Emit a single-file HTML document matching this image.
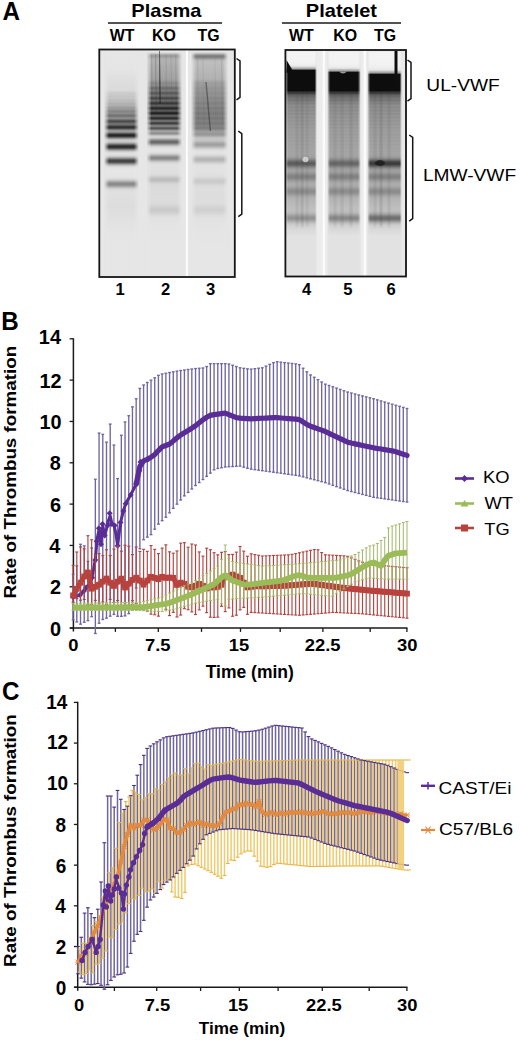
<!DOCTYPE html>
<html><head><meta charset="utf-8"><style>html,body{margin:0;padding:0;background:#fff;width:520px;height:1040px;overflow:hidden}svg{display:block}text{font-family:"Liberation Sans",sans-serif}</style></head>
<body><svg width="520" height="1040" viewBox="0 0 520 1040" font-family="Liberation Sans, sans-serif">
<defs>
<linearGradient id="l1" x1="0" y1="0" x2="0" y2="1"><stop offset="0.0000" stop-color="rgb(230,230,230)"/><stop offset="0.0044" stop-color="rgb(230,230,230)"/><stop offset="0.0088" stop-color="rgb(230,230,230)"/><stop offset="0.0133" stop-color="rgb(230,230,230)"/><stop offset="0.0177" stop-color="rgb(230,230,230)"/><stop offset="0.0221" stop-color="rgb(230,230,230)"/><stop offset="0.0265" stop-color="rgb(230,230,230)"/><stop offset="0.0310" stop-color="rgb(230,230,230)"/><stop offset="0.0354" stop-color="rgb(230,230,230)"/><stop offset="0.0398" stop-color="rgb(230,230,230)"/><stop offset="0.0442" stop-color="rgb(230,230,230)"/><stop offset="0.0487" stop-color="rgb(230,230,230)"/><stop offset="0.0531" stop-color="rgb(230,230,230)"/><stop offset="0.0575" stop-color="rgb(230,230,230)"/><stop offset="0.0619" stop-color="rgb(229,229,229)"/><stop offset="0.0664" stop-color="rgb(229,229,229)"/><stop offset="0.0708" stop-color="rgb(229,229,229)"/><stop offset="0.0752" stop-color="rgb(229,229,229)"/><stop offset="0.0796" stop-color="rgb(229,229,229)"/><stop offset="0.0841" stop-color="rgb(228,228,228)"/><stop offset="0.0885" stop-color="rgb(228,228,228)"/><stop offset="0.0929" stop-color="rgb(227,227,227)"/><stop offset="0.0973" stop-color="rgb(227,227,227)"/><stop offset="0.1018" stop-color="rgb(227,227,227)"/><stop offset="0.1062" stop-color="rgb(226,226,226)"/><stop offset="0.1106" stop-color="rgb(225,225,225)"/><stop offset="0.1150" stop-color="rgb(225,225,225)"/><stop offset="0.1195" stop-color="rgb(224,224,224)"/><stop offset="0.1239" stop-color="rgb(223,223,223)"/><stop offset="0.1283" stop-color="rgb(223,223,223)"/><stop offset="0.1327" stop-color="rgb(222,222,222)"/><stop offset="0.1372" stop-color="rgb(222,222,222)"/><stop offset="0.1416" stop-color="rgb(221,221,221)"/><stop offset="0.1460" stop-color="rgb(221,221,221)"/><stop offset="0.1504" stop-color="rgb(220,220,220)"/><stop offset="0.1549" stop-color="rgb(220,220,220)"/><stop offset="0.1593" stop-color="rgb(219,219,219)"/><stop offset="0.1637" stop-color="rgb(219,219,219)"/><stop offset="0.1681" stop-color="rgb(219,219,219)"/><stop offset="0.1726" stop-color="rgb(219,219,219)"/><stop offset="0.1770" stop-color="rgb(218,218,218)"/><stop offset="0.1814" stop-color="rgb(214,214,214)"/><stop offset="0.1858" stop-color="rgb(207,207,207)"/><stop offset="0.1903" stop-color="rgb(202,202,202)"/><stop offset="0.1947" stop-color="rgb(203,203,203)"/><stop offset="0.1991" stop-color="rgb(202,202,202)"/><stop offset="0.2035" stop-color="rgb(197,197,197)"/><stop offset="0.2080" stop-color="rgb(198,198,198)"/><stop offset="0.2124" stop-color="rgb(199,199,199)"/><stop offset="0.2168" stop-color="rgb(193,193,193)"/><stop offset="0.2212" stop-color="rgb(188,188,188)"/><stop offset="0.2257" stop-color="rgb(189,189,189)"/><stop offset="0.2301" stop-color="rgb(185,185,185)"/><stop offset="0.2345" stop-color="rgb(178,178,178)"/><stop offset="0.2389" stop-color="rgb(177,177,177)"/><stop offset="0.2434" stop-color="rgb(177,177,177)"/><stop offset="0.2478" stop-color="rgb(169,169,169)"/><stop offset="0.2522" stop-color="rgb(158,158,158)"/><stop offset="0.2566" stop-color="rgb(157,157,157)"/><stop offset="0.2611" stop-color="rgb(155,155,155)"/><stop offset="0.2655" stop-color="rgb(143,143,143)"/><stop offset="0.2699" stop-color="rgb(134,134,134)"/><stop offset="0.2743" stop-color="rgb(138,138,138)"/><stop offset="0.2788" stop-color="rgb(140,140,140)"/><stop offset="0.2832" stop-color="rgb(129,129,129)"/><stop offset="0.2876" stop-color="rgb(114,114,114)"/><stop offset="0.2920" stop-color="rgb(116,116,116)"/><stop offset="0.2965" stop-color="rgb(134,134,134)"/><stop offset="0.3009" stop-color="rgb(142,142,142)"/><stop offset="0.3053" stop-color="rgb(123,123,123)"/><stop offset="0.3097" stop-color="rgb(92,92,92)"/><stop offset="0.3142" stop-color="rgb(76,76,76)"/><stop offset="0.3186" stop-color="rgb(86,86,86)"/><stop offset="0.3230" stop-color="rgb(109,109,109)"/><stop offset="0.3274" stop-color="rgb(116,116,116)"/><stop offset="0.3319" stop-color="rgb(95,95,95)"/><stop offset="0.3363" stop-color="rgb(62,62,62)"/><stop offset="0.3407" stop-color="rgb(47,47,47)"/><stop offset="0.3451" stop-color="rgb(67,67,67)"/><stop offset="0.3496" stop-color="rgb(109,109,109)"/><stop offset="0.3540" stop-color="rgb(147,147,147)"/><stop offset="0.3584" stop-color="rgb(158,158,158)"/><stop offset="0.3628" stop-color="rgb(137,137,137)"/><stop offset="0.3673" stop-color="rgb(94,94,94)"/><stop offset="0.3717" stop-color="rgb(53,53,53)"/><stop offset="0.3761" stop-color="rgb(36,36,36)"/><stop offset="0.3805" stop-color="rgb(54,54,54)"/><stop offset="0.3850" stop-color="rgb(97,97,97)"/><stop offset="0.3894" stop-color="rgb(147,147,147)"/><stop offset="0.3938" stop-color="rgb(185,185,185)"/><stop offset="0.3982" stop-color="rgb(204,204,204)"/><stop offset="0.4027" stop-color="rgb(204,204,204)"/><stop offset="0.4071" stop-color="rgb(186,186,186)"/><stop offset="0.4115" stop-color="rgb(152,152,152)"/><stop offset="0.4159" stop-color="rgb(109,109,109)"/><stop offset="0.4204" stop-color="rgb(68,68,68)"/><stop offset="0.4248" stop-color="rgb(46,46,46)"/><stop offset="0.4292" stop-color="rgb(52,52,52)"/><stop offset="0.4336" stop-color="rgb(83,83,83)"/><stop offset="0.4381" stop-color="rgb(127,127,127)"/><stop offset="0.4425" stop-color="rgb(168,168,168)"/><stop offset="0.4469" stop-color="rgb(198,198,198)"/><stop offset="0.4513" stop-color="rgb(216,216,216)"/><stop offset="0.4558" stop-color="rgb(223,223,223)"/><stop offset="0.4602" stop-color="rgb(223,223,223)"/><stop offset="0.4646" stop-color="rgb(216,216,216)"/><stop offset="0.4690" stop-color="rgb(200,200,200)"/><stop offset="0.4735" stop-color="rgb(172,172,172)"/><stop offset="0.4779" stop-color="rgb(135,135,135)"/><stop offset="0.4823" stop-color="rgb(97,97,97)"/><stop offset="0.4867" stop-color="rgb(71,71,71)"/><stop offset="0.4912" stop-color="rgb(69,69,69)"/><stop offset="0.4956" stop-color="rgb(90,90,90)"/><stop offset="0.5000" stop-color="rgb(127,127,127)"/><stop offset="0.5044" stop-color="rgb(165,165,165)"/><stop offset="0.5088" stop-color="rgb(195,195,195)"/><stop offset="0.5133" stop-color="rgb(214,214,214)"/><stop offset="0.5177" stop-color="rgb(224,224,224)"/><stop offset="0.5221" stop-color="rgb(228,228,228)"/><stop offset="0.5265" stop-color="rgb(229,229,229)"/><stop offset="0.5310" stop-color="rgb(229,229,229)"/><stop offset="0.5354" stop-color="rgb(230,230,230)"/><stop offset="0.5398" stop-color="rgb(229,229,229)"/><stop offset="0.5442" stop-color="rgb(229,229,229)"/><stop offset="0.5487" stop-color="rgb(229,229,229)"/><stop offset="0.5531" stop-color="rgb(229,229,229)"/><stop offset="0.5575" stop-color="rgb(228,228,228)"/><stop offset="0.5619" stop-color="rgb(225,225,225)"/><stop offset="0.5664" stop-color="rgb(219,219,219)"/><stop offset="0.5708" stop-color="rgb(208,208,208)"/><stop offset="0.5752" stop-color="rgb(192,192,192)"/><stop offset="0.5796" stop-color="rgb(171,171,171)"/><stop offset="0.5841" stop-color="rgb(151,151,151)"/><stop offset="0.5885" stop-color="rgb(139,139,139)"/><stop offset="0.5929" stop-color="rgb(139,139,139)"/><stop offset="0.5973" stop-color="rgb(150,150,150)"/><stop offset="0.6018" stop-color="rgb(170,170,170)"/><stop offset="0.6062" stop-color="rgb(190,190,190)"/><stop offset="0.6106" stop-color="rgb(206,206,206)"/><stop offset="0.6150" stop-color="rgb(216,216,216)"/><stop offset="0.6195" stop-color="rgb(221,221,221)"/><stop offset="0.6239" stop-color="rgb(223,223,223)"/><stop offset="0.6283" stop-color="rgb(224,224,224)"/><stop offset="0.6327" stop-color="rgb(224,224,224)"/><stop offset="0.6372" stop-color="rgb(224,224,224)"/><stop offset="0.6416" stop-color="rgb(223,223,223)"/><stop offset="0.6460" stop-color="rgb(223,223,223)"/><stop offset="0.6504" stop-color="rgb(223,223,223)"/><stop offset="0.6549" stop-color="rgb(222,222,222)"/><stop offset="0.6593" stop-color="rgb(222,222,222)"/><stop offset="0.6637" stop-color="rgb(222,222,222)"/><stop offset="0.6681" stop-color="rgb(222,222,222)"/><stop offset="0.6726" stop-color="rgb(222,222,222)"/><stop offset="0.6770" stop-color="rgb(221,221,221)"/><stop offset="0.6814" stop-color="rgb(221,221,221)"/><stop offset="0.6858" stop-color="rgb(221,221,221)"/><stop offset="0.6903" stop-color="rgb(221,221,221)"/><stop offset="0.6947" stop-color="rgb(221,221,221)"/><stop offset="0.6991" stop-color="rgb(222,222,222)"/><stop offset="0.7035" stop-color="rgb(222,222,222)"/><stop offset="0.7080" stop-color="rgb(222,222,222)"/><stop offset="0.7124" stop-color="rgb(222,222,222)"/><stop offset="0.7168" stop-color="rgb(222,222,222)"/><stop offset="0.7212" stop-color="rgb(223,223,223)"/><stop offset="0.7257" stop-color="rgb(223,223,223)"/><stop offset="0.7301" stop-color="rgb(223,223,223)"/><stop offset="0.7345" stop-color="rgb(224,224,224)"/><stop offset="0.7389" stop-color="rgb(224,224,224)"/><stop offset="0.7434" stop-color="rgb(224,224,224)"/><stop offset="0.7478" stop-color="rgb(225,225,225)"/><stop offset="0.7522" stop-color="rgb(225,225,225)"/><stop offset="0.7566" stop-color="rgb(226,226,226)"/><stop offset="0.7611" stop-color="rgb(226,226,226)"/><stop offset="0.7655" stop-color="rgb(226,226,226)"/><stop offset="0.7699" stop-color="rgb(227,227,227)"/><stop offset="0.7743" stop-color="rgb(227,227,227)"/><stop offset="0.7788" stop-color="rgb(227,227,227)"/><stop offset="0.7832" stop-color="rgb(227,227,227)"/><stop offset="0.7876" stop-color="rgb(228,228,228)"/><stop offset="0.7920" stop-color="rgb(228,228,228)"/><stop offset="0.7965" stop-color="rgb(228,228,228)"/><stop offset="0.8009" stop-color="rgb(228,228,228)"/><stop offset="0.8053" stop-color="rgb(229,229,229)"/><stop offset="0.8097" stop-color="rgb(229,229,229)"/><stop offset="0.8142" stop-color="rgb(229,229,229)"/><stop offset="0.8186" stop-color="rgb(229,229,229)"/><stop offset="0.8230" stop-color="rgb(229,229,229)"/><stop offset="0.8274" stop-color="rgb(229,229,229)"/><stop offset="0.8319" stop-color="rgb(229,229,229)"/><stop offset="0.8363" stop-color="rgb(230,230,230)"/><stop offset="0.8407" stop-color="rgb(230,230,230)"/><stop offset="0.8451" stop-color="rgb(230,230,230)"/><stop offset="0.8496" stop-color="rgb(230,230,230)"/><stop offset="0.8540" stop-color="rgb(230,230,230)"/><stop offset="0.8584" stop-color="rgb(230,230,230)"/><stop offset="0.8628" stop-color="rgb(230,230,230)"/><stop offset="0.8673" stop-color="rgb(230,230,230)"/><stop offset="0.8717" stop-color="rgb(230,230,230)"/><stop offset="0.8761" stop-color="rgb(230,230,230)"/><stop offset="0.8805" stop-color="rgb(230,230,230)"/><stop offset="0.8850" stop-color="rgb(230,230,230)"/><stop offset="0.8894" stop-color="rgb(230,230,230)"/><stop offset="0.8938" stop-color="rgb(230,230,230)"/><stop offset="0.8982" stop-color="rgb(230,230,230)"/><stop offset="0.9027" stop-color="rgb(230,230,230)"/><stop offset="0.9071" stop-color="rgb(230,230,230)"/><stop offset="0.9115" stop-color="rgb(230,230,230)"/><stop offset="0.9159" stop-color="rgb(230,230,230)"/><stop offset="0.9204" stop-color="rgb(230,230,230)"/><stop offset="0.9248" stop-color="rgb(230,230,230)"/><stop offset="0.9292" stop-color="rgb(230,230,230)"/><stop offset="0.9336" stop-color="rgb(230,230,230)"/><stop offset="0.9381" stop-color="rgb(230,230,230)"/><stop offset="0.9425" stop-color="rgb(230,230,230)"/><stop offset="0.9469" stop-color="rgb(230,230,230)"/><stop offset="0.9513" stop-color="rgb(230,230,230)"/><stop offset="0.9558" stop-color="rgb(230,230,230)"/><stop offset="0.9602" stop-color="rgb(230,230,230)"/><stop offset="0.9646" stop-color="rgb(230,230,230)"/><stop offset="0.9690" stop-color="rgb(230,230,230)"/><stop offset="0.9735" stop-color="rgb(230,230,230)"/><stop offset="0.9779" stop-color="rgb(230,230,230)"/><stop offset="0.9823" stop-color="rgb(230,230,230)"/><stop offset="0.9867" stop-color="rgb(230,230,230)"/><stop offset="0.9912" stop-color="rgb(230,230,230)"/><stop offset="0.9956" stop-color="rgb(230,230,230)"/><stop offset="1.0000" stop-color="rgb(230,230,230)"/></linearGradient>
<linearGradient id="l1mg" x1="0" y1="0" x2="1" y2="0"><stop offset="0" stop-color="#000"/><stop offset="0.143" stop-color="#fff"/><stop offset="0.857" stop-color="#fff"/><stop offset="1" stop-color="#000"/></linearGradient><mask id="l1m" maskUnits="userSpaceOnUse" x="104" y="50" width="35" height="227"><rect x="104" y="50" width="35" height="227" fill="url(#l1mg)"/></mask>
<linearGradient id="l2" x1="0" y1="0" x2="0" y2="1"><stop offset="0.0000" stop-color="rgb(230,230,230)"/><stop offset="0.0044" stop-color="rgb(230,230,230)"/><stop offset="0.0088" stop-color="rgb(229,229,229)"/><stop offset="0.0133" stop-color="rgb(211,211,211)"/><stop offset="0.0177" stop-color="rgb(188,188,188)"/><stop offset="0.0221" stop-color="rgb(162,162,162)"/><stop offset="0.0265" stop-color="rgb(156,156,156)"/><stop offset="0.0310" stop-color="rgb(160,160,160)"/><stop offset="0.0354" stop-color="rgb(170,170,170)"/><stop offset="0.0398" stop-color="rgb(176,176,176)"/><stop offset="0.0442" stop-color="rgb(178,178,178)"/><stop offset="0.0487" stop-color="rgb(177,177,177)"/><stop offset="0.0531" stop-color="rgb(177,177,177)"/><stop offset="0.0575" stop-color="rgb(176,176,176)"/><stop offset="0.0619" stop-color="rgb(175,175,175)"/><stop offset="0.0664" stop-color="rgb(174,174,174)"/><stop offset="0.0708" stop-color="rgb(173,173,173)"/><stop offset="0.0752" stop-color="rgb(172,172,172)"/><stop offset="0.0796" stop-color="rgb(172,172,172)"/><stop offset="0.0841" stop-color="rgb(171,171,171)"/><stop offset="0.0885" stop-color="rgb(170,170,170)"/><stop offset="0.0929" stop-color="rgb(169,169,169)"/><stop offset="0.0973" stop-color="rgb(168,168,168)"/><stop offset="0.1018" stop-color="rgb(167,167,167)"/><stop offset="0.1062" stop-color="rgb(166,166,166)"/><stop offset="0.1106" stop-color="rgb(165,165,165)"/><stop offset="0.1150" stop-color="rgb(165,165,165)"/><stop offset="0.1195" stop-color="rgb(164,164,164)"/><stop offset="0.1239" stop-color="rgb(163,163,163)"/><stop offset="0.1283" stop-color="rgb(161,161,161)"/><stop offset="0.1327" stop-color="rgb(158,158,158)"/><stop offset="0.1372" stop-color="rgb(152,152,152)"/><stop offset="0.1416" stop-color="rgb(142,142,142)"/><stop offset="0.1460" stop-color="rgb(137,137,137)"/><stop offset="0.1504" stop-color="rgb(139,139,139)"/><stop offset="0.1549" stop-color="rgb(142,142,142)"/><stop offset="0.1593" stop-color="rgb(134,134,134)"/><stop offset="0.1637" stop-color="rgb(117,117,117)"/><stop offset="0.1681" stop-color="rgb(107,107,107)"/><stop offset="0.1726" stop-color="rgb(114,114,114)"/><stop offset="0.1770" stop-color="rgb(124,124,124)"/><stop offset="0.1814" stop-color="rgb(120,120,120)"/><stop offset="0.1858" stop-color="rgb(100,100,100)"/><stop offset="0.1903" stop-color="rgb(88,88,88)"/><stop offset="0.1947" stop-color="rgb(99,99,99)"/><stop offset="0.1991" stop-color="rgb(115,115,115)"/><stop offset="0.2035" stop-color="rgb(110,110,110)"/><stop offset="0.2080" stop-color="rgb(85,85,85)"/><stop offset="0.2124" stop-color="rgb(70,70,70)"/><stop offset="0.2168" stop-color="rgb(84,84,84)"/><stop offset="0.2212" stop-color="rgb(106,106,106)"/><stop offset="0.2257" stop-color="rgb(101,101,101)"/><stop offset="0.2301" stop-color="rgb(71,71,71)"/><stop offset="0.2345" stop-color="rgb(53,53,53)"/><stop offset="0.2389" stop-color="rgb(70,70,70)"/><stop offset="0.2434" stop-color="rgb(96,96,96)"/><stop offset="0.2478" stop-color="rgb(91,91,91)"/><stop offset="0.2522" stop-color="rgb(57,57,57)"/><stop offset="0.2566" stop-color="rgb(36,36,36)"/><stop offset="0.2611" stop-color="rgb(56,56,56)"/><stop offset="0.2655" stop-color="rgb(88,88,88)"/><stop offset="0.2699" stop-color="rgb(86,86,86)"/><stop offset="0.2743" stop-color="rgb(49,49,49)"/><stop offset="0.2788" stop-color="rgb(30,30,30)"/><stop offset="0.2832" stop-color="rgb(55,55,55)"/><stop offset="0.2876" stop-color="rgb(93,93,93)"/><stop offset="0.2920" stop-color="rgb(95,95,95)"/><stop offset="0.2965" stop-color="rgb(61,61,61)"/><stop offset="0.3009" stop-color="rgb(41,41,41)"/><stop offset="0.3053" stop-color="rgb(67,67,67)"/><stop offset="0.3097" stop-color="rgb(107,107,107)"/><stop offset="0.3142" stop-color="rgb(112,112,112)"/><stop offset="0.3186" stop-color="rgb(80,80,80)"/><stop offset="0.3230" stop-color="rgb(61,61,61)"/><stop offset="0.3274" stop-color="rgb(86,86,86)"/><stop offset="0.3319" stop-color="rgb(126,126,126)"/><stop offset="0.3363" stop-color="rgb(130,130,130)"/><stop offset="0.3407" stop-color="rgb(101,101,101)"/><stop offset="0.3451" stop-color="rgb(83,83,83)"/><stop offset="0.3496" stop-color="rgb(108,108,108)"/><stop offset="0.3540" stop-color="rgb(149,149,149)"/><stop offset="0.3584" stop-color="rgb(164,164,164)"/><stop offset="0.3628" stop-color="rgb(151,151,151)"/><stop offset="0.3673" stop-color="rgb(142,142,142)"/><stop offset="0.3717" stop-color="rgb(159,159,159)"/><stop offset="0.3761" stop-color="rgb(190,190,190)"/><stop offset="0.3805" stop-color="rgb(208,208,208)"/><stop offset="0.3850" stop-color="rgb(208,208,208)"/><stop offset="0.3894" stop-color="rgb(189,189,189)"/><stop offset="0.3938" stop-color="rgb(160,160,160)"/><stop offset="0.3982" stop-color="rgb(130,130,130)"/><stop offset="0.4027" stop-color="rgb(109,109,109)"/><stop offset="0.4071" stop-color="rgb(106,106,106)"/><stop offset="0.4115" stop-color="rgb(124,124,124)"/><stop offset="0.4159" stop-color="rgb(154,154,154)"/><stop offset="0.4204" stop-color="rgb(183,183,183)"/><stop offset="0.4248" stop-color="rgb(206,206,206)"/><stop offset="0.4292" stop-color="rgb(219,219,219)"/><stop offset="0.4336" stop-color="rgb(225,225,225)"/><stop offset="0.4381" stop-color="rgb(227,227,227)"/><stop offset="0.4425" stop-color="rgb(228,228,228)"/><stop offset="0.4469" stop-color="rgb(226,226,226)"/><stop offset="0.4513" stop-color="rgb(222,222,222)"/><stop offset="0.4558" stop-color="rgb(212,212,212)"/><stop offset="0.4602" stop-color="rgb(197,197,197)"/><stop offset="0.4646" stop-color="rgb(175,175,175)"/><stop offset="0.4690" stop-color="rgb(153,153,153)"/><stop offset="0.4735" stop-color="rgb(139,139,139)"/><stop offset="0.4779" stop-color="rgb(139,139,139)"/><stop offset="0.4823" stop-color="rgb(152,152,152)"/><stop offset="0.4867" stop-color="rgb(174,174,174)"/><stop offset="0.4912" stop-color="rgb(195,195,195)"/><stop offset="0.4956" stop-color="rgb(210,210,210)"/><stop offset="0.5000" stop-color="rgb(219,219,219)"/><stop offset="0.5044" stop-color="rgb(223,223,223)"/><stop offset="0.5088" stop-color="rgb(224,224,224)"/><stop offset="0.5133" stop-color="rgb(225,225,225)"/><stop offset="0.5177" stop-color="rgb(224,224,224)"/><stop offset="0.5221" stop-color="rgb(224,224,224)"/><stop offset="0.5265" stop-color="rgb(224,224,224)"/><stop offset="0.5310" stop-color="rgb(223,223,223)"/><stop offset="0.5354" stop-color="rgb(223,223,223)"/><stop offset="0.5398" stop-color="rgb(222,222,222)"/><stop offset="0.5442" stop-color="rgb(221,221,221)"/><stop offset="0.5487" stop-color="rgb(219,219,219)"/><stop offset="0.5531" stop-color="rgb(214,214,214)"/><stop offset="0.5575" stop-color="rgb(207,207,207)"/><stop offset="0.5619" stop-color="rgb(199,199,199)"/><stop offset="0.5664" stop-color="rgb(191,191,191)"/><stop offset="0.5708" stop-color="rgb(189,189,189)"/><stop offset="0.5752" stop-color="rgb(191,191,191)"/><stop offset="0.5796" stop-color="rgb(197,197,197)"/><stop offset="0.5841" stop-color="rgb(205,205,205)"/><stop offset="0.5885" stop-color="rgb(212,212,212)"/><stop offset="0.5929" stop-color="rgb(216,216,216)"/><stop offset="0.5973" stop-color="rgb(218,218,218)"/><stop offset="0.6018" stop-color="rgb(219,219,219)"/><stop offset="0.6062" stop-color="rgb(219,219,219)"/><stop offset="0.6106" stop-color="rgb(219,219,219)"/><stop offset="0.6150" stop-color="rgb(219,219,219)"/><stop offset="0.6195" stop-color="rgb(219,219,219)"/><stop offset="0.6239" stop-color="rgb(219,219,219)"/><stop offset="0.6283" stop-color="rgb(219,219,219)"/><stop offset="0.6327" stop-color="rgb(219,219,219)"/><stop offset="0.6372" stop-color="rgb(219,219,219)"/><stop offset="0.6416" stop-color="rgb(220,220,220)"/><stop offset="0.6460" stop-color="rgb(220,220,220)"/><stop offset="0.6504" stop-color="rgb(220,220,220)"/><stop offset="0.6549" stop-color="rgb(220,220,220)"/><stop offset="0.6593" stop-color="rgb(220,220,220)"/><stop offset="0.6637" stop-color="rgb(220,220,220)"/><stop offset="0.6681" stop-color="rgb(220,220,220)"/><stop offset="0.6726" stop-color="rgb(219,219,219)"/><stop offset="0.6770" stop-color="rgb(218,218,218)"/><stop offset="0.6814" stop-color="rgb(215,215,215)"/><stop offset="0.6858" stop-color="rgb(213,213,213)"/><stop offset="0.6903" stop-color="rgb(209,209,209)"/><stop offset="0.6947" stop-color="rgb(206,206,206)"/><stop offset="0.6991" stop-color="rgb(203,203,203)"/><stop offset="0.7035" stop-color="rgb(202,202,202)"/><stop offset="0.7080" stop-color="rgb(202,202,202)"/><stop offset="0.7124" stop-color="rgb(205,205,205)"/><stop offset="0.7168" stop-color="rgb(208,208,208)"/><stop offset="0.7212" stop-color="rgb(212,212,212)"/><stop offset="0.7257" stop-color="rgb(216,216,216)"/><stop offset="0.7301" stop-color="rgb(220,220,220)"/><stop offset="0.7345" stop-color="rgb(222,222,222)"/><stop offset="0.7389" stop-color="rgb(224,224,224)"/><stop offset="0.7434" stop-color="rgb(225,225,225)"/><stop offset="0.7478" stop-color="rgb(226,226,226)"/><stop offset="0.7522" stop-color="rgb(226,226,226)"/><stop offset="0.7566" stop-color="rgb(227,227,227)"/><stop offset="0.7611" stop-color="rgb(227,227,227)"/><stop offset="0.7655" stop-color="rgb(227,227,227)"/><stop offset="0.7699" stop-color="rgb(227,227,227)"/><stop offset="0.7743" stop-color="rgb(228,228,228)"/><stop offset="0.7788" stop-color="rgb(228,228,228)"/><stop offset="0.7832" stop-color="rgb(228,228,228)"/><stop offset="0.7876" stop-color="rgb(228,228,228)"/><stop offset="0.7920" stop-color="rgb(228,228,228)"/><stop offset="0.7965" stop-color="rgb(229,229,229)"/><stop offset="0.8009" stop-color="rgb(229,229,229)"/><stop offset="0.8053" stop-color="rgb(229,229,229)"/><stop offset="0.8097" stop-color="rgb(229,229,229)"/><stop offset="0.8142" stop-color="rgb(229,229,229)"/><stop offset="0.8186" stop-color="rgb(229,229,229)"/><stop offset="0.8230" stop-color="rgb(229,229,229)"/><stop offset="0.8274" stop-color="rgb(229,229,229)"/><stop offset="0.8319" stop-color="rgb(229,229,229)"/><stop offset="0.8363" stop-color="rgb(229,229,229)"/><stop offset="0.8407" stop-color="rgb(230,230,230)"/><stop offset="0.8451" stop-color="rgb(230,230,230)"/><stop offset="0.8496" stop-color="rgb(230,230,230)"/><stop offset="0.8540" stop-color="rgb(230,230,230)"/><stop offset="0.8584" stop-color="rgb(230,230,230)"/><stop offset="0.8628" stop-color="rgb(230,230,230)"/><stop offset="0.8673" stop-color="rgb(230,230,230)"/><stop offset="0.8717" stop-color="rgb(230,230,230)"/><stop offset="0.8761" stop-color="rgb(230,230,230)"/><stop offset="0.8805" stop-color="rgb(230,230,230)"/><stop offset="0.8850" stop-color="rgb(230,230,230)"/><stop offset="0.8894" stop-color="rgb(230,230,230)"/><stop offset="0.8938" stop-color="rgb(230,230,230)"/><stop offset="0.8982" stop-color="rgb(230,230,230)"/><stop offset="0.9027" stop-color="rgb(230,230,230)"/><stop offset="0.9071" stop-color="rgb(230,230,230)"/><stop offset="0.9115" stop-color="rgb(230,230,230)"/><stop offset="0.9159" stop-color="rgb(230,230,230)"/><stop offset="0.9204" stop-color="rgb(230,230,230)"/><stop offset="0.9248" stop-color="rgb(230,230,230)"/><stop offset="0.9292" stop-color="rgb(230,230,230)"/><stop offset="0.9336" stop-color="rgb(230,230,230)"/><stop offset="0.9381" stop-color="rgb(230,230,230)"/><stop offset="0.9425" stop-color="rgb(230,230,230)"/><stop offset="0.9469" stop-color="rgb(230,230,230)"/><stop offset="0.9513" stop-color="rgb(230,230,230)"/><stop offset="0.9558" stop-color="rgb(230,230,230)"/><stop offset="0.9602" stop-color="rgb(230,230,230)"/><stop offset="0.9646" stop-color="rgb(230,230,230)"/><stop offset="0.9690" stop-color="rgb(230,230,230)"/><stop offset="0.9735" stop-color="rgb(230,230,230)"/><stop offset="0.9779" stop-color="rgb(230,230,230)"/><stop offset="0.9823" stop-color="rgb(230,230,230)"/><stop offset="0.9867" stop-color="rgb(230,230,230)"/><stop offset="0.9912" stop-color="rgb(230,230,230)"/><stop offset="0.9956" stop-color="rgb(230,230,230)"/><stop offset="1.0000" stop-color="rgb(230,230,230)"/></linearGradient>
<linearGradient id="l2mg" x1="0" y1="0" x2="1" y2="0"><stop offset="0" stop-color="#000"/><stop offset="0.140" stop-color="#fff"/><stop offset="0.860" stop-color="#fff"/><stop offset="1" stop-color="#000"/></linearGradient><mask id="l2m" maskUnits="userSpaceOnUse" x="146.4" y="50" width="35.69999999999999" height="227"><rect x="146.4" y="50" width="35.69999999999999" height="227" fill="url(#l2mg)"/></mask>
<linearGradient id="l3" x1="0" y1="0" x2="0" y2="1"><stop offset="0.0000" stop-color="rgb(230,230,230)"/><stop offset="0.0044" stop-color="rgb(229,229,229)"/><stop offset="0.0088" stop-color="rgb(226,226,226)"/><stop offset="0.0133" stop-color="rgb(204,204,204)"/><stop offset="0.0177" stop-color="rgb(175,175,175)"/><stop offset="0.0221" stop-color="rgb(141,141,141)"/><stop offset="0.0265" stop-color="rgb(125,125,125)"/><stop offset="0.0310" stop-color="rgb(125,125,125)"/><stop offset="0.0354" stop-color="rgb(141,141,141)"/><stop offset="0.0398" stop-color="rgb(162,162,162)"/><stop offset="0.0442" stop-color="rgb(179,179,179)"/><stop offset="0.0487" stop-color="rgb(186,186,186)"/><stop offset="0.0531" stop-color="rgb(189,189,189)"/><stop offset="0.0575" stop-color="rgb(189,189,189)"/><stop offset="0.0619" stop-color="rgb(188,188,188)"/><stop offset="0.0664" stop-color="rgb(188,188,188)"/><stop offset="0.0708" stop-color="rgb(187,187,187)"/><stop offset="0.0752" stop-color="rgb(186,186,186)"/><stop offset="0.0796" stop-color="rgb(186,186,186)"/><stop offset="0.0841" stop-color="rgb(185,185,185)"/><stop offset="0.0885" stop-color="rgb(184,184,184)"/><stop offset="0.0929" stop-color="rgb(183,183,183)"/><stop offset="0.0973" stop-color="rgb(183,183,183)"/><stop offset="0.1018" stop-color="rgb(182,182,182)"/><stop offset="0.1062" stop-color="rgb(181,181,181)"/><stop offset="0.1106" stop-color="rgb(181,181,181)"/><stop offset="0.1150" stop-color="rgb(180,180,180)"/><stop offset="0.1195" stop-color="rgb(179,179,179)"/><stop offset="0.1239" stop-color="rgb(178,178,178)"/><stop offset="0.1283" stop-color="rgb(176,176,176)"/><stop offset="0.1327" stop-color="rgb(172,172,172)"/><stop offset="0.1372" stop-color="rgb(166,166,166)"/><stop offset="0.1416" stop-color="rgb(160,160,160)"/><stop offset="0.1460" stop-color="rgb(157,157,157)"/><stop offset="0.1504" stop-color="rgb(157,157,157)"/><stop offset="0.1549" stop-color="rgb(157,157,157)"/><stop offset="0.1593" stop-color="rgb(155,155,155)"/><stop offset="0.1637" stop-color="rgb(151,151,151)"/><stop offset="0.1681" stop-color="rgb(148,148,148)"/><stop offset="0.1726" stop-color="rgb(149,149,149)"/><stop offset="0.1770" stop-color="rgb(150,150,150)"/><stop offset="0.1814" stop-color="rgb(149,149,149)"/><stop offset="0.1858" stop-color="rgb(145,145,145)"/><stop offset="0.1903" stop-color="rgb(142,142,142)"/><stop offset="0.1947" stop-color="rgb(144,144,144)"/><stop offset="0.1991" stop-color="rgb(146,146,146)"/><stop offset="0.2035" stop-color="rgb(144,144,144)"/><stop offset="0.2080" stop-color="rgb(139,139,139)"/><stop offset="0.2124" stop-color="rgb(136,136,136)"/><stop offset="0.2168" stop-color="rgb(137,137,137)"/><stop offset="0.2212" stop-color="rgb(140,140,140)"/><stop offset="0.2257" stop-color="rgb(138,138,138)"/><stop offset="0.2301" stop-color="rgb(132,132,132)"/><stop offset="0.2345" stop-color="rgb(129,129,129)"/><stop offset="0.2389" stop-color="rgb(131,131,131)"/><stop offset="0.2434" stop-color="rgb(135,135,135)"/><stop offset="0.2478" stop-color="rgb(134,134,134)"/><stop offset="0.2522" stop-color="rgb(128,128,128)"/><stop offset="0.2566" stop-color="rgb(124,124,124)"/><stop offset="0.2611" stop-color="rgb(127,127,127)"/><stop offset="0.2655" stop-color="rgb(131,131,131)"/><stop offset="0.2699" stop-color="rgb(130,130,130)"/><stop offset="0.2743" stop-color="rgb(124,124,124)"/><stop offset="0.2788" stop-color="rgb(120,120,120)"/><stop offset="0.2832" stop-color="rgb(123,123,123)"/><stop offset="0.2876" stop-color="rgb(129,129,129)"/><stop offset="0.2920" stop-color="rgb(129,129,129)"/><stop offset="0.2965" stop-color="rgb(123,123,123)"/><stop offset="0.3009" stop-color="rgb(120,120,120)"/><stop offset="0.3053" stop-color="rgb(123,123,123)"/><stop offset="0.3097" stop-color="rgb(129,129,129)"/><stop offset="0.3142" stop-color="rgb(129,129,129)"/><stop offset="0.3186" stop-color="rgb(123,123,123)"/><stop offset="0.3230" stop-color="rgb(120,120,120)"/><stop offset="0.3274" stop-color="rgb(124,124,124)"/><stop offset="0.3319" stop-color="rgb(130,130,130)"/><stop offset="0.3363" stop-color="rgb(131,131,131)"/><stop offset="0.3407" stop-color="rgb(127,127,127)"/><stop offset="0.3451" stop-color="rgb(125,125,125)"/><stop offset="0.3496" stop-color="rgb(134,134,134)"/><stop offset="0.3540" stop-color="rgb(147,147,147)"/><stop offset="0.3584" stop-color="rgb(156,156,156)"/><stop offset="0.3628" stop-color="rgb(156,156,156)"/><stop offset="0.3673" stop-color="rgb(151,151,151)"/><stop offset="0.3717" stop-color="rgb(151,151,151)"/><stop offset="0.3761" stop-color="rgb(159,159,159)"/><stop offset="0.3805" stop-color="rgb(174,174,174)"/><stop offset="0.3850" stop-color="rgb(188,188,188)"/><stop offset="0.3894" stop-color="rgb(196,196,196)"/><stop offset="0.3938" stop-color="rgb(198,198,198)"/><stop offset="0.3982" stop-color="rgb(195,195,195)"/><stop offset="0.4027" stop-color="rgb(187,187,187)"/><stop offset="0.4071" stop-color="rgb(176,176,176)"/><stop offset="0.4115" stop-color="rgb(165,165,165)"/><stop offset="0.4159" stop-color="rgb(160,160,160)"/><stop offset="0.4204" stop-color="rgb(163,163,163)"/><stop offset="0.4248" stop-color="rgb(175,175,175)"/><stop offset="0.4292" stop-color="rgb(189,189,189)"/><stop offset="0.4336" stop-color="rgb(203,203,203)"/><stop offset="0.4381" stop-color="rgb(215,215,215)"/><stop offset="0.4425" stop-color="rgb(222,222,222)"/><stop offset="0.4469" stop-color="rgb(226,226,226)"/><stop offset="0.4513" stop-color="rgb(227,227,227)"/><stop offset="0.4558" stop-color="rgb(225,225,225)"/><stop offset="0.4602" stop-color="rgb(221,221,221)"/><stop offset="0.4646" stop-color="rgb(214,214,214)"/><stop offset="0.4690" stop-color="rgb(204,204,204)"/><stop offset="0.4735" stop-color="rgb(193,193,193)"/><stop offset="0.4779" stop-color="rgb(185,185,185)"/><stop offset="0.4823" stop-color="rgb(181,181,181)"/><stop offset="0.4867" stop-color="rgb(184,184,184)"/><stop offset="0.4912" stop-color="rgb(193,193,193)"/><stop offset="0.4956" stop-color="rgb(203,203,203)"/><stop offset="0.5000" stop-color="rgb(213,213,213)"/><stop offset="0.5044" stop-color="rgb(220,220,220)"/><stop offset="0.5088" stop-color="rgb(224,224,224)"/><stop offset="0.5133" stop-color="rgb(226,226,226)"/><stop offset="0.5177" stop-color="rgb(226,226,226)"/><stop offset="0.5221" stop-color="rgb(226,226,226)"/><stop offset="0.5265" stop-color="rgb(226,226,226)"/><stop offset="0.5310" stop-color="rgb(226,226,226)"/><stop offset="0.5354" stop-color="rgb(226,226,226)"/><stop offset="0.5398" stop-color="rgb(225,225,225)"/><stop offset="0.5442" stop-color="rgb(225,225,225)"/><stop offset="0.5487" stop-color="rgb(224,224,224)"/><stop offset="0.5531" stop-color="rgb(223,223,223)"/><stop offset="0.5575" stop-color="rgb(220,220,220)"/><stop offset="0.5619" stop-color="rgb(216,216,216)"/><stop offset="0.5664" stop-color="rgb(211,211,211)"/><stop offset="0.5708" stop-color="rgb(206,206,206)"/><stop offset="0.5752" stop-color="rgb(203,203,203)"/><stop offset="0.5796" stop-color="rgb(202,202,202)"/><stop offset="0.5841" stop-color="rgb(204,204,204)"/><stop offset="0.5885" stop-color="rgb(209,209,209)"/><stop offset="0.5929" stop-color="rgb(213,213,213)"/><stop offset="0.5973" stop-color="rgb(217,217,217)"/><stop offset="0.6018" stop-color="rgb(220,220,220)"/><stop offset="0.6062" stop-color="rgb(221,221,221)"/><stop offset="0.6106" stop-color="rgb(222,222,222)"/><stop offset="0.6150" stop-color="rgb(222,222,222)"/><stop offset="0.6195" stop-color="rgb(222,222,222)"/><stop offset="0.6239" stop-color="rgb(222,222,222)"/><stop offset="0.6283" stop-color="rgb(221,221,221)"/><stop offset="0.6327" stop-color="rgb(221,221,221)"/><stop offset="0.6372" stop-color="rgb(221,221,221)"/><stop offset="0.6416" stop-color="rgb(221,221,221)"/><stop offset="0.6460" stop-color="rgb(221,221,221)"/><stop offset="0.6504" stop-color="rgb(221,221,221)"/><stop offset="0.6549" stop-color="rgb(221,221,221)"/><stop offset="0.6593" stop-color="rgb(221,221,221)"/><stop offset="0.6637" stop-color="rgb(221,221,221)"/><stop offset="0.6681" stop-color="rgb(221,221,221)"/><stop offset="0.6726" stop-color="rgb(221,221,221)"/><stop offset="0.6770" stop-color="rgb(220,220,220)"/><stop offset="0.6814" stop-color="rgb(218,218,218)"/><stop offset="0.6858" stop-color="rgb(216,216,216)"/><stop offset="0.6903" stop-color="rgb(213,213,213)"/><stop offset="0.6947" stop-color="rgb(211,211,211)"/><stop offset="0.6991" stop-color="rgb(209,209,209)"/><stop offset="0.7035" stop-color="rgb(208,208,208)"/><stop offset="0.7080" stop-color="rgb(209,209,209)"/><stop offset="0.7124" stop-color="rgb(210,210,210)"/><stop offset="0.7168" stop-color="rgb(213,213,213)"/><stop offset="0.7212" stop-color="rgb(216,216,216)"/><stop offset="0.7257" stop-color="rgb(218,218,218)"/><stop offset="0.7301" stop-color="rgb(221,221,221)"/><stop offset="0.7345" stop-color="rgb(223,223,223)"/><stop offset="0.7389" stop-color="rgb(224,224,224)"/><stop offset="0.7434" stop-color="rgb(225,225,225)"/><stop offset="0.7478" stop-color="rgb(226,226,226)"/><stop offset="0.7522" stop-color="rgb(226,226,226)"/><stop offset="0.7566" stop-color="rgb(226,226,226)"/><stop offset="0.7611" stop-color="rgb(227,227,227)"/><stop offset="0.7655" stop-color="rgb(227,227,227)"/><stop offset="0.7699" stop-color="rgb(227,227,227)"/><stop offset="0.7743" stop-color="rgb(227,227,227)"/><stop offset="0.7788" stop-color="rgb(227,227,227)"/><stop offset="0.7832" stop-color="rgb(228,228,228)"/><stop offset="0.7876" stop-color="rgb(228,228,228)"/><stop offset="0.7920" stop-color="rgb(228,228,228)"/><stop offset="0.7965" stop-color="rgb(228,228,228)"/><stop offset="0.8009" stop-color="rgb(228,228,228)"/><stop offset="0.8053" stop-color="rgb(228,228,228)"/><stop offset="0.8097" stop-color="rgb(229,229,229)"/><stop offset="0.8142" stop-color="rgb(229,229,229)"/><stop offset="0.8186" stop-color="rgb(229,229,229)"/><stop offset="0.8230" stop-color="rgb(229,229,229)"/><stop offset="0.8274" stop-color="rgb(229,229,229)"/><stop offset="0.8319" stop-color="rgb(229,229,229)"/><stop offset="0.8363" stop-color="rgb(229,229,229)"/><stop offset="0.8407" stop-color="rgb(229,229,229)"/><stop offset="0.8451" stop-color="rgb(229,229,229)"/><stop offset="0.8496" stop-color="rgb(229,229,229)"/><stop offset="0.8540" stop-color="rgb(230,230,230)"/><stop offset="0.8584" stop-color="rgb(230,230,230)"/><stop offset="0.8628" stop-color="rgb(230,230,230)"/><stop offset="0.8673" stop-color="rgb(230,230,230)"/><stop offset="0.8717" stop-color="rgb(230,230,230)"/><stop offset="0.8761" stop-color="rgb(230,230,230)"/><stop offset="0.8805" stop-color="rgb(230,230,230)"/><stop offset="0.8850" stop-color="rgb(230,230,230)"/><stop offset="0.8894" stop-color="rgb(230,230,230)"/><stop offset="0.8938" stop-color="rgb(230,230,230)"/><stop offset="0.8982" stop-color="rgb(230,230,230)"/><stop offset="0.9027" stop-color="rgb(230,230,230)"/><stop offset="0.9071" stop-color="rgb(230,230,230)"/><stop offset="0.9115" stop-color="rgb(230,230,230)"/><stop offset="0.9159" stop-color="rgb(230,230,230)"/><stop offset="0.9204" stop-color="rgb(230,230,230)"/><stop offset="0.9248" stop-color="rgb(230,230,230)"/><stop offset="0.9292" stop-color="rgb(230,230,230)"/><stop offset="0.9336" stop-color="rgb(230,230,230)"/><stop offset="0.9381" stop-color="rgb(230,230,230)"/><stop offset="0.9425" stop-color="rgb(230,230,230)"/><stop offset="0.9469" stop-color="rgb(230,230,230)"/><stop offset="0.9513" stop-color="rgb(230,230,230)"/><stop offset="0.9558" stop-color="rgb(230,230,230)"/><stop offset="0.9602" stop-color="rgb(230,230,230)"/><stop offset="0.9646" stop-color="rgb(230,230,230)"/><stop offset="0.9690" stop-color="rgb(230,230,230)"/><stop offset="0.9735" stop-color="rgb(230,230,230)"/><stop offset="0.9779" stop-color="rgb(230,230,230)"/><stop offset="0.9823" stop-color="rgb(230,230,230)"/><stop offset="0.9867" stop-color="rgb(230,230,230)"/><stop offset="0.9912" stop-color="rgb(230,230,230)"/><stop offset="0.9956" stop-color="rgb(230,230,230)"/><stop offset="1.0000" stop-color="rgb(230,230,230)"/></linearGradient>
<linearGradient id="l3mg" x1="0" y1="0" x2="1" y2="0"><stop offset="0" stop-color="#000"/><stop offset="0.134" stop-color="#fff"/><stop offset="0.866" stop-color="#fff"/><stop offset="1" stop-color="#000"/></linearGradient><mask id="l3m" maskUnits="userSpaceOnUse" x="191" y="50" width="37.19999999999999" height="227"><rect x="191" y="50" width="37.19999999999999" height="227" fill="url(#l3mg)"/></mask>
<linearGradient id="p4" x1="0" y1="0" x2="0" y2="1"><stop offset="0.0000" stop-color="rgb(226,226,226)"/><stop offset="0.0044" stop-color="rgb(226,226,226)"/><stop offset="0.0088" stop-color="rgb(243,243,243)"/><stop offset="0.0133" stop-color="rgb(243,243,243)"/><stop offset="0.0177" stop-color="rgb(243,243,243)"/><stop offset="0.0221" stop-color="rgb(243,243,243)"/><stop offset="0.0265" stop-color="rgb(243,243,243)"/><stop offset="0.0310" stop-color="rgb(243,243,243)"/><stop offset="0.0354" stop-color="rgb(243,243,243)"/><stop offset="0.0398" stop-color="rgb(243,243,243)"/><stop offset="0.0442" stop-color="rgb(243,243,243)"/><stop offset="0.0487" stop-color="rgb(243,243,243)"/><stop offset="0.0531" stop-color="rgb(242,242,242)"/><stop offset="0.0575" stop-color="rgb(241,241,241)"/><stop offset="0.0619" stop-color="rgb(240,240,240)"/><stop offset="0.0664" stop-color="rgb(237,237,237)"/><stop offset="0.0708" stop-color="rgb(232,232,232)"/><stop offset="0.0752" stop-color="rgb(211,211,211)"/><stop offset="0.0796" stop-color="rgb(175,175,175)"/><stop offset="0.0841" stop-color="rgb(163,163,163)"/><stop offset="0.0885" stop-color="rgb(8,8,8)"/><stop offset="0.0929" stop-color="rgb(8,8,8)"/><stop offset="0.0973" stop-color="rgb(8,8,8)"/><stop offset="0.1018" stop-color="rgb(8,8,8)"/><stop offset="0.1062" stop-color="rgb(8,8,8)"/><stop offset="0.1106" stop-color="rgb(8,8,8)"/><stop offset="0.1150" stop-color="rgb(8,8,8)"/><stop offset="0.1195" stop-color="rgb(8,8,8)"/><stop offset="0.1239" stop-color="rgb(8,8,8)"/><stop offset="0.1283" stop-color="rgb(8,8,8)"/><stop offset="0.1327" stop-color="rgb(8,8,8)"/><stop offset="0.1372" stop-color="rgb(8,8,8)"/><stop offset="0.1416" stop-color="rgb(8,8,8)"/><stop offset="0.1460" stop-color="rgb(8,8,8)"/><stop offset="0.1504" stop-color="rgb(8,8,8)"/><stop offset="0.1549" stop-color="rgb(8,8,8)"/><stop offset="0.1593" stop-color="rgb(8,8,8)"/><stop offset="0.1637" stop-color="rgb(8,8,8)"/><stop offset="0.1681" stop-color="rgb(8,8,8)"/><stop offset="0.1726" stop-color="rgb(8,8,8)"/><stop offset="0.1770" stop-color="rgb(8,8,8)"/><stop offset="0.1814" stop-color="rgb(30,30,30)"/><stop offset="0.1858" stop-color="rgb(52,52,52)"/><stop offset="0.1903" stop-color="rgb(61,61,61)"/><stop offset="0.1947" stop-color="rgb(78,78,78)"/><stop offset="0.1991" stop-color="rgb(97,97,97)"/><stop offset="0.2035" stop-color="rgb(104,104,104)"/><stop offset="0.2080" stop-color="rgb(106,106,106)"/><stop offset="0.2124" stop-color="rgb(117,117,117)"/><stop offset="0.2168" stop-color="rgb(119,119,119)"/><stop offset="0.2212" stop-color="rgb(116,116,116)"/><stop offset="0.2257" stop-color="rgb(125,125,125)"/><stop offset="0.2301" stop-color="rgb(132,132,132)"/><stop offset="0.2345" stop-color="rgb(129,129,129)"/><stop offset="0.2389" stop-color="rgb(133,133,133)"/><stop offset="0.2434" stop-color="rgb(143,143,143)"/><stop offset="0.2478" stop-color="rgb(139,139,139)"/><stop offset="0.2522" stop-color="rgb(136,136,136)"/><stop offset="0.2566" stop-color="rgb(143,143,143)"/><stop offset="0.2611" stop-color="rgb(144,144,144)"/><stop offset="0.2655" stop-color="rgb(139,139,139)"/><stop offset="0.2699" stop-color="rgb(142,142,142)"/><stop offset="0.2743" stop-color="rgb(148,148,148)"/><stop offset="0.2788" stop-color="rgb(143,143,143)"/><stop offset="0.2832" stop-color="rgb(142,142,142)"/><stop offset="0.2876" stop-color="rgb(149,149,149)"/><stop offset="0.2920" stop-color="rgb(148,148,148)"/><stop offset="0.2965" stop-color="rgb(144,144,144)"/><stop offset="0.3009" stop-color="rgb(149,149,149)"/><stop offset="0.3053" stop-color="rgb(152,152,152)"/><stop offset="0.3097" stop-color="rgb(147,147,147)"/><stop offset="0.3142" stop-color="rgb(148,148,148)"/><stop offset="0.3186" stop-color="rgb(154,154,154)"/><stop offset="0.3230" stop-color="rgb(151,151,151)"/><stop offset="0.3274" stop-color="rgb(149,149,149)"/><stop offset="0.3319" stop-color="rgb(154,154,154)"/><stop offset="0.3363" stop-color="rgb(155,155,155)"/><stop offset="0.3407" stop-color="rgb(152,152,152)"/><stop offset="0.3451" stop-color="rgb(154,154,154)"/><stop offset="0.3496" stop-color="rgb(158,158,158)"/><stop offset="0.3540" stop-color="rgb(155,155,155)"/><stop offset="0.3584" stop-color="rgb(155,155,155)"/><stop offset="0.3628" stop-color="rgb(159,159,159)"/><stop offset="0.3673" stop-color="rgb(158,158,158)"/><stop offset="0.3717" stop-color="rgb(155,155,155)"/><stop offset="0.3761" stop-color="rgb(158,158,158)"/><stop offset="0.3805" stop-color="rgb(160,160,160)"/><stop offset="0.3850" stop-color="rgb(157,157,157)"/><stop offset="0.3894" stop-color="rgb(158,158,158)"/><stop offset="0.3938" stop-color="rgb(161,161,161)"/><stop offset="0.3982" stop-color="rgb(160,160,160)"/><stop offset="0.4027" stop-color="rgb(158,158,158)"/><stop offset="0.4071" stop-color="rgb(162,162,162)"/><stop offset="0.4115" stop-color="rgb(162,162,162)"/><stop offset="0.4159" stop-color="rgb(160,160,160)"/><stop offset="0.4204" stop-color="rgb(161,161,161)"/><stop offset="0.4248" stop-color="rgb(164,164,164)"/><stop offset="0.4292" stop-color="rgb(162,162,162)"/><stop offset="0.4336" stop-color="rgb(162,162,162)"/><stop offset="0.4381" stop-color="rgb(164,164,164)"/><stop offset="0.4425" stop-color="rgb(164,164,164)"/><stop offset="0.4469" stop-color="rgb(163,163,163)"/><stop offset="0.4513" stop-color="rgb(164,164,164)"/><stop offset="0.4558" stop-color="rgb(165,165,165)"/><stop offset="0.4602" stop-color="rgb(163,163,163)"/><stop offset="0.4646" stop-color="rgb(163,163,163)"/><stop offset="0.4690" stop-color="rgb(162,162,162)"/><stop offset="0.4735" stop-color="rgb(156,156,156)"/><stop offset="0.4779" stop-color="rgb(147,147,147)"/><stop offset="0.4823" stop-color="rgb(136,136,136)"/><stop offset="0.4867" stop-color="rgb(121,121,121)"/><stop offset="0.4912" stop-color="rgb(106,106,106)"/><stop offset="0.4956" stop-color="rgb(96,96,96)"/><stop offset="0.5000" stop-color="rgb(92,92,92)"/><stop offset="0.5044" stop-color="rgb(96,96,96)"/><stop offset="0.5088" stop-color="rgb(108,108,108)"/><stop offset="0.5133" stop-color="rgb(123,123,123)"/><stop offset="0.5177" stop-color="rgb(138,138,138)"/><stop offset="0.5221" stop-color="rgb(150,150,150)"/><stop offset="0.5265" stop-color="rgb(158,158,158)"/><stop offset="0.5310" stop-color="rgb(161,161,161)"/><stop offset="0.5354" stop-color="rgb(160,160,160)"/><stop offset="0.5398" stop-color="rgb(155,155,155)"/><stop offset="0.5442" stop-color="rgb(148,148,148)"/><stop offset="0.5487" stop-color="rgb(140,140,140)"/><stop offset="0.5531" stop-color="rgb(133,133,133)"/><stop offset="0.5575" stop-color="rgb(130,130,130)"/><stop offset="0.5619" stop-color="rgb(131,131,131)"/><stop offset="0.5664" stop-color="rgb(137,137,137)"/><stop offset="0.5708" stop-color="rgb(145,145,145)"/><stop offset="0.5752" stop-color="rgb(154,154,154)"/><stop offset="0.5796" stop-color="rgb(162,162,162)"/><stop offset="0.5841" stop-color="rgb(168,168,168)"/><stop offset="0.5885" stop-color="rgb(171,171,171)"/><stop offset="0.5929" stop-color="rgb(172,172,172)"/><stop offset="0.5973" stop-color="rgb(170,170,170)"/><stop offset="0.6018" stop-color="rgb(166,166,166)"/><stop offset="0.6062" stop-color="rgb(161,161,161)"/><stop offset="0.6106" stop-color="rgb(153,153,153)"/><stop offset="0.6150" stop-color="rgb(146,146,146)"/><stop offset="0.6195" stop-color="rgb(141,141,141)"/><stop offset="0.6239" stop-color="rgb(140,140,140)"/><stop offset="0.6283" stop-color="rgb(143,143,143)"/><stop offset="0.6327" stop-color="rgb(149,149,149)"/><stop offset="0.6372" stop-color="rgb(157,157,157)"/><stop offset="0.6416" stop-color="rgb(165,165,165)"/><stop offset="0.6460" stop-color="rgb(172,172,172)"/><stop offset="0.6504" stop-color="rgb(176,176,176)"/><stop offset="0.6549" stop-color="rgb(179,179,179)"/><stop offset="0.6593" stop-color="rgb(181,181,181)"/><stop offset="0.6637" stop-color="rgb(182,182,182)"/><stop offset="0.6681" stop-color="rgb(183,183,183)"/><stop offset="0.6726" stop-color="rgb(185,185,185)"/><stop offset="0.6770" stop-color="rgb(186,186,186)"/><stop offset="0.6814" stop-color="rgb(187,187,187)"/><stop offset="0.6858" stop-color="rgb(188,188,188)"/><stop offset="0.6903" stop-color="rgb(189,189,189)"/><stop offset="0.6947" stop-color="rgb(190,190,190)"/><stop offset="0.6991" stop-color="rgb(191,191,191)"/><stop offset="0.7035" stop-color="rgb(191,191,191)"/><stop offset="0.7080" stop-color="rgb(191,191,191)"/><stop offset="0.7124" stop-color="rgb(189,189,189)"/><stop offset="0.7168" stop-color="rgb(185,185,185)"/><stop offset="0.7212" stop-color="rgb(179,179,179)"/><stop offset="0.7257" stop-color="rgb(170,170,170)"/><stop offset="0.7301" stop-color="rgb(160,160,160)"/><stop offset="0.7345" stop-color="rgb(152,152,152)"/><stop offset="0.7389" stop-color="rgb(147,147,147)"/><stop offset="0.7434" stop-color="rgb(148,148,148)"/><stop offset="0.7478" stop-color="rgb(155,155,155)"/><stop offset="0.7522" stop-color="rgb(166,166,166)"/><stop offset="0.7566" stop-color="rgb(178,178,178)"/><stop offset="0.7611" stop-color="rgb(189,189,189)"/><stop offset="0.7655" stop-color="rgb(198,198,198)"/><stop offset="0.7699" stop-color="rgb(204,204,204)"/><stop offset="0.7743" stop-color="rgb(209,209,209)"/><stop offset="0.7788" stop-color="rgb(211,211,211)"/><stop offset="0.7832" stop-color="rgb(214,214,214)"/><stop offset="0.7876" stop-color="rgb(215,215,215)"/><stop offset="0.7920" stop-color="rgb(217,217,217)"/><stop offset="0.7965" stop-color="rgb(218,218,218)"/><stop offset="0.8009" stop-color="rgb(220,220,220)"/><stop offset="0.8053" stop-color="rgb(221,221,221)"/><stop offset="0.8097" stop-color="rgb(223,223,223)"/><stop offset="0.8142" stop-color="rgb(224,224,224)"/><stop offset="0.8186" stop-color="rgb(226,226,226)"/><stop offset="0.8230" stop-color="rgb(226,226,226)"/><stop offset="0.8274" stop-color="rgb(226,226,226)"/><stop offset="0.8319" stop-color="rgb(226,226,226)"/><stop offset="0.8363" stop-color="rgb(226,226,226)"/><stop offset="0.8407" stop-color="rgb(226,226,226)"/><stop offset="0.8451" stop-color="rgb(226,226,226)"/><stop offset="0.8496" stop-color="rgb(226,226,226)"/><stop offset="0.8540" stop-color="rgb(226,226,226)"/><stop offset="0.8584" stop-color="rgb(226,226,226)"/><stop offset="0.8628" stop-color="rgb(226,226,226)"/><stop offset="0.8673" stop-color="rgb(226,226,226)"/><stop offset="0.8717" stop-color="rgb(226,226,226)"/><stop offset="0.8761" stop-color="rgb(226,226,226)"/><stop offset="0.8805" stop-color="rgb(226,226,226)"/><stop offset="0.8850" stop-color="rgb(226,226,226)"/><stop offset="0.8894" stop-color="rgb(226,226,226)"/><stop offset="0.8938" stop-color="rgb(226,226,226)"/><stop offset="0.8982" stop-color="rgb(226,226,226)"/><stop offset="0.9027" stop-color="rgb(226,226,226)"/><stop offset="0.9071" stop-color="rgb(226,226,226)"/><stop offset="0.9115" stop-color="rgb(226,226,226)"/><stop offset="0.9159" stop-color="rgb(226,226,226)"/><stop offset="0.9204" stop-color="rgb(226,226,226)"/><stop offset="0.9248" stop-color="rgb(226,226,226)"/><stop offset="0.9292" stop-color="rgb(226,226,226)"/><stop offset="0.9336" stop-color="rgb(226,226,226)"/><stop offset="0.9381" stop-color="rgb(226,226,226)"/><stop offset="0.9425" stop-color="rgb(226,226,226)"/><stop offset="0.9469" stop-color="rgb(226,226,226)"/><stop offset="0.9513" stop-color="rgb(226,226,226)"/><stop offset="0.9558" stop-color="rgb(226,226,226)"/><stop offset="0.9602" stop-color="rgb(226,226,226)"/><stop offset="0.9646" stop-color="rgb(226,226,226)"/><stop offset="0.9690" stop-color="rgb(226,226,226)"/><stop offset="0.9735" stop-color="rgb(226,226,226)"/><stop offset="0.9779" stop-color="rgb(226,226,226)"/><stop offset="0.9823" stop-color="rgb(226,226,226)"/><stop offset="0.9867" stop-color="rgb(226,226,226)"/><stop offset="0.9912" stop-color="rgb(226,226,226)"/><stop offset="0.9956" stop-color="rgb(226,226,226)"/><stop offset="1.0000" stop-color="rgb(226,226,226)"/></linearGradient>
<linearGradient id="p4mg" x1="0" y1="0" x2="1" y2="0"><stop offset="0" stop-color="#000"/><stop offset="0.092" stop-color="#fff"/><stop offset="0.908" stop-color="#fff"/><stop offset="1" stop-color="#000"/></linearGradient><mask id="p4m" maskUnits="userSpaceOnUse" x="285.0" y="50" width="32.5" height="227"><rect x="285.0" y="50" width="32.5" height="227" fill="url(#p4mg)"/></mask>
<linearGradient id="p5" x1="0" y1="0" x2="0" y2="1"><stop offset="0.0000" stop-color="rgb(226,226,226)"/><stop offset="0.0044" stop-color="rgb(226,226,226)"/><stop offset="0.0088" stop-color="rgb(243,243,243)"/><stop offset="0.0133" stop-color="rgb(243,243,243)"/><stop offset="0.0177" stop-color="rgb(243,243,243)"/><stop offset="0.0221" stop-color="rgb(243,243,243)"/><stop offset="0.0265" stop-color="rgb(243,243,243)"/><stop offset="0.0310" stop-color="rgb(243,243,243)"/><stop offset="0.0354" stop-color="rgb(243,243,243)"/><stop offset="0.0398" stop-color="rgb(243,243,243)"/><stop offset="0.0442" stop-color="rgb(243,243,243)"/><stop offset="0.0487" stop-color="rgb(243,243,243)"/><stop offset="0.0531" stop-color="rgb(242,242,242)"/><stop offset="0.0575" stop-color="rgb(242,242,242)"/><stop offset="0.0619" stop-color="rgb(241,241,241)"/><stop offset="0.0664" stop-color="rgb(240,240,240)"/><stop offset="0.0708" stop-color="rgb(238,238,238)"/><stop offset="0.0752" stop-color="rgb(235,235,235)"/><stop offset="0.0796" stop-color="rgb(230,230,230)"/><stop offset="0.0841" stop-color="rgb(206,206,206)"/><stop offset="0.0885" stop-color="rgb(171,171,171)"/><stop offset="0.0929" stop-color="rgb(161,161,161)"/><stop offset="0.0973" stop-color="rgb(8,8,8)"/><stop offset="0.1018" stop-color="rgb(8,8,8)"/><stop offset="0.1062" stop-color="rgb(8,8,8)"/><stop offset="0.1106" stop-color="rgb(8,8,8)"/><stop offset="0.1150" stop-color="rgb(8,8,8)"/><stop offset="0.1195" stop-color="rgb(8,8,8)"/><stop offset="0.1239" stop-color="rgb(8,8,8)"/><stop offset="0.1283" stop-color="rgb(8,8,8)"/><stop offset="0.1327" stop-color="rgb(8,8,8)"/><stop offset="0.1372" stop-color="rgb(8,8,8)"/><stop offset="0.1416" stop-color="rgb(8,8,8)"/><stop offset="0.1460" stop-color="rgb(8,8,8)"/><stop offset="0.1504" stop-color="rgb(8,8,8)"/><stop offset="0.1549" stop-color="rgb(8,8,8)"/><stop offset="0.1593" stop-color="rgb(8,8,8)"/><stop offset="0.1637" stop-color="rgb(8,8,8)"/><stop offset="0.1681" stop-color="rgb(8,8,8)"/><stop offset="0.1726" stop-color="rgb(8,8,8)"/><stop offset="0.1770" stop-color="rgb(8,8,8)"/><stop offset="0.1814" stop-color="rgb(30,30,30)"/><stop offset="0.1858" stop-color="rgb(52,52,52)"/><stop offset="0.1903" stop-color="rgb(61,61,61)"/><stop offset="0.1947" stop-color="rgb(78,78,78)"/><stop offset="0.1991" stop-color="rgb(97,97,97)"/><stop offset="0.2035" stop-color="rgb(104,104,104)"/><stop offset="0.2080" stop-color="rgb(106,106,106)"/><stop offset="0.2124" stop-color="rgb(117,117,117)"/><stop offset="0.2168" stop-color="rgb(119,119,119)"/><stop offset="0.2212" stop-color="rgb(116,116,116)"/><stop offset="0.2257" stop-color="rgb(125,125,125)"/><stop offset="0.2301" stop-color="rgb(132,132,132)"/><stop offset="0.2345" stop-color="rgb(129,129,129)"/><stop offset="0.2389" stop-color="rgb(133,133,133)"/><stop offset="0.2434" stop-color="rgb(143,143,143)"/><stop offset="0.2478" stop-color="rgb(139,139,139)"/><stop offset="0.2522" stop-color="rgb(136,136,136)"/><stop offset="0.2566" stop-color="rgb(143,143,143)"/><stop offset="0.2611" stop-color="rgb(144,144,144)"/><stop offset="0.2655" stop-color="rgb(139,139,139)"/><stop offset="0.2699" stop-color="rgb(142,142,142)"/><stop offset="0.2743" stop-color="rgb(148,148,148)"/><stop offset="0.2788" stop-color="rgb(143,143,143)"/><stop offset="0.2832" stop-color="rgb(142,142,142)"/><stop offset="0.2876" stop-color="rgb(149,149,149)"/><stop offset="0.2920" stop-color="rgb(148,148,148)"/><stop offset="0.2965" stop-color="rgb(144,144,144)"/><stop offset="0.3009" stop-color="rgb(149,149,149)"/><stop offset="0.3053" stop-color="rgb(152,152,152)"/><stop offset="0.3097" stop-color="rgb(147,147,147)"/><stop offset="0.3142" stop-color="rgb(148,148,148)"/><stop offset="0.3186" stop-color="rgb(154,154,154)"/><stop offset="0.3230" stop-color="rgb(151,151,151)"/><stop offset="0.3274" stop-color="rgb(149,149,149)"/><stop offset="0.3319" stop-color="rgb(154,154,154)"/><stop offset="0.3363" stop-color="rgb(155,155,155)"/><stop offset="0.3407" stop-color="rgb(152,152,152)"/><stop offset="0.3451" stop-color="rgb(154,154,154)"/><stop offset="0.3496" stop-color="rgb(158,158,158)"/><stop offset="0.3540" stop-color="rgb(155,155,155)"/><stop offset="0.3584" stop-color="rgb(155,155,155)"/><stop offset="0.3628" stop-color="rgb(159,159,159)"/><stop offset="0.3673" stop-color="rgb(158,158,158)"/><stop offset="0.3717" stop-color="rgb(155,155,155)"/><stop offset="0.3761" stop-color="rgb(158,158,158)"/><stop offset="0.3805" stop-color="rgb(160,160,160)"/><stop offset="0.3850" stop-color="rgb(157,157,157)"/><stop offset="0.3894" stop-color="rgb(158,158,158)"/><stop offset="0.3938" stop-color="rgb(161,161,161)"/><stop offset="0.3982" stop-color="rgb(160,160,160)"/><stop offset="0.4027" stop-color="rgb(158,158,158)"/><stop offset="0.4071" stop-color="rgb(162,162,162)"/><stop offset="0.4115" stop-color="rgb(162,162,162)"/><stop offset="0.4159" stop-color="rgb(160,160,160)"/><stop offset="0.4204" stop-color="rgb(161,161,161)"/><stop offset="0.4248" stop-color="rgb(164,164,164)"/><stop offset="0.4292" stop-color="rgb(162,162,162)"/><stop offset="0.4336" stop-color="rgb(162,162,162)"/><stop offset="0.4381" stop-color="rgb(164,164,164)"/><stop offset="0.4425" stop-color="rgb(164,164,164)"/><stop offset="0.4469" stop-color="rgb(163,163,163)"/><stop offset="0.4513" stop-color="rgb(164,164,164)"/><stop offset="0.4558" stop-color="rgb(165,165,165)"/><stop offset="0.4602" stop-color="rgb(164,164,164)"/><stop offset="0.4646" stop-color="rgb(163,163,163)"/><stop offset="0.4690" stop-color="rgb(162,162,162)"/><stop offset="0.4735" stop-color="rgb(157,157,157)"/><stop offset="0.4779" stop-color="rgb(149,149,149)"/><stop offset="0.4823" stop-color="rgb(140,140,140)"/><stop offset="0.4867" stop-color="rgb(128,128,128)"/><stop offset="0.4912" stop-color="rgb(115,115,115)"/><stop offset="0.4956" stop-color="rgb(106,106,106)"/><stop offset="0.5000" stop-color="rgb(103,103,103)"/><stop offset="0.5044" stop-color="rgb(107,107,107)"/><stop offset="0.5088" stop-color="rgb(116,116,116)"/><stop offset="0.5133" stop-color="rgb(130,130,130)"/><stop offset="0.5177" stop-color="rgb(143,143,143)"/><stop offset="0.5221" stop-color="rgb(153,153,153)"/><stop offset="0.5265" stop-color="rgb(159,159,159)"/><stop offset="0.5310" stop-color="rgb(162,162,162)"/><stop offset="0.5354" stop-color="rgb(160,160,160)"/><stop offset="0.5398" stop-color="rgb(155,155,155)"/><stop offset="0.5442" stop-color="rgb(148,148,148)"/><stop offset="0.5487" stop-color="rgb(140,140,140)"/><stop offset="0.5531" stop-color="rgb(133,133,133)"/><stop offset="0.5575" stop-color="rgb(130,130,130)"/><stop offset="0.5619" stop-color="rgb(131,131,131)"/><stop offset="0.5664" stop-color="rgb(137,137,137)"/><stop offset="0.5708" stop-color="rgb(145,145,145)"/><stop offset="0.5752" stop-color="rgb(154,154,154)"/><stop offset="0.5796" stop-color="rgb(162,162,162)"/><stop offset="0.5841" stop-color="rgb(168,168,168)"/><stop offset="0.5885" stop-color="rgb(171,171,171)"/><stop offset="0.5929" stop-color="rgb(172,172,172)"/><stop offset="0.5973" stop-color="rgb(170,170,170)"/><stop offset="0.6018" stop-color="rgb(166,166,166)"/><stop offset="0.6062" stop-color="rgb(161,161,161)"/><stop offset="0.6106" stop-color="rgb(153,153,153)"/><stop offset="0.6150" stop-color="rgb(146,146,146)"/><stop offset="0.6195" stop-color="rgb(141,141,141)"/><stop offset="0.6239" stop-color="rgb(140,140,140)"/><stop offset="0.6283" stop-color="rgb(143,143,143)"/><stop offset="0.6327" stop-color="rgb(149,149,149)"/><stop offset="0.6372" stop-color="rgb(157,157,157)"/><stop offset="0.6416" stop-color="rgb(165,165,165)"/><stop offset="0.6460" stop-color="rgb(172,172,172)"/><stop offset="0.6504" stop-color="rgb(176,176,176)"/><stop offset="0.6549" stop-color="rgb(179,179,179)"/><stop offset="0.6593" stop-color="rgb(181,181,181)"/><stop offset="0.6637" stop-color="rgb(182,182,182)"/><stop offset="0.6681" stop-color="rgb(183,183,183)"/><stop offset="0.6726" stop-color="rgb(185,185,185)"/><stop offset="0.6770" stop-color="rgb(186,186,186)"/><stop offset="0.6814" stop-color="rgb(187,187,187)"/><stop offset="0.6858" stop-color="rgb(188,188,188)"/><stop offset="0.6903" stop-color="rgb(189,189,189)"/><stop offset="0.6947" stop-color="rgb(190,190,190)"/><stop offset="0.6991" stop-color="rgb(191,191,191)"/><stop offset="0.7035" stop-color="rgb(191,191,191)"/><stop offset="0.7080" stop-color="rgb(190,190,190)"/><stop offset="0.7124" stop-color="rgb(188,188,188)"/><stop offset="0.7168" stop-color="rgb(183,183,183)"/><stop offset="0.7212" stop-color="rgb(175,175,175)"/><stop offset="0.7257" stop-color="rgb(165,165,165)"/><stop offset="0.7301" stop-color="rgb(153,153,153)"/><stop offset="0.7345" stop-color="rgb(142,142,142)"/><stop offset="0.7389" stop-color="rgb(136,136,136)"/><stop offset="0.7434" stop-color="rgb(138,138,138)"/><stop offset="0.7478" stop-color="rgb(145,145,145)"/><stop offset="0.7522" stop-color="rgb(158,158,158)"/><stop offset="0.7566" stop-color="rgb(172,172,172)"/><stop offset="0.7611" stop-color="rgb(185,185,185)"/><stop offset="0.7655" stop-color="rgb(196,196,196)"/><stop offset="0.7699" stop-color="rgb(203,203,203)"/><stop offset="0.7743" stop-color="rgb(208,208,208)"/><stop offset="0.7788" stop-color="rgb(211,211,211)"/><stop offset="0.7832" stop-color="rgb(213,213,213)"/><stop offset="0.7876" stop-color="rgb(215,215,215)"/><stop offset="0.7920" stop-color="rgb(217,217,217)"/><stop offset="0.7965" stop-color="rgb(218,218,218)"/><stop offset="0.8009" stop-color="rgb(220,220,220)"/><stop offset="0.8053" stop-color="rgb(221,221,221)"/><stop offset="0.8097" stop-color="rgb(223,223,223)"/><stop offset="0.8142" stop-color="rgb(224,224,224)"/><stop offset="0.8186" stop-color="rgb(226,226,226)"/><stop offset="0.8230" stop-color="rgb(226,226,226)"/><stop offset="0.8274" stop-color="rgb(226,226,226)"/><stop offset="0.8319" stop-color="rgb(226,226,226)"/><stop offset="0.8363" stop-color="rgb(226,226,226)"/><stop offset="0.8407" stop-color="rgb(226,226,226)"/><stop offset="0.8451" stop-color="rgb(226,226,226)"/><stop offset="0.8496" stop-color="rgb(226,226,226)"/><stop offset="0.8540" stop-color="rgb(226,226,226)"/><stop offset="0.8584" stop-color="rgb(226,226,226)"/><stop offset="0.8628" stop-color="rgb(226,226,226)"/><stop offset="0.8673" stop-color="rgb(226,226,226)"/><stop offset="0.8717" stop-color="rgb(226,226,226)"/><stop offset="0.8761" stop-color="rgb(226,226,226)"/><stop offset="0.8805" stop-color="rgb(226,226,226)"/><stop offset="0.8850" stop-color="rgb(226,226,226)"/><stop offset="0.8894" stop-color="rgb(226,226,226)"/><stop offset="0.8938" stop-color="rgb(226,226,226)"/><stop offset="0.8982" stop-color="rgb(226,226,226)"/><stop offset="0.9027" stop-color="rgb(226,226,226)"/><stop offset="0.9071" stop-color="rgb(226,226,226)"/><stop offset="0.9115" stop-color="rgb(226,226,226)"/><stop offset="0.9159" stop-color="rgb(226,226,226)"/><stop offset="0.9204" stop-color="rgb(226,226,226)"/><stop offset="0.9248" stop-color="rgb(226,226,226)"/><stop offset="0.9292" stop-color="rgb(226,226,226)"/><stop offset="0.9336" stop-color="rgb(226,226,226)"/><stop offset="0.9381" stop-color="rgb(226,226,226)"/><stop offset="0.9425" stop-color="rgb(226,226,226)"/><stop offset="0.9469" stop-color="rgb(226,226,226)"/><stop offset="0.9513" stop-color="rgb(226,226,226)"/><stop offset="0.9558" stop-color="rgb(226,226,226)"/><stop offset="0.9602" stop-color="rgb(226,226,226)"/><stop offset="0.9646" stop-color="rgb(226,226,226)"/><stop offset="0.9690" stop-color="rgb(226,226,226)"/><stop offset="0.9735" stop-color="rgb(226,226,226)"/><stop offset="0.9779" stop-color="rgb(226,226,226)"/><stop offset="0.9823" stop-color="rgb(226,226,226)"/><stop offset="0.9867" stop-color="rgb(226,226,226)"/><stop offset="0.9912" stop-color="rgb(226,226,226)"/><stop offset="0.9956" stop-color="rgb(226,226,226)"/><stop offset="1.0000" stop-color="rgb(226,226,226)"/></linearGradient>
<linearGradient id="p5mg" x1="0" y1="0" x2="1" y2="0"><stop offset="0" stop-color="#000"/><stop offset="0.088" stop-color="#fff"/><stop offset="0.912" stop-color="#fff"/><stop offset="1" stop-color="#000"/></linearGradient><mask id="p5m" maskUnits="userSpaceOnUse" x="327.0" y="50" width="34.0" height="227"><rect x="327.0" y="50" width="34.0" height="227" fill="url(#p5mg)"/></mask>
<linearGradient id="p6" x1="0" y1="0" x2="0" y2="1"><stop offset="0.0000" stop-color="rgb(226,226,226)"/><stop offset="0.0044" stop-color="rgb(226,226,226)"/><stop offset="0.0088" stop-color="rgb(243,243,243)"/><stop offset="0.0133" stop-color="rgb(243,243,243)"/><stop offset="0.0177" stop-color="rgb(243,243,243)"/><stop offset="0.0221" stop-color="rgb(243,243,243)"/><stop offset="0.0265" stop-color="rgb(243,243,243)"/><stop offset="0.0310" stop-color="rgb(243,243,243)"/><stop offset="0.0354" stop-color="rgb(243,243,243)"/><stop offset="0.0398" stop-color="rgb(243,243,243)"/><stop offset="0.0442" stop-color="rgb(243,243,243)"/><stop offset="0.0487" stop-color="rgb(243,243,243)"/><stop offset="0.0531" stop-color="rgb(243,243,243)"/><stop offset="0.0575" stop-color="rgb(242,242,242)"/><stop offset="0.0619" stop-color="rgb(241,241,241)"/><stop offset="0.0664" stop-color="rgb(241,241,241)"/><stop offset="0.0708" stop-color="rgb(240,240,240)"/><stop offset="0.0752" stop-color="rgb(238,238,238)"/><stop offset="0.0796" stop-color="rgb(237,237,237)"/><stop offset="0.0841" stop-color="rgb(234,234,234)"/><stop offset="0.0885" stop-color="rgb(229,229,229)"/><stop offset="0.0929" stop-color="rgb(202,202,202)"/><stop offset="0.0973" stop-color="rgb(168,168,168)"/><stop offset="0.1018" stop-color="rgb(159,159,159)"/><stop offset="0.1062" stop-color="rgb(8,8,8)"/><stop offset="0.1106" stop-color="rgb(8,8,8)"/><stop offset="0.1150" stop-color="rgb(8,8,8)"/><stop offset="0.1195" stop-color="rgb(8,8,8)"/><stop offset="0.1239" stop-color="rgb(8,8,8)"/><stop offset="0.1283" stop-color="rgb(8,8,8)"/><stop offset="0.1327" stop-color="rgb(8,8,8)"/><stop offset="0.1372" stop-color="rgb(8,8,8)"/><stop offset="0.1416" stop-color="rgb(8,8,8)"/><stop offset="0.1460" stop-color="rgb(8,8,8)"/><stop offset="0.1504" stop-color="rgb(8,8,8)"/><stop offset="0.1549" stop-color="rgb(8,8,8)"/><stop offset="0.1593" stop-color="rgb(8,8,8)"/><stop offset="0.1637" stop-color="rgb(8,8,8)"/><stop offset="0.1681" stop-color="rgb(8,8,8)"/><stop offset="0.1726" stop-color="rgb(8,8,8)"/><stop offset="0.1770" stop-color="rgb(8,8,8)"/><stop offset="0.1814" stop-color="rgb(30,30,30)"/><stop offset="0.1858" stop-color="rgb(52,52,52)"/><stop offset="0.1903" stop-color="rgb(61,61,61)"/><stop offset="0.1947" stop-color="rgb(78,78,78)"/><stop offset="0.1991" stop-color="rgb(97,97,97)"/><stop offset="0.2035" stop-color="rgb(104,104,104)"/><stop offset="0.2080" stop-color="rgb(106,106,106)"/><stop offset="0.2124" stop-color="rgb(117,117,117)"/><stop offset="0.2168" stop-color="rgb(119,119,119)"/><stop offset="0.2212" stop-color="rgb(116,116,116)"/><stop offset="0.2257" stop-color="rgb(125,125,125)"/><stop offset="0.2301" stop-color="rgb(132,132,132)"/><stop offset="0.2345" stop-color="rgb(129,129,129)"/><stop offset="0.2389" stop-color="rgb(133,133,133)"/><stop offset="0.2434" stop-color="rgb(143,143,143)"/><stop offset="0.2478" stop-color="rgb(139,139,139)"/><stop offset="0.2522" stop-color="rgb(136,136,136)"/><stop offset="0.2566" stop-color="rgb(143,143,143)"/><stop offset="0.2611" stop-color="rgb(144,144,144)"/><stop offset="0.2655" stop-color="rgb(139,139,139)"/><stop offset="0.2699" stop-color="rgb(142,142,142)"/><stop offset="0.2743" stop-color="rgb(148,148,148)"/><stop offset="0.2788" stop-color="rgb(143,143,143)"/><stop offset="0.2832" stop-color="rgb(142,142,142)"/><stop offset="0.2876" stop-color="rgb(149,149,149)"/><stop offset="0.2920" stop-color="rgb(148,148,148)"/><stop offset="0.2965" stop-color="rgb(144,144,144)"/><stop offset="0.3009" stop-color="rgb(149,149,149)"/><stop offset="0.3053" stop-color="rgb(152,152,152)"/><stop offset="0.3097" stop-color="rgb(147,147,147)"/><stop offset="0.3142" stop-color="rgb(148,148,148)"/><stop offset="0.3186" stop-color="rgb(154,154,154)"/><stop offset="0.3230" stop-color="rgb(151,151,151)"/><stop offset="0.3274" stop-color="rgb(149,149,149)"/><stop offset="0.3319" stop-color="rgb(154,154,154)"/><stop offset="0.3363" stop-color="rgb(155,155,155)"/><stop offset="0.3407" stop-color="rgb(152,152,152)"/><stop offset="0.3451" stop-color="rgb(154,154,154)"/><stop offset="0.3496" stop-color="rgb(158,158,158)"/><stop offset="0.3540" stop-color="rgb(155,155,155)"/><stop offset="0.3584" stop-color="rgb(155,155,155)"/><stop offset="0.3628" stop-color="rgb(159,159,159)"/><stop offset="0.3673" stop-color="rgb(158,158,158)"/><stop offset="0.3717" stop-color="rgb(155,155,155)"/><stop offset="0.3761" stop-color="rgb(158,158,158)"/><stop offset="0.3805" stop-color="rgb(160,160,160)"/><stop offset="0.3850" stop-color="rgb(157,157,157)"/><stop offset="0.3894" stop-color="rgb(158,158,158)"/><stop offset="0.3938" stop-color="rgb(161,161,161)"/><stop offset="0.3982" stop-color="rgb(160,160,160)"/><stop offset="0.4027" stop-color="rgb(158,158,158)"/><stop offset="0.4071" stop-color="rgb(162,162,162)"/><stop offset="0.4115" stop-color="rgb(162,162,162)"/><stop offset="0.4159" stop-color="rgb(160,160,160)"/><stop offset="0.4204" stop-color="rgb(161,161,161)"/><stop offset="0.4248" stop-color="rgb(164,164,164)"/><stop offset="0.4292" stop-color="rgb(162,162,162)"/><stop offset="0.4336" stop-color="rgb(162,162,162)"/><stop offset="0.4381" stop-color="rgb(164,164,164)"/><stop offset="0.4425" stop-color="rgb(164,164,164)"/><stop offset="0.4469" stop-color="rgb(163,163,163)"/><stop offset="0.4513" stop-color="rgb(164,164,164)"/><stop offset="0.4558" stop-color="rgb(165,165,165)"/><stop offset="0.4602" stop-color="rgb(163,163,163)"/><stop offset="0.4646" stop-color="rgb(162,162,162)"/><stop offset="0.4690" stop-color="rgb(159,159,159)"/><stop offset="0.4735" stop-color="rgb(151,151,151)"/><stop offset="0.4779" stop-color="rgb(139,139,139)"/><stop offset="0.4823" stop-color="rgb(122,122,122)"/><stop offset="0.4867" stop-color="rgb(101,101,101)"/><stop offset="0.4912" stop-color="rgb(80,80,80)"/><stop offset="0.4956" stop-color="rgb(65,65,65)"/><stop offset="0.5000" stop-color="rgb(60,60,60)"/><stop offset="0.5044" stop-color="rgb(65,65,65)"/><stop offset="0.5088" stop-color="rgb(82,82,82)"/><stop offset="0.5133" stop-color="rgb(103,103,103)"/><stop offset="0.5177" stop-color="rgb(125,125,125)"/><stop offset="0.5221" stop-color="rgb(142,142,142)"/><stop offset="0.5265" stop-color="rgb(154,154,154)"/><stop offset="0.5310" stop-color="rgb(159,159,159)"/><stop offset="0.5354" stop-color="rgb(159,159,159)"/><stop offset="0.5398" stop-color="rgb(155,155,155)"/><stop offset="0.5442" stop-color="rgb(148,148,148)"/><stop offset="0.5487" stop-color="rgb(140,140,140)"/><stop offset="0.5531" stop-color="rgb(133,133,133)"/><stop offset="0.5575" stop-color="rgb(130,130,130)"/><stop offset="0.5619" stop-color="rgb(131,131,131)"/><stop offset="0.5664" stop-color="rgb(137,137,137)"/><stop offset="0.5708" stop-color="rgb(145,145,145)"/><stop offset="0.5752" stop-color="rgb(154,154,154)"/><stop offset="0.5796" stop-color="rgb(162,162,162)"/><stop offset="0.5841" stop-color="rgb(168,168,168)"/><stop offset="0.5885" stop-color="rgb(171,171,171)"/><stop offset="0.5929" stop-color="rgb(172,172,172)"/><stop offset="0.5973" stop-color="rgb(170,170,170)"/><stop offset="0.6018" stop-color="rgb(166,166,166)"/><stop offset="0.6062" stop-color="rgb(161,161,161)"/><stop offset="0.6106" stop-color="rgb(153,153,153)"/><stop offset="0.6150" stop-color="rgb(146,146,146)"/><stop offset="0.6195" stop-color="rgb(141,141,141)"/><stop offset="0.6239" stop-color="rgb(140,140,140)"/><stop offset="0.6283" stop-color="rgb(143,143,143)"/><stop offset="0.6327" stop-color="rgb(149,149,149)"/><stop offset="0.6372" stop-color="rgb(157,157,157)"/><stop offset="0.6416" stop-color="rgb(165,165,165)"/><stop offset="0.6460" stop-color="rgb(172,172,172)"/><stop offset="0.6504" stop-color="rgb(176,176,176)"/><stop offset="0.6549" stop-color="rgb(179,179,179)"/><stop offset="0.6593" stop-color="rgb(181,181,181)"/><stop offset="0.6637" stop-color="rgb(182,182,182)"/><stop offset="0.6681" stop-color="rgb(183,183,183)"/><stop offset="0.6726" stop-color="rgb(185,185,185)"/><stop offset="0.6770" stop-color="rgb(186,186,186)"/><stop offset="0.6814" stop-color="rgb(187,187,187)"/><stop offset="0.6858" stop-color="rgb(188,188,188)"/><stop offset="0.6903" stop-color="rgb(189,189,189)"/><stop offset="0.6947" stop-color="rgb(190,190,190)"/><stop offset="0.6991" stop-color="rgb(191,191,191)"/><stop offset="0.7035" stop-color="rgb(191,191,191)"/><stop offset="0.7080" stop-color="rgb(189,189,189)"/><stop offset="0.7124" stop-color="rgb(186,186,186)"/><stop offset="0.7168" stop-color="rgb(178,178,178)"/><stop offset="0.7212" stop-color="rgb(167,167,167)"/><stop offset="0.7257" stop-color="rgb(151,151,151)"/><stop offset="0.7301" stop-color="rgb(134,134,134)"/><stop offset="0.7345" stop-color="rgb(119,119,119)"/><stop offset="0.7389" stop-color="rgb(111,111,111)"/><stop offset="0.7434" stop-color="rgb(112,112,112)"/><stop offset="0.7478" stop-color="rgb(122,122,122)"/><stop offset="0.7522" stop-color="rgb(139,139,139)"/><stop offset="0.7566" stop-color="rgb(159,159,159)"/><stop offset="0.7611" stop-color="rgb(177,177,177)"/><stop offset="0.7655" stop-color="rgb(191,191,191)"/><stop offset="0.7699" stop-color="rgb(201,201,201)"/><stop offset="0.7743" stop-color="rgb(207,207,207)"/><stop offset="0.7788" stop-color="rgb(211,211,211)"/><stop offset="0.7832" stop-color="rgb(213,213,213)"/><stop offset="0.7876" stop-color="rgb(215,215,215)"/><stop offset="0.7920" stop-color="rgb(217,217,217)"/><stop offset="0.7965" stop-color="rgb(218,218,218)"/><stop offset="0.8009" stop-color="rgb(220,220,220)"/><stop offset="0.8053" stop-color="rgb(221,221,221)"/><stop offset="0.8097" stop-color="rgb(223,223,223)"/><stop offset="0.8142" stop-color="rgb(224,224,224)"/><stop offset="0.8186" stop-color="rgb(226,226,226)"/><stop offset="0.8230" stop-color="rgb(226,226,226)"/><stop offset="0.8274" stop-color="rgb(226,226,226)"/><stop offset="0.8319" stop-color="rgb(226,226,226)"/><stop offset="0.8363" stop-color="rgb(226,226,226)"/><stop offset="0.8407" stop-color="rgb(226,226,226)"/><stop offset="0.8451" stop-color="rgb(226,226,226)"/><stop offset="0.8496" stop-color="rgb(226,226,226)"/><stop offset="0.8540" stop-color="rgb(226,226,226)"/><stop offset="0.8584" stop-color="rgb(226,226,226)"/><stop offset="0.8628" stop-color="rgb(226,226,226)"/><stop offset="0.8673" stop-color="rgb(226,226,226)"/><stop offset="0.8717" stop-color="rgb(226,226,226)"/><stop offset="0.8761" stop-color="rgb(226,226,226)"/><stop offset="0.8805" stop-color="rgb(226,226,226)"/><stop offset="0.8850" stop-color="rgb(226,226,226)"/><stop offset="0.8894" stop-color="rgb(226,226,226)"/><stop offset="0.8938" stop-color="rgb(226,226,226)"/><stop offset="0.8982" stop-color="rgb(226,226,226)"/><stop offset="0.9027" stop-color="rgb(226,226,226)"/><stop offset="0.9071" stop-color="rgb(226,226,226)"/><stop offset="0.9115" stop-color="rgb(226,226,226)"/><stop offset="0.9159" stop-color="rgb(226,226,226)"/><stop offset="0.9204" stop-color="rgb(226,226,226)"/><stop offset="0.9248" stop-color="rgb(226,226,226)"/><stop offset="0.9292" stop-color="rgb(226,226,226)"/><stop offset="0.9336" stop-color="rgb(226,226,226)"/><stop offset="0.9381" stop-color="rgb(226,226,226)"/><stop offset="0.9425" stop-color="rgb(226,226,226)"/><stop offset="0.9469" stop-color="rgb(226,226,226)"/><stop offset="0.9513" stop-color="rgb(226,226,226)"/><stop offset="0.9558" stop-color="rgb(226,226,226)"/><stop offset="0.9602" stop-color="rgb(226,226,226)"/><stop offset="0.9646" stop-color="rgb(226,226,226)"/><stop offset="0.9690" stop-color="rgb(226,226,226)"/><stop offset="0.9735" stop-color="rgb(226,226,226)"/><stop offset="0.9779" stop-color="rgb(226,226,226)"/><stop offset="0.9823" stop-color="rgb(226,226,226)"/><stop offset="0.9867" stop-color="rgb(226,226,226)"/><stop offset="0.9912" stop-color="rgb(226,226,226)"/><stop offset="0.9956" stop-color="rgb(226,226,226)"/><stop offset="1.0000" stop-color="rgb(226,226,226)"/></linearGradient>
<linearGradient id="p6mg" x1="0" y1="0" x2="1" y2="0"><stop offset="0" stop-color="#000"/><stop offset="0.085" stop-color="#fff"/><stop offset="0.915" stop-color="#fff"/><stop offset="1" stop-color="#000"/></linearGradient><mask id="p6m" maskUnits="userSpaceOnUse" x="367.0" y="50" width="35.5" height="227"><rect x="367.0" y="50" width="35.5" height="227" fill="url(#p6mg)"/></mask>
<filter id="blur06" x="-10%" y="-10%" width="120%" height="120%"><feGaussianBlur stdDeviation="0.7"/></filter>
<filter id="blur1" x="-10%" y="-10%" width="120%" height="120%"><feGaussianBlur stdDeviation="1"/></filter>
<filter id="blur05"><feGaussianBlur stdDeviation="0.6"/></filter>
<linearGradient id="smear35" x1="0" y1="0" x2="0" y2="1"><stop offset="0" stop-color="#555" stop-opacity=".35"/><stop offset=".5" stop-color="#555" stop-opacity=".5"/><stop offset="1" stop-color="#555" stop-opacity=".1"/></linearGradient>
<linearGradient id="smear25" x1="0" y1="0" x2="0" y2="1"><stop offset="0" stop-color="#666" stop-opacity=".3"/><stop offset=".5" stop-color="#666" stop-opacity=".35"/><stop offset="1" stop-color="#666" stop-opacity=".05"/></linearGradient>
<linearGradient id="plsmear" x1="0" y1="0" x2="0" y2="1"><stop offset="0" stop-color="#333" stop-opacity=".75"/><stop offset=".3" stop-color="#555" stop-opacity=".5"/><stop offset=".75" stop-color="#777" stop-opacity=".3"/><stop offset="1" stop-color="#999" stop-opacity="0"/></linearGradient>
</defs>
<text transform="translate(2.39,19.50) scale(0.95,1)" font-size="25.5" font-weight="bold" fill="#000" >A</text>
<text transform="translate(131.35,17.00) scale(1.1,1)" font-size="18.2" font-weight="bold" fill="#000" >Plasma</text>
<line x1="108" y1="23" x2="222" y2="23" stroke="#1a1a1a" stroke-width="1.6"/>
<text transform="translate(109.66,41.40) scale(1.02,1)" font-size="15.6" font-weight="bold" fill="#000" >WT</text>
<text transform="translate(151.93,41.40) scale(1.02,1)" font-size="15.6" font-weight="bold" fill="#000" >KO</text>
<text transform="translate(197.54,41.40) scale(1.02,1)" font-size="15.6" font-weight="bold" fill="#000" >TG</text>
<text transform="translate(305.85,17.00) scale(1.1,1)" font-size="18.2" font-weight="bold" fill="#000" >Platelet</text>
<line x1="282" y1="23" x2="401" y2="23" stroke="#1a1a1a" stroke-width="1.6"/>
<text transform="translate(288.96,41.40) scale(1.02,1)" font-size="15.6" font-weight="bold" fill="#000" >WT</text>
<text transform="translate(333.23,41.40) scale(1.02,1)" font-size="15.6" font-weight="bold" fill="#000" >KO</text>
<text transform="translate(373.94,41.40) scale(1.02,1)" font-size="15.6" font-weight="bold" fill="#000" >TG</text>
<text transform="translate(115.56,295.00) scale(1.05,1)" font-size="15.8" font-weight="bold" fill="#000" >1</text>
<text transform="translate(161.04,295.00) scale(1.05,1)" font-size="15.8" font-weight="bold" fill="#000" >2</text>
<text transform="translate(206.10,295.00) scale(1.05,1)" font-size="15.8" font-weight="bold" fill="#000" >3</text>
<text transform="translate(302.01,295.00) scale(1.05,1)" font-size="15.8" font-weight="bold" fill="#000" >4</text>
<text transform="translate(343.33,295.00) scale(1.05,1)" font-size="15.8" font-weight="bold" fill="#000" >5</text>
<text transform="translate(386.38,295.00) scale(1.05,1)" font-size="15.8" font-weight="bold" fill="#000" >6</text>
<rect x="99.3" y="49.5" width="135.5" height="227.5" fill="#e6e6e6"/>
<rect x="104" y="50" width="35" height="227" fill="url(#l1)" mask="url(#l1m)" filter="url(#blur06)"/>
<rect x="146.4" y="50" width="35.69999999999999" height="227" fill="url(#l2)" mask="url(#l2m)" filter="url(#blur06)"/>
<rect x="191" y="50" width="37.19999999999999" height="227" fill="url(#l3)" mask="url(#l3m)" filter="url(#blur06)"/>
<path d="M159.2,51 L160.2,104" stroke="#222" stroke-width="1.6" opacity=".55" filter="url(#blur06)"/>
<path d="M151.5,54 L152.3,115" stroke="#333" stroke-width="1.3" opacity="0.1" filter="url(#blur06)"/>
<path d="M155.5,54 L156.3,115" stroke="#333" stroke-width="1.3" opacity="0.2" filter="url(#blur06)"/>
<path d="M166,54 L166.8,115" stroke="#333" stroke-width="1.3" opacity="0.1" filter="url(#blur06)"/>
<path d="M171,54 L171.8,115" stroke="#333" stroke-width="1.3" opacity="0.08" filter="url(#blur06)"/>
<path d="M175.5,54 L176.3,115" stroke="#333" stroke-width="1.3" opacity="0.08" filter="url(#blur06)"/>
<path d="M197.5,58 L198.5,125" stroke="#444" stroke-width="1.3" opacity="0.08" filter="url(#blur06)"/>
<path d="M203,58 L204,125" stroke="#444" stroke-width="1.3" opacity="0.08" filter="url(#blur06)"/>
<path d="M215,58 L216,125" stroke="#444" stroke-width="1.3" opacity="0.06" filter="url(#blur06)"/>
<path d="M221.5,58 L222.5,125" stroke="#444" stroke-width="1.3" opacity="0.1" filter="url(#blur06)"/>
<path d="M206,82 L210.4,131" stroke="#333" stroke-width="1.5" opacity=".5" filter="url(#blur06)"/>
<rect x="185.8" y="49.5" width="2.2" height="227.5" fill="#fbfbfb"/>
<rect x="99.3" y="49.5" width="135.5" height="227.5" fill="none" stroke="#151515" stroke-width="1.8"/>
<rect x="285.4" y="50" width="120.60000000000002" height="226.5" fill="#e4e4e4"/>
<rect x="285.0" y="50" width="32.5" height="227" fill="url(#p4)" mask="url(#p4m)" filter="url(#blur06)"/>
<rect x="327.0" y="50" width="34.0" height="227" fill="url(#p5)" mask="url(#p5m)" filter="url(#blur06)"/>
<rect x="367.0" y="50" width="35.5" height="227" fill="url(#p6)" mask="url(#p6m)" filter="url(#blur06)"/>
<rect x="296" y="92" width="2.2" height="135" fill="#333" opacity="0.12" filter="url(#blur1)"/>
<rect x="301" y="92" width="2.2" height="135" fill="#333" opacity="0.18" filter="url(#blur1)"/>
<rect x="306" y="92" width="2.2" height="135" fill="#333" opacity="0.1" filter="url(#blur1)"/>
<rect x="334" y="92" width="2.2" height="135" fill="#333" opacity="0.1" filter="url(#blur1)"/>
<rect x="341" y="92" width="2.2" height="135" fill="#333" opacity="0.12" filter="url(#blur1)"/>
<rect x="350" y="92" width="2.2" height="135" fill="#333" opacity="0.14" filter="url(#blur1)"/>
<rect x="374" y="92" width="2.2" height="135" fill="#333" opacity="0.12" filter="url(#blur1)"/>
<rect x="380" y="92" width="2.2" height="135" fill="#333" opacity="0.2" filter="url(#blur1)"/>
<rect x="388" y="92" width="2.2" height="135" fill="#333" opacity="0.12" filter="url(#blur1)"/>
<ellipse cx="305.5" cy="159.5" rx="3" ry="2.8" fill="#ddd" opacity=".8" filter="url(#blur06)"/>
<ellipse cx="380" cy="163" rx="5" ry="3" fill="#111" opacity=".6" filter="url(#blur06)"/>
<path d="M286.5,60 L293,71 L286.5,73Z" fill="#111" filter="url(#blur06)"/>
<path d="M339,71.5 Q343,75.5 347,71.5Z" fill="#9a9a9a" filter="url(#blur06)"/>
<rect x="394.5" y="51" width="3" height="30" fill="#111" filter="url(#blur06)"/>
<rect x="316.5" y="51" width="11" height="225" fill="#ececec" filter="url(#blur06)"/>
<rect x="360.5" y="51" width="7" height="225" fill="#ececec" filter="url(#blur06)"/>
<rect x="401.5" y="51" width="4" height="225" fill="#e9e9e9" filter="url(#blur06)"/>
<rect x="322.6" y="50" width="2.4" height="226.5" fill="#fbfbfb"/>
<rect x="363.6" y="50" width="2.4" height="226.5" fill="#fbfbfb"/>
<rect x="285.4" y="50" width="120.60000000000002" height="226.5" fill="none" stroke="#151515" stroke-width="1.8"/>
<path d="M236.5,58.5 L240,61 L240,97.4 L236.5,99.9" fill="none" stroke="#151515" stroke-width="1.5"/>
<path d="M238.3,131.2 L241.8,133.7 L241.8,214.2 L238.3,216.7" fill="none" stroke="#151515" stroke-width="1.5"/>
<path d="M407.5,60.0 L411,62.5 L411,98.6 L407.5,101.1" fill="none" stroke="#151515" stroke-width="1.5"/>
<path d="M409.2,135.0 L412.7,137.5 L412.7,218.6 L409.2,221.1" fill="none" stroke="#151515" stroke-width="1.5"/>
<text transform="translate(426.32,90.70) scale(1.1,1)" font-size="17.4" fill="#000" >UL-VWF</text>
<text transform="translate(422.92,181.20) scale(1.1,1)" font-size="17.4" fill="#000" >LMW-VWF</text>
<text transform="translate(1.37,330.10) scale(0.93,1)" font-size="26" font-weight="bold" fill="#000" >B</text>
<line x1="73.4" y1="338.2" x2="73.4" y2="631.6" stroke="#1a1a1a" stroke-width="1.5"/>
<line x1="69.9" y1="628.1" x2="407.5" y2="628.1" stroke="#1a1a1a" stroke-width="1.5"/>
<line x1="69.60000000000001" y1="628.10" x2="73.4" y2="628.10" stroke="#1a1a1a" stroke-width="1.3"/>
<text transform="translate(50.06,635.65) scale(0.97,1)" font-size="20.5" font-weight="bold" fill="#000" >0</text>
<line x1="69.60000000000001" y1="586.77" x2="73.4" y2="586.77" stroke="#1a1a1a" stroke-width="1.3"/>
<text transform="translate(50.06,594.33) scale(0.97,1)" font-size="20.5" font-weight="bold" fill="#000" >2</text>
<line x1="69.60000000000001" y1="545.44" x2="73.4" y2="545.44" stroke="#1a1a1a" stroke-width="1.3"/>
<text transform="translate(49.36,553.00) scale(0.97,1)" font-size="20.5" font-weight="bold" fill="#000" >4</text>
<line x1="69.60000000000001" y1="504.11" x2="73.4" y2="504.11" stroke="#1a1a1a" stroke-width="1.3"/>
<text transform="translate(49.96,511.67) scale(0.97,1)" font-size="20.5" font-weight="bold" fill="#000" >6</text>
<line x1="69.60000000000001" y1="462.79" x2="73.4" y2="462.79" stroke="#1a1a1a" stroke-width="1.3"/>
<text transform="translate(49.86,470.34) scale(0.97,1)" font-size="20.5" font-weight="bold" fill="#000" >8</text>
<line x1="69.60000000000001" y1="421.46" x2="73.4" y2="421.46" stroke="#1a1a1a" stroke-width="1.3"/>
<text transform="translate(39.52,429.01) scale(0.97,1)" font-size="20.5" font-weight="bold" fill="#000" >10</text>
<line x1="69.60000000000001" y1="380.13" x2="73.4" y2="380.13" stroke="#1a1a1a" stroke-width="1.3"/>
<text transform="translate(39.52,387.69) scale(0.97,1)" font-size="20.5" font-weight="bold" fill="#000" >12</text>
<line x1="69.60000000000001" y1="338.80" x2="73.4" y2="338.80" stroke="#1a1a1a" stroke-width="1.3"/>
<text transform="translate(38.83,343.56) scale(0.97,1)" font-size="20.5" font-weight="bold" fill="#000" >14</text>
<line x1="115.4" y1="628.1" x2="115.4" y2="631.9" stroke="#1a1a1a" stroke-width="1.3"/>
<line x1="158.3" y1="628.1" x2="158.3" y2="631.9" stroke="#1a1a1a" stroke-width="1.3"/>
<line x1="201.5" y1="628.1" x2="201.5" y2="631.9" stroke="#1a1a1a" stroke-width="1.3"/>
<line x1="240.5" y1="628.1" x2="240.5" y2="631.9" stroke="#1a1a1a" stroke-width="1.3"/>
<line x1="280.2" y1="628.1" x2="280.2" y2="631.9" stroke="#1a1a1a" stroke-width="1.3"/>
<line x1="322.9" y1="628.1" x2="322.9" y2="631.9" stroke="#1a1a1a" stroke-width="1.3"/>
<line x1="370.2" y1="628.1" x2="370.2" y2="631.9" stroke="#1a1a1a" stroke-width="1.3"/>
<line x1="406.9" y1="628.1" x2="406.9" y2="631.9" stroke="#1a1a1a" stroke-width="1.3"/>
<text transform="translate(68.15,650.80) scale(1.1,1)" font-size="16.7" font-weight="bold" fill="#000" >0</text>
<text transform="translate(144.95,650.80) scale(1.1,1)" font-size="16.7" font-weight="bold" fill="#000" >7.5</text>
<text transform="translate(228.68,650.80) scale(1.1,1)" font-size="16.7" font-weight="bold" fill="#000" >15</text>
<text transform="translate(304.82,650.80) scale(1.1,1)" font-size="16.7" font-weight="bold" fill="#000" >22.5</text>
<text transform="translate(397.07,650.80) scale(1.1,1)" font-size="16.7" font-weight="bold" fill="#000" >30</text>
<text transform="translate(205.72,678.00) scale(1.0,1)" font-size="17.5" font-weight="bold" fill="#000" >Time (min)</text>
<g transform="translate(15.5,472.15) rotate(-90)"><text transform="scale(1.16,1)" font-size="16.2" font-weight="bold" text-anchor="middle">Rate of Thrombus formation</text></g>
<line x1="73.10" y1="619.84" x2="73.10" y2="574.38" stroke="#6f66a0" stroke-width="1.35"/>
<line x1="71.70" y1="574.38" x2="74.50" y2="574.38" stroke="#6f66a0" stroke-width="1.35"/>
<line x1="71.70" y1="619.84" x2="74.50" y2="619.84" stroke="#6f66a0" stroke-width="1.35"/>
<line x1="76.81" y1="621.93" x2="76.81" y2="565.88" stroke="#6f66a0" stroke-width="1.35"/>
<line x1="75.41" y1="565.88" x2="78.21" y2="565.88" stroke="#6f66a0" stroke-width="1.35"/>
<line x1="75.41" y1="621.93" x2="78.21" y2="621.93" stroke="#6f66a0" stroke-width="1.35"/>
<line x1="80.52" y1="624.16" x2="80.52" y2="544.29" stroke="#6f66a0" stroke-width="1.35"/>
<line x1="79.12" y1="544.29" x2="81.92" y2="544.29" stroke="#6f66a0" stroke-width="1.35"/>
<line x1="79.12" y1="624.16" x2="81.92" y2="624.16" stroke="#6f66a0" stroke-width="1.35"/>
<line x1="84.23" y1="622.24" x2="84.23" y2="545.88" stroke="#6f66a0" stroke-width="1.35"/>
<line x1="82.83" y1="545.88" x2="85.63" y2="545.88" stroke="#6f66a0" stroke-width="1.35"/>
<line x1="82.83" y1="622.24" x2="85.63" y2="622.24" stroke="#6f66a0" stroke-width="1.35"/>
<line x1="87.94" y1="620.65" x2="87.94" y2="561.40" stroke="#6f66a0" stroke-width="1.35"/>
<line x1="86.54" y1="561.40" x2="89.34" y2="561.40" stroke="#6f66a0" stroke-width="1.35"/>
<line x1="86.54" y1="620.65" x2="89.34" y2="620.65" stroke="#6f66a0" stroke-width="1.35"/>
<line x1="91.65" y1="616.65" x2="91.65" y2="548.00" stroke="#6f66a0" stroke-width="1.35"/>
<line x1="90.25" y1="548.00" x2="93.05" y2="548.00" stroke="#6f66a0" stroke-width="1.35"/>
<line x1="90.25" y1="616.65" x2="93.05" y2="616.65" stroke="#6f66a0" stroke-width="1.35"/>
<line x1="95.36" y1="633.50" x2="95.36" y2="479.24" stroke="#6f66a0" stroke-width="1.35"/>
<line x1="93.96" y1="479.24" x2="96.76" y2="479.24" stroke="#6f66a0" stroke-width="1.35"/>
<line x1="93.96" y1="633.50" x2="96.76" y2="633.50" stroke="#6f66a0" stroke-width="1.35"/>
<line x1="99.07" y1="623.23" x2="99.07" y2="433.07" stroke="#6f66a0" stroke-width="1.35"/>
<line x1="97.67" y1="433.07" x2="100.47" y2="433.07" stroke="#6f66a0" stroke-width="1.35"/>
<line x1="97.67" y1="623.23" x2="100.47" y2="623.23" stroke="#6f66a0" stroke-width="1.35"/>
<line x1="102.78" y1="619.49" x2="102.78" y2="434.36" stroke="#6f66a0" stroke-width="1.35"/>
<line x1="101.38" y1="434.36" x2="104.18" y2="434.36" stroke="#6f66a0" stroke-width="1.35"/>
<line x1="101.38" y1="619.49" x2="104.18" y2="619.49" stroke="#6f66a0" stroke-width="1.35"/>
<line x1="106.49" y1="618.15" x2="106.49" y2="442.14" stroke="#6f66a0" stroke-width="1.35"/>
<line x1="105.09" y1="442.14" x2="107.89" y2="442.14" stroke="#6f66a0" stroke-width="1.35"/>
<line x1="105.09" y1="618.15" x2="107.89" y2="618.15" stroke="#6f66a0" stroke-width="1.35"/>
<line x1="110.20" y1="616.18" x2="110.20" y2="424.08" stroke="#6f66a0" stroke-width="1.35"/>
<line x1="108.80" y1="424.08" x2="111.60" y2="424.08" stroke="#6f66a0" stroke-width="1.35"/>
<line x1="108.80" y1="616.18" x2="111.60" y2="616.18" stroke="#6f66a0" stroke-width="1.35"/>
<line x1="113.91" y1="614.42" x2="113.91" y2="445.07" stroke="#6f66a0" stroke-width="1.35"/>
<line x1="112.51" y1="445.07" x2="115.31" y2="445.07" stroke="#6f66a0" stroke-width="1.35"/>
<line x1="112.51" y1="614.42" x2="115.31" y2="614.42" stroke="#6f66a0" stroke-width="1.35"/>
<line x1="117.62" y1="616.32" x2="117.62" y2="478.58" stroke="#6f66a0" stroke-width="1.35"/>
<line x1="116.22" y1="478.58" x2="119.02" y2="478.58" stroke="#6f66a0" stroke-width="1.35"/>
<line x1="116.22" y1="616.32" x2="119.02" y2="616.32" stroke="#6f66a0" stroke-width="1.35"/>
<line x1="121.33" y1="616.32" x2="121.33" y2="435.30" stroke="#6f66a0" stroke-width="1.35"/>
<line x1="119.93" y1="435.30" x2="122.73" y2="435.30" stroke="#6f66a0" stroke-width="1.35"/>
<line x1="119.93" y1="616.32" x2="122.73" y2="616.32" stroke="#6f66a0" stroke-width="1.35"/>
<line x1="125.04" y1="615.88" x2="125.04" y2="421.91" stroke="#6f66a0" stroke-width="1.35"/>
<line x1="123.64" y1="421.91" x2="126.44" y2="421.91" stroke="#6f66a0" stroke-width="1.35"/>
<line x1="123.64" y1="615.88" x2="126.44" y2="615.88" stroke="#6f66a0" stroke-width="1.35"/>
<line x1="128.75" y1="613.64" x2="128.75" y2="415.72" stroke="#6f66a0" stroke-width="1.35"/>
<line x1="127.35" y1="415.72" x2="130.15" y2="415.72" stroke="#6f66a0" stroke-width="1.35"/>
<line x1="127.35" y1="613.64" x2="130.15" y2="613.64" stroke="#6f66a0" stroke-width="1.35"/>
<line x1="132.46" y1="604.46" x2="132.46" y2="406.87" stroke="#6f66a0" stroke-width="1.35"/>
<line x1="131.06" y1="406.87" x2="133.86" y2="406.87" stroke="#6f66a0" stroke-width="1.35"/>
<line x1="131.06" y1="604.46" x2="133.86" y2="604.46" stroke="#6f66a0" stroke-width="1.35"/>
<line x1="136.17" y1="587.95" x2="136.17" y2="398.77" stroke="#6f66a0" stroke-width="1.35"/>
<line x1="134.77" y1="398.77" x2="137.57" y2="398.77" stroke="#6f66a0" stroke-width="1.35"/>
<line x1="134.77" y1="587.95" x2="137.57" y2="587.95" stroke="#6f66a0" stroke-width="1.35"/>
<line x1="139.88" y1="548.79" x2="139.88" y2="388.44" stroke="#6f66a0" stroke-width="1.35"/>
<line x1="138.48" y1="388.44" x2="141.28" y2="388.44" stroke="#6f66a0" stroke-width="1.35"/>
<line x1="138.48" y1="548.79" x2="141.28" y2="548.79" stroke="#6f66a0" stroke-width="1.35"/>
<line x1="143.59" y1="539.72" x2="143.59" y2="385.00" stroke="#6f66a0" stroke-width="1.35"/>
<line x1="142.19" y1="385.00" x2="144.99" y2="385.00" stroke="#6f66a0" stroke-width="1.35"/>
<line x1="142.19" y1="539.72" x2="144.99" y2="539.72" stroke="#6f66a0" stroke-width="1.35"/>
<line x1="147.30" y1="537.15" x2="147.30" y2="382.48" stroke="#6f66a0" stroke-width="1.35"/>
<line x1="145.90" y1="382.48" x2="148.70" y2="382.48" stroke="#6f66a0" stroke-width="1.35"/>
<line x1="145.90" y1="537.15" x2="148.70" y2="537.15" stroke="#6f66a0" stroke-width="1.35"/>
<line x1="151.01" y1="534.64" x2="151.01" y2="380.18" stroke="#6f66a0" stroke-width="1.35"/>
<line x1="149.61" y1="380.18" x2="152.41" y2="380.18" stroke="#6f66a0" stroke-width="1.35"/>
<line x1="149.61" y1="534.64" x2="152.41" y2="534.64" stroke="#6f66a0" stroke-width="1.35"/>
<line x1="154.72" y1="529.17" x2="154.72" y2="377.77" stroke="#6f66a0" stroke-width="1.35"/>
<line x1="153.32" y1="377.77" x2="156.12" y2="377.77" stroke="#6f66a0" stroke-width="1.35"/>
<line x1="153.32" y1="529.17" x2="156.12" y2="529.17" stroke="#6f66a0" stroke-width="1.35"/>
<line x1="158.43" y1="524.11" x2="158.43" y2="375.36" stroke="#6f66a0" stroke-width="1.35"/>
<line x1="157.03" y1="375.36" x2="159.83" y2="375.36" stroke="#6f66a0" stroke-width="1.35"/>
<line x1="157.03" y1="524.11" x2="159.83" y2="524.11" stroke="#6f66a0" stroke-width="1.35"/>
<line x1="162.14" y1="520.67" x2="162.14" y2="373.97" stroke="#6f66a0" stroke-width="1.35"/>
<line x1="160.74" y1="373.97" x2="163.54" y2="373.97" stroke="#6f66a0" stroke-width="1.35"/>
<line x1="160.74" y1="520.67" x2="163.54" y2="520.67" stroke="#6f66a0" stroke-width="1.35"/>
<line x1="165.85" y1="517.22" x2="165.85" y2="373.25" stroke="#6f66a0" stroke-width="1.35"/>
<line x1="164.45" y1="373.25" x2="167.25" y2="373.25" stroke="#6f66a0" stroke-width="1.35"/>
<line x1="164.45" y1="517.22" x2="167.25" y2="517.22" stroke="#6f66a0" stroke-width="1.35"/>
<line x1="169.56" y1="512.86" x2="169.56" y2="372.53" stroke="#6f66a0" stroke-width="1.35"/>
<line x1="168.16" y1="372.53" x2="170.96" y2="372.53" stroke="#6f66a0" stroke-width="1.35"/>
<line x1="168.16" y1="512.86" x2="170.96" y2="512.86" stroke="#6f66a0" stroke-width="1.35"/>
<line x1="173.27" y1="508.27" x2="173.27" y2="371.82" stroke="#6f66a0" stroke-width="1.35"/>
<line x1="171.87" y1="371.82" x2="174.67" y2="371.82" stroke="#6f66a0" stroke-width="1.35"/>
<line x1="171.87" y1="508.27" x2="174.67" y2="508.27" stroke="#6f66a0" stroke-width="1.35"/>
<line x1="176.98" y1="504.14" x2="176.98" y2="371.10" stroke="#6f66a0" stroke-width="1.35"/>
<line x1="175.58" y1="371.10" x2="178.38" y2="371.10" stroke="#6f66a0" stroke-width="1.35"/>
<line x1="175.58" y1="504.14" x2="178.38" y2="504.14" stroke="#6f66a0" stroke-width="1.35"/>
<line x1="180.69" y1="500.01" x2="180.69" y2="370.47" stroke="#6f66a0" stroke-width="1.35"/>
<line x1="179.29" y1="370.47" x2="182.09" y2="370.47" stroke="#6f66a0" stroke-width="1.35"/>
<line x1="179.29" y1="500.01" x2="182.09" y2="500.01" stroke="#6f66a0" stroke-width="1.35"/>
<line x1="184.40" y1="495.88" x2="184.40" y2="369.98" stroke="#6f66a0" stroke-width="1.35"/>
<line x1="183.00" y1="369.98" x2="185.80" y2="369.98" stroke="#6f66a0" stroke-width="1.35"/>
<line x1="183.00" y1="495.88" x2="185.80" y2="495.88" stroke="#6f66a0" stroke-width="1.35"/>
<line x1="188.11" y1="492.43" x2="188.11" y2="369.48" stroke="#6f66a0" stroke-width="1.35"/>
<line x1="186.71" y1="369.48" x2="189.51" y2="369.48" stroke="#6f66a0" stroke-width="1.35"/>
<line x1="186.71" y1="492.43" x2="189.51" y2="492.43" stroke="#6f66a0" stroke-width="1.35"/>
<line x1="191.82" y1="488.99" x2="191.82" y2="368.99" stroke="#6f66a0" stroke-width="1.35"/>
<line x1="190.42" y1="368.99" x2="193.22" y2="368.99" stroke="#6f66a0" stroke-width="1.35"/>
<line x1="190.42" y1="488.99" x2="193.22" y2="488.99" stroke="#6f66a0" stroke-width="1.35"/>
<line x1="195.53" y1="485.55" x2="195.53" y2="368.54" stroke="#6f66a0" stroke-width="1.35"/>
<line x1="194.13" y1="368.54" x2="196.93" y2="368.54" stroke="#6f66a0" stroke-width="1.35"/>
<line x1="194.13" y1="485.55" x2="196.93" y2="485.55" stroke="#6f66a0" stroke-width="1.35"/>
<line x1="199.24" y1="482.54" x2="199.24" y2="368.25" stroke="#6f66a0" stroke-width="1.35"/>
<line x1="197.84" y1="368.25" x2="200.64" y2="368.25" stroke="#6f66a0" stroke-width="1.35"/>
<line x1="197.84" y1="482.54" x2="200.64" y2="482.54" stroke="#6f66a0" stroke-width="1.35"/>
<line x1="202.95" y1="479.53" x2="202.95" y2="367.96" stroke="#6f66a0" stroke-width="1.35"/>
<line x1="201.55" y1="367.96" x2="204.35" y2="367.96" stroke="#6f66a0" stroke-width="1.35"/>
<line x1="201.55" y1="479.53" x2="204.35" y2="479.53" stroke="#6f66a0" stroke-width="1.35"/>
<line x1="206.66" y1="476.41" x2="206.66" y2="366.53" stroke="#6f66a0" stroke-width="1.35"/>
<line x1="205.26" y1="366.53" x2="208.06" y2="366.53" stroke="#6f66a0" stroke-width="1.35"/>
<line x1="205.26" y1="476.41" x2="208.06" y2="476.41" stroke="#6f66a0" stroke-width="1.35"/>
<line x1="210.37" y1="473.13" x2="210.37" y2="363.65" stroke="#6f66a0" stroke-width="1.35"/>
<line x1="208.97" y1="363.65" x2="211.77" y2="363.65" stroke="#6f66a0" stroke-width="1.35"/>
<line x1="208.97" y1="473.13" x2="211.77" y2="473.13" stroke="#6f66a0" stroke-width="1.35"/>
<line x1="214.08" y1="469.84" x2="214.08" y2="363.65" stroke="#6f66a0" stroke-width="1.35"/>
<line x1="212.68" y1="363.65" x2="215.48" y2="363.65" stroke="#6f66a0" stroke-width="1.35"/>
<line x1="212.68" y1="469.84" x2="215.48" y2="469.84" stroke="#6f66a0" stroke-width="1.35"/>
<line x1="217.79" y1="468.47" x2="217.79" y2="363.65" stroke="#6f66a0" stroke-width="1.35"/>
<line x1="216.39" y1="363.65" x2="219.19" y2="363.65" stroke="#6f66a0" stroke-width="1.35"/>
<line x1="216.39" y1="468.47" x2="219.19" y2="468.47" stroke="#6f66a0" stroke-width="1.35"/>
<line x1="221.50" y1="467.75" x2="221.50" y2="363.65" stroke="#6f66a0" stroke-width="1.35"/>
<line x1="220.10" y1="363.65" x2="222.90" y2="363.65" stroke="#6f66a0" stroke-width="1.35"/>
<line x1="220.10" y1="467.75" x2="222.90" y2="467.75" stroke="#6f66a0" stroke-width="1.35"/>
<line x1="225.21" y1="467.02" x2="225.21" y2="363.65" stroke="#6f66a0" stroke-width="1.35"/>
<line x1="223.81" y1="363.65" x2="226.61" y2="363.65" stroke="#6f66a0" stroke-width="1.35"/>
<line x1="223.81" y1="467.02" x2="226.61" y2="467.02" stroke="#6f66a0" stroke-width="1.35"/>
<line x1="228.92" y1="466.76" x2="228.92" y2="364.03" stroke="#6f66a0" stroke-width="1.35"/>
<line x1="227.52" y1="364.03" x2="230.32" y2="364.03" stroke="#6f66a0" stroke-width="1.35"/>
<line x1="227.52" y1="466.76" x2="230.32" y2="466.76" stroke="#6f66a0" stroke-width="1.35"/>
<line x1="232.63" y1="466.55" x2="232.63" y2="365.28" stroke="#6f66a0" stroke-width="1.35"/>
<line x1="231.23" y1="365.28" x2="234.03" y2="365.28" stroke="#6f66a0" stroke-width="1.35"/>
<line x1="231.23" y1="466.55" x2="234.03" y2="466.55" stroke="#6f66a0" stroke-width="1.35"/>
<line x1="236.34" y1="466.34" x2="236.34" y2="366.53" stroke="#6f66a0" stroke-width="1.35"/>
<line x1="234.94" y1="366.53" x2="237.74" y2="366.53" stroke="#6f66a0" stroke-width="1.35"/>
<line x1="234.94" y1="466.34" x2="237.74" y2="466.34" stroke="#6f66a0" stroke-width="1.35"/>
<line x1="240.05" y1="466.13" x2="240.05" y2="367.78" stroke="#6f66a0" stroke-width="1.35"/>
<line x1="238.65" y1="367.78" x2="241.45" y2="367.78" stroke="#6f66a0" stroke-width="1.35"/>
<line x1="238.65" y1="466.13" x2="241.45" y2="466.13" stroke="#6f66a0" stroke-width="1.35"/>
<line x1="243.76" y1="467.20" x2="243.76" y2="368.32" stroke="#6f66a0" stroke-width="1.35"/>
<line x1="242.36" y1="368.32" x2="245.16" y2="368.32" stroke="#6f66a0" stroke-width="1.35"/>
<line x1="242.36" y1="467.20" x2="245.16" y2="467.20" stroke="#6f66a0" stroke-width="1.35"/>
<line x1="247.47" y1="468.27" x2="247.47" y2="368.86" stroke="#6f66a0" stroke-width="1.35"/>
<line x1="246.07" y1="368.86" x2="248.87" y2="368.86" stroke="#6f66a0" stroke-width="1.35"/>
<line x1="246.07" y1="468.27" x2="248.87" y2="468.27" stroke="#6f66a0" stroke-width="1.35"/>
<line x1="251.18" y1="469.17" x2="251.18" y2="369.10" stroke="#6f66a0" stroke-width="1.35"/>
<line x1="249.78" y1="369.10" x2="252.58" y2="369.10" stroke="#6f66a0" stroke-width="1.35"/>
<line x1="249.78" y1="469.17" x2="252.58" y2="469.17" stroke="#6f66a0" stroke-width="1.35"/>
<line x1="254.89" y1="469.68" x2="254.89" y2="368.66" stroke="#6f66a0" stroke-width="1.35"/>
<line x1="253.49" y1="368.66" x2="256.29" y2="368.66" stroke="#6f66a0" stroke-width="1.35"/>
<line x1="253.49" y1="469.68" x2="256.29" y2="469.68" stroke="#6f66a0" stroke-width="1.35"/>
<line x1="258.60" y1="470.19" x2="258.60" y2="368.22" stroke="#6f66a0" stroke-width="1.35"/>
<line x1="257.20" y1="368.22" x2="260.00" y2="368.22" stroke="#6f66a0" stroke-width="1.35"/>
<line x1="257.20" y1="470.19" x2="260.00" y2="470.19" stroke="#6f66a0" stroke-width="1.35"/>
<line x1="262.31" y1="470.70" x2="262.31" y2="367.78" stroke="#6f66a0" stroke-width="1.35"/>
<line x1="260.91" y1="367.78" x2="263.71" y2="367.78" stroke="#6f66a0" stroke-width="1.35"/>
<line x1="260.91" y1="470.70" x2="263.71" y2="470.70" stroke="#6f66a0" stroke-width="1.35"/>
<line x1="266.02" y1="471.21" x2="266.02" y2="366.06" stroke="#6f66a0" stroke-width="1.35"/>
<line x1="264.62" y1="366.06" x2="267.42" y2="366.06" stroke="#6f66a0" stroke-width="1.35"/>
<line x1="264.62" y1="471.21" x2="267.42" y2="471.21" stroke="#6f66a0" stroke-width="1.35"/>
<line x1="269.73" y1="471.72" x2="269.73" y2="364.34" stroke="#6f66a0" stroke-width="1.35"/>
<line x1="268.33" y1="364.34" x2="271.13" y2="364.34" stroke="#6f66a0" stroke-width="1.35"/>
<line x1="268.33" y1="471.72" x2="271.13" y2="471.72" stroke="#6f66a0" stroke-width="1.35"/>
<line x1="273.44" y1="472.22" x2="273.44" y2="362.62" stroke="#6f66a0" stroke-width="1.35"/>
<line x1="272.04" y1="362.62" x2="274.84" y2="362.62" stroke="#6f66a0" stroke-width="1.35"/>
<line x1="272.04" y1="472.22" x2="274.84" y2="472.22" stroke="#6f66a0" stroke-width="1.35"/>
<line x1="277.15" y1="472.74" x2="277.15" y2="361.76" stroke="#6f66a0" stroke-width="1.35"/>
<line x1="275.75" y1="361.76" x2="278.55" y2="361.76" stroke="#6f66a0" stroke-width="1.35"/>
<line x1="275.75" y1="472.74" x2="278.55" y2="472.74" stroke="#6f66a0" stroke-width="1.35"/>
<line x1="280.86" y1="473.26" x2="280.86" y2="362.18" stroke="#6f66a0" stroke-width="1.35"/>
<line x1="279.46" y1="362.18" x2="282.26" y2="362.18" stroke="#6f66a0" stroke-width="1.35"/>
<line x1="279.46" y1="473.26" x2="282.26" y2="473.26" stroke="#6f66a0" stroke-width="1.35"/>
<line x1="284.57" y1="473.79" x2="284.57" y2="362.61" stroke="#6f66a0" stroke-width="1.35"/>
<line x1="283.17" y1="362.61" x2="285.97" y2="362.61" stroke="#6f66a0" stroke-width="1.35"/>
<line x1="283.17" y1="473.79" x2="285.97" y2="473.79" stroke="#6f66a0" stroke-width="1.35"/>
<line x1="288.28" y1="474.31" x2="288.28" y2="363.04" stroke="#6f66a0" stroke-width="1.35"/>
<line x1="286.88" y1="363.04" x2="289.68" y2="363.04" stroke="#6f66a0" stroke-width="1.35"/>
<line x1="286.88" y1="474.31" x2="289.68" y2="474.31" stroke="#6f66a0" stroke-width="1.35"/>
<line x1="291.99" y1="474.84" x2="291.99" y2="363.46" stroke="#6f66a0" stroke-width="1.35"/>
<line x1="290.59" y1="363.46" x2="293.39" y2="363.46" stroke="#6f66a0" stroke-width="1.35"/>
<line x1="290.59" y1="474.84" x2="293.39" y2="474.84" stroke="#6f66a0" stroke-width="1.35"/>
<line x1="295.70" y1="475.36" x2="295.70" y2="363.89" stroke="#6f66a0" stroke-width="1.35"/>
<line x1="294.30" y1="363.89" x2="297.10" y2="363.89" stroke="#6f66a0" stroke-width="1.35"/>
<line x1="294.30" y1="475.36" x2="297.10" y2="475.36" stroke="#6f66a0" stroke-width="1.35"/>
<line x1="299.41" y1="475.93" x2="299.41" y2="364.63" stroke="#6f66a0" stroke-width="1.35"/>
<line x1="298.01" y1="364.63" x2="300.81" y2="364.63" stroke="#6f66a0" stroke-width="1.35"/>
<line x1="298.01" y1="475.93" x2="300.81" y2="475.93" stroke="#6f66a0" stroke-width="1.35"/>
<line x1="303.12" y1="476.89" x2="303.12" y2="368.23" stroke="#6f66a0" stroke-width="1.35"/>
<line x1="301.72" y1="368.23" x2="304.52" y2="368.23" stroke="#6f66a0" stroke-width="1.35"/>
<line x1="301.72" y1="476.89" x2="304.52" y2="476.89" stroke="#6f66a0" stroke-width="1.35"/>
<line x1="306.83" y1="477.85" x2="306.83" y2="371.82" stroke="#6f66a0" stroke-width="1.35"/>
<line x1="305.43" y1="371.82" x2="308.23" y2="371.82" stroke="#6f66a0" stroke-width="1.35"/>
<line x1="305.43" y1="477.85" x2="308.23" y2="477.85" stroke="#6f66a0" stroke-width="1.35"/>
<line x1="310.54" y1="478.81" x2="310.54" y2="374.93" stroke="#6f66a0" stroke-width="1.35"/>
<line x1="309.14" y1="374.93" x2="311.94" y2="374.93" stroke="#6f66a0" stroke-width="1.35"/>
<line x1="309.14" y1="478.81" x2="311.94" y2="478.81" stroke="#6f66a0" stroke-width="1.35"/>
<line x1="314.25" y1="479.76" x2="314.25" y2="377.29" stroke="#6f66a0" stroke-width="1.35"/>
<line x1="312.85" y1="377.29" x2="315.65" y2="377.29" stroke="#6f66a0" stroke-width="1.35"/>
<line x1="312.85" y1="479.76" x2="315.65" y2="479.76" stroke="#6f66a0" stroke-width="1.35"/>
<line x1="317.96" y1="480.72" x2="317.96" y2="379.65" stroke="#6f66a0" stroke-width="1.35"/>
<line x1="316.56" y1="379.65" x2="319.36" y2="379.65" stroke="#6f66a0" stroke-width="1.35"/>
<line x1="316.56" y1="480.72" x2="319.36" y2="480.72" stroke="#6f66a0" stroke-width="1.35"/>
<line x1="321.67" y1="481.68" x2="321.67" y2="382.01" stroke="#6f66a0" stroke-width="1.35"/>
<line x1="320.27" y1="382.01" x2="323.07" y2="382.01" stroke="#6f66a0" stroke-width="1.35"/>
<line x1="320.27" y1="481.68" x2="323.07" y2="481.68" stroke="#6f66a0" stroke-width="1.35"/>
<line x1="325.38" y1="482.71" x2="325.38" y2="384.16" stroke="#6f66a0" stroke-width="1.35"/>
<line x1="323.98" y1="384.16" x2="326.78" y2="384.16" stroke="#6f66a0" stroke-width="1.35"/>
<line x1="323.98" y1="482.71" x2="326.78" y2="482.71" stroke="#6f66a0" stroke-width="1.35"/>
<line x1="329.09" y1="484.02" x2="329.09" y2="385.47" stroke="#6f66a0" stroke-width="1.35"/>
<line x1="327.69" y1="385.47" x2="330.49" y2="385.47" stroke="#6f66a0" stroke-width="1.35"/>
<line x1="327.69" y1="484.02" x2="330.49" y2="484.02" stroke="#6f66a0" stroke-width="1.35"/>
<line x1="332.80" y1="485.33" x2="332.80" y2="386.78" stroke="#6f66a0" stroke-width="1.35"/>
<line x1="331.40" y1="386.78" x2="334.20" y2="386.78" stroke="#6f66a0" stroke-width="1.35"/>
<line x1="331.40" y1="485.33" x2="334.20" y2="485.33" stroke="#6f66a0" stroke-width="1.35"/>
<line x1="336.51" y1="486.64" x2="336.51" y2="388.10" stroke="#6f66a0" stroke-width="1.35"/>
<line x1="335.11" y1="388.10" x2="337.91" y2="388.10" stroke="#6f66a0" stroke-width="1.35"/>
<line x1="335.11" y1="486.64" x2="337.91" y2="486.64" stroke="#6f66a0" stroke-width="1.35"/>
<line x1="340.22" y1="487.96" x2="340.22" y2="389.41" stroke="#6f66a0" stroke-width="1.35"/>
<line x1="338.82" y1="389.41" x2="341.62" y2="389.41" stroke="#6f66a0" stroke-width="1.35"/>
<line x1="338.82" y1="487.96" x2="341.62" y2="487.96" stroke="#6f66a0" stroke-width="1.35"/>
<line x1="343.93" y1="489.27" x2="343.93" y2="390.72" stroke="#6f66a0" stroke-width="1.35"/>
<line x1="342.53" y1="390.72" x2="345.33" y2="390.72" stroke="#6f66a0" stroke-width="1.35"/>
<line x1="342.53" y1="489.27" x2="345.33" y2="489.27" stroke="#6f66a0" stroke-width="1.35"/>
<line x1="347.64" y1="490.58" x2="347.64" y2="392.03" stroke="#6f66a0" stroke-width="1.35"/>
<line x1="346.24" y1="392.03" x2="349.04" y2="392.03" stroke="#6f66a0" stroke-width="1.35"/>
<line x1="346.24" y1="490.58" x2="349.04" y2="490.58" stroke="#6f66a0" stroke-width="1.35"/>
<line x1="351.35" y1="491.57" x2="351.35" y2="393.03" stroke="#6f66a0" stroke-width="1.35"/>
<line x1="349.95" y1="393.03" x2="352.75" y2="393.03" stroke="#6f66a0" stroke-width="1.35"/>
<line x1="349.95" y1="491.57" x2="352.75" y2="491.57" stroke="#6f66a0" stroke-width="1.35"/>
<line x1="355.06" y1="492.53" x2="355.06" y2="393.98" stroke="#6f66a0" stroke-width="1.35"/>
<line x1="353.66" y1="393.98" x2="356.46" y2="393.98" stroke="#6f66a0" stroke-width="1.35"/>
<line x1="353.66" y1="492.53" x2="356.46" y2="492.53" stroke="#6f66a0" stroke-width="1.35"/>
<line x1="358.77" y1="493.49" x2="358.77" y2="394.94" stroke="#6f66a0" stroke-width="1.35"/>
<line x1="357.37" y1="394.94" x2="360.17" y2="394.94" stroke="#6f66a0" stroke-width="1.35"/>
<line x1="357.37" y1="493.49" x2="360.17" y2="493.49" stroke="#6f66a0" stroke-width="1.35"/>
<line x1="362.48" y1="494.45" x2="362.48" y2="395.90" stroke="#6f66a0" stroke-width="1.35"/>
<line x1="361.08" y1="395.90" x2="363.88" y2="395.90" stroke="#6f66a0" stroke-width="1.35"/>
<line x1="361.08" y1="494.45" x2="363.88" y2="494.45" stroke="#6f66a0" stroke-width="1.35"/>
<line x1="366.19" y1="495.41" x2="366.19" y2="396.86" stroke="#6f66a0" stroke-width="1.35"/>
<line x1="364.79" y1="396.86" x2="367.59" y2="396.86" stroke="#6f66a0" stroke-width="1.35"/>
<line x1="364.79" y1="495.41" x2="367.59" y2="495.41" stroke="#6f66a0" stroke-width="1.35"/>
<line x1="369.90" y1="496.36" x2="369.90" y2="397.82" stroke="#6f66a0" stroke-width="1.35"/>
<line x1="368.50" y1="397.82" x2="371.30" y2="397.82" stroke="#6f66a0" stroke-width="1.35"/>
<line x1="368.50" y1="496.36" x2="371.30" y2="496.36" stroke="#6f66a0" stroke-width="1.35"/>
<line x1="373.61" y1="497.32" x2="373.61" y2="398.77" stroke="#6f66a0" stroke-width="1.35"/>
<line x1="372.21" y1="398.77" x2="375.01" y2="398.77" stroke="#6f66a0" stroke-width="1.35"/>
<line x1="372.21" y1="497.32" x2="375.01" y2="497.32" stroke="#6f66a0" stroke-width="1.35"/>
<line x1="377.32" y1="497.85" x2="377.32" y2="399.85" stroke="#6f66a0" stroke-width="1.35"/>
<line x1="375.92" y1="399.85" x2="378.72" y2="399.85" stroke="#6f66a0" stroke-width="1.35"/>
<line x1="375.92" y1="497.85" x2="378.72" y2="497.85" stroke="#6f66a0" stroke-width="1.35"/>
<line x1="381.03" y1="498.38" x2="381.03" y2="400.93" stroke="#6f66a0" stroke-width="1.35"/>
<line x1="379.63" y1="400.93" x2="382.43" y2="400.93" stroke="#6f66a0" stroke-width="1.35"/>
<line x1="379.63" y1="498.38" x2="382.43" y2="498.38" stroke="#6f66a0" stroke-width="1.35"/>
<line x1="384.74" y1="498.91" x2="384.74" y2="402.01" stroke="#6f66a0" stroke-width="1.35"/>
<line x1="383.34" y1="402.01" x2="386.14" y2="402.01" stroke="#6f66a0" stroke-width="1.35"/>
<line x1="383.34" y1="498.91" x2="386.14" y2="498.91" stroke="#6f66a0" stroke-width="1.35"/>
<line x1="388.45" y1="499.43" x2="388.45" y2="403.09" stroke="#6f66a0" stroke-width="1.35"/>
<line x1="387.05" y1="403.09" x2="389.85" y2="403.09" stroke="#6f66a0" stroke-width="1.35"/>
<line x1="387.05" y1="499.43" x2="389.85" y2="499.43" stroke="#6f66a0" stroke-width="1.35"/>
<line x1="392.16" y1="499.96" x2="392.16" y2="404.17" stroke="#6f66a0" stroke-width="1.35"/>
<line x1="390.76" y1="404.17" x2="393.56" y2="404.17" stroke="#6f66a0" stroke-width="1.35"/>
<line x1="390.76" y1="499.96" x2="393.56" y2="499.96" stroke="#6f66a0" stroke-width="1.35"/>
<line x1="395.87" y1="500.49" x2="395.87" y2="405.25" stroke="#6f66a0" stroke-width="1.35"/>
<line x1="394.47" y1="405.25" x2="397.27" y2="405.25" stroke="#6f66a0" stroke-width="1.35"/>
<line x1="394.47" y1="500.49" x2="397.27" y2="500.49" stroke="#6f66a0" stroke-width="1.35"/>
<line x1="399.58" y1="501.02" x2="399.58" y2="406.33" stroke="#6f66a0" stroke-width="1.35"/>
<line x1="398.18" y1="406.33" x2="400.98" y2="406.33" stroke="#6f66a0" stroke-width="1.35"/>
<line x1="398.18" y1="501.02" x2="400.98" y2="501.02" stroke="#6f66a0" stroke-width="1.35"/>
<line x1="403.29" y1="501.55" x2="403.29" y2="407.41" stroke="#6f66a0" stroke-width="1.35"/>
<line x1="401.89" y1="407.41" x2="404.69" y2="407.41" stroke="#6f66a0" stroke-width="1.35"/>
<line x1="401.89" y1="501.55" x2="404.69" y2="501.55" stroke="#6f66a0" stroke-width="1.35"/>
<line x1="407.00" y1="502.07" x2="407.00" y2="408.48" stroke="#6f66a0" stroke-width="1.35"/>
<line x1="405.60" y1="408.48" x2="408.40" y2="408.48" stroke="#6f66a0" stroke-width="1.35"/>
<line x1="405.60" y1="502.07" x2="408.40" y2="502.07" stroke="#6f66a0" stroke-width="1.35"/>
<path d="M73.10,597.11 L74.95,596.55 L76.81,596.00 L78.66,595.44 L80.52,594.51 L82.38,592.59 L84.23,590.56 L86.08,587.78 L87.94,586.12 L89.79,584.13 L91.65,578.71 L93.50,569.59 L95.36,559.18 L97.21,538.26 L99.07,529.60 L100.92,543.63 L102.78,525.49 L104.63,535.41 L106.49,528.95 L108.34,520.74 L110.20,515.81 L112.05,524.10 L113.91,525.02 L115.76,532.84 L117.62,545.49 L119.47,530.71 L121.33,519.22 L123.19,511.80 L125.04,505.56 L126.89,501.48 L128.75,498.26 L130.60,495.04 L132.46,491.40 L134.31,487.77 L136.17,484.13 L138.02,476.39 L139.88,466.49 L141.73,461.52 L143.59,460.80 L145.44,460.08 L147.30,459.36 L149.15,458.44 L151.01,457.16 L152.87,455.89 L154.72,454.61 L156.57,452.76 L158.43,450.58 L160.28,448.40 L162.14,446.95 L163.99,446.21 L165.85,445.47 L167.70,444.73 L169.56,443.99 L171.41,442.60 L173.27,441.01 L175.12,439.42 L176.98,437.84 L178.83,436.25 L180.69,435.03 L182.54,433.89 L184.40,432.75 L186.25,431.61 L188.11,430.47 L189.96,429.33 L191.82,428.19 L193.67,427.05 L195.53,425.75 L197.38,424.26 L199.24,422.77 L201.09,421.29 L202.95,419.80 L204.80,418.31 L206.66,417.26 L208.51,416.34 L210.37,415.41 L212.22,414.92 L214.08,414.65 L215.93,414.39 L217.79,414.12 L219.64,413.85 L221.50,413.58 L223.35,413.32 L225.21,413.05 L227.06,413.75 L228.92,414.54 L230.77,415.33 L232.63,416.11 L234.48,416.90 L236.34,417.69 L238.19,418.06 L240.05,418.17 L241.90,418.29 L243.76,418.40 L245.61,418.52 L247.47,418.63 L249.32,418.75 L251.18,418.78 L253.03,418.69 L254.89,418.60 L256.75,418.51 L258.60,418.42 L260.45,418.33 L262.31,418.24 L264.16,418.15 L266.02,418.06 L267.88,417.97 L269.73,417.88 L271.58,417.79 L273.44,417.70 L275.29,417.61 L277.15,417.67 L279.00,417.82 L280.86,417.97 L282.71,418.12 L284.57,418.27 L286.42,418.42 L288.28,418.57 L290.13,418.72 L291.99,418.87 L293.84,419.01 L295.70,419.16 L297.55,419.31 L299.41,419.67 L301.26,420.84 L303.12,422.02 L304.97,423.19 L306.83,424.36 L308.68,425.54 L310.54,426.24 L312.39,426.89 L314.25,427.55 L316.10,428.20 L317.96,428.86 L319.81,429.51 L321.67,430.17 L323.52,430.83 L325.38,431.51 L327.23,432.40 L329.09,433.29 L330.94,434.18 L332.80,435.07 L334.65,435.96 L336.51,436.85 L338.37,437.74 L340.22,438.63 L342.07,439.52 L343.93,440.41 L345.78,441.30 L347.64,442.19 L349.49,442.68 L351.35,443.08 L353.20,443.47 L355.06,443.87 L356.91,444.27 L358.77,444.66 L360.62,445.06 L362.48,445.45 L364.33,445.85 L366.19,446.24 L368.04,446.64 L369.90,447.03 L371.75,447.43 L373.61,447.83 L375.46,448.15 L377.32,448.45 L379.17,448.74 L381.03,449.04 L382.88,449.33 L384.74,449.63 L386.59,449.92 L388.45,450.22 L390.30,450.51 L392.16,450.81 L394.01,451.16 L395.87,451.77 L397.72,452.37 L399.58,452.97 L401.43,453.57 L403.29,454.18 L405.14,454.78 L407.00,455.38" fill="none" stroke="#5a2c95" stroke-width="3.0" stroke-linejoin="round"/>
<path d="M73.10,594.11 l3,3 l-3,3 l-3,-3z" fill="#5a2c95"/>
<path d="M80.00,592.04 l3,3 l-3,3 l-3,-3z" fill="#5a2c95"/>
<path d="M84.00,587.91 l3,3 l-3,3 l-3,-3z" fill="#5a2c95"/>
<path d="M86.20,584.61 l3,3 l-3,3 l-3,-3z" fill="#5a2c95"/>
<path d="M89.59,581.71 l3,3 l-3,3 l-3,-3z" fill="#5a2c95"/>
<path d="M92.00,574.69 l3,3 l-3,3 l-3,-3z" fill="#5a2c95"/>
<path d="M95.30,556.92 l3,3 l-3,3 l-3,-3z" fill="#5a2c95"/>
<path d="M96.70,538.33 l3,3 l-3,3 l-3,-3z" fill="#5a2c95"/>
<path d="M98.90,525.31 l3,3 l-3,3 l-3,-3z" fill="#5a2c95"/>
<path d="M101.00,541.22 l3,3 l-3,3 l-3,-3z" fill="#5a2c95"/>
<path d="M102.51,520.97 l3,3 l-3,3 l-3,-3z" fill="#5a2c95"/>
<path d="M104.60,532.54 l3,3 l-3,3 l-3,-3z" fill="#5a2c95"/>
<path d="M107.50,522.42 l3,3 l-3,3 l-3,-3z" fill="#5a2c95"/>
<path d="M109.70,510.23 l3,3 l-3,3 l-3,-3z" fill="#5a2c95"/>
<path d="M111.80,520.97 l3,3 l-3,3 l-3,-3z" fill="#5a2c95"/>
<path d="M114.70,522.42 l3,3 l-3,3 l-3,-3z" fill="#5a2c95"/>
<path d="M117.60,542.67 l3,3 l-3,3 l-3,-3z" fill="#5a2c95"/>
<path d="M120.50,519.53 l3,3 l-3,3 l-3,-3z" fill="#5a2c95"/>
<path d="M123.40,507.96 l3,3 l-3,3 l-3,-3z" fill="#5a2c95"/>
<path d="M125.60,500.73 l3,3 l-3,3 l-3,-3z" fill="#5a2c95"/>
<path d="M130.60,492.05 l3,3 l-3,3 l-3,-3z" fill="#5a2c95"/>
<path d="M136.40,480.69 l3,3 l-3,3 l-3,-3z" fill="#5a2c95"/>
<path d="M139.30,467.67 l3,3 l-3,3 l-3,-3z" fill="#5a2c95"/>
<path d="M140.50,458.99 l3,3 l-3,3 l-3,-3z" fill="#5a2c95"/>
<path d="M148.49,455.89 l3,3 l-3,3 l-3,-3z" fill="#5a2c95"/>
<path d="M136.17,484.13 L139.88,466.49 L143.59,460.80 L147.30,459.36 L151.01,457.16 L154.72,454.61 L158.43,450.58 L162.14,446.95 L165.85,445.47 L169.56,443.99 L173.27,441.01 L176.98,437.84 L180.69,435.03 L184.40,432.75 L188.11,430.47 L191.82,428.19 L195.53,425.75 L199.24,422.77 L202.95,419.80 L206.66,417.26 L210.37,415.41 L214.08,414.65 L217.79,414.12 L221.50,413.58 L225.21,413.05 L228.92,414.54 L232.63,416.11 L236.34,417.69 L240.05,418.17 L243.76,418.40 L247.47,418.63 L251.18,418.78 L254.89,418.60 L258.60,418.42 L262.31,418.24 L266.02,418.06 L269.73,417.88 L273.44,417.70 L277.15,417.67 L280.86,417.97 L284.57,418.27 L288.28,418.57 L291.99,418.87 L295.70,419.16 L299.41,419.67 L303.12,422.02 L306.83,424.36 L310.54,426.24 L314.25,427.55 L317.96,428.86 L321.67,430.17 L325.38,431.51 L329.09,433.29 L332.80,435.07 L336.51,436.85 L340.22,438.63 L343.93,440.41 L347.64,442.19 L351.35,443.08 L355.06,443.87 L358.77,444.66 L362.48,445.45 L366.19,446.24 L369.90,447.03 L373.61,447.83 L377.32,448.45 L381.03,449.04 L384.74,449.63 L388.45,450.22 L392.16,450.81 L395.87,451.77 L399.58,452.97 L403.29,454.18 L407.00,455.38" fill="none" stroke="#5a2c95" stroke-width="5.2" stroke-linejoin="round" stroke-linecap="round"/>
<line x1="73.10" y1="602.21" x2="73.10" y2="565.39" stroke="#b0443f" stroke-width="1.15"/>
<line x1="71.60" y1="565.39" x2="74.60" y2="565.39" stroke="#b0443f" stroke-width="1.15"/>
<line x1="71.60" y1="602.21" x2="74.60" y2="602.21" stroke="#b0443f" stroke-width="1.15"/>
<line x1="76.81" y1="598.58" x2="76.81" y2="552.01" stroke="#b0443f" stroke-width="1.15"/>
<line x1="75.31" y1="552.01" x2="78.31" y2="552.01" stroke="#b0443f" stroke-width="1.15"/>
<line x1="75.31" y1="598.58" x2="78.31" y2="598.58" stroke="#b0443f" stroke-width="1.15"/>
<line x1="80.52" y1="600.23" x2="80.52" y2="546.94" stroke="#b0443f" stroke-width="1.15"/>
<line x1="79.02" y1="546.94" x2="82.02" y2="546.94" stroke="#b0443f" stroke-width="1.15"/>
<line x1="79.02" y1="600.23" x2="82.02" y2="600.23" stroke="#b0443f" stroke-width="1.15"/>
<line x1="84.23" y1="599.48" x2="84.23" y2="548.82" stroke="#b0443f" stroke-width="1.15"/>
<line x1="82.73" y1="548.82" x2="85.73" y2="548.82" stroke="#b0443f" stroke-width="1.15"/>
<line x1="82.73" y1="599.48" x2="85.73" y2="599.48" stroke="#b0443f" stroke-width="1.15"/>
<line x1="87.94" y1="604.52" x2="87.94" y2="535.69" stroke="#b0443f" stroke-width="1.15"/>
<line x1="86.44" y1="535.69" x2="89.44" y2="535.69" stroke="#b0443f" stroke-width="1.15"/>
<line x1="86.44" y1="604.52" x2="89.44" y2="604.52" stroke="#b0443f" stroke-width="1.15"/>
<line x1="91.65" y1="604.57" x2="91.65" y2="539.75" stroke="#b0443f" stroke-width="1.15"/>
<line x1="90.15" y1="539.75" x2="93.15" y2="539.75" stroke="#b0443f" stroke-width="1.15"/>
<line x1="90.15" y1="604.57" x2="93.15" y2="604.57" stroke="#b0443f" stroke-width="1.15"/>
<line x1="95.36" y1="600.43" x2="95.36" y2="555.01" stroke="#b0443f" stroke-width="1.15"/>
<line x1="93.86" y1="555.01" x2="96.86" y2="555.01" stroke="#b0443f" stroke-width="1.15"/>
<line x1="93.86" y1="600.43" x2="96.86" y2="600.43" stroke="#b0443f" stroke-width="1.15"/>
<line x1="99.07" y1="603.26" x2="99.07" y2="553.60" stroke="#b0443f" stroke-width="1.15"/>
<line x1="97.57" y1="553.60" x2="100.57" y2="553.60" stroke="#b0443f" stroke-width="1.15"/>
<line x1="97.57" y1="603.26" x2="100.57" y2="603.26" stroke="#b0443f" stroke-width="1.15"/>
<line x1="102.78" y1="602.06" x2="102.78" y2="555.62" stroke="#b0443f" stroke-width="1.15"/>
<line x1="101.28" y1="555.62" x2="104.28" y2="555.62" stroke="#b0443f" stroke-width="1.15"/>
<line x1="101.28" y1="602.06" x2="104.28" y2="602.06" stroke="#b0443f" stroke-width="1.15"/>
<line x1="106.49" y1="604.41" x2="106.49" y2="549.76" stroke="#b0443f" stroke-width="1.15"/>
<line x1="104.99" y1="549.76" x2="107.99" y2="549.76" stroke="#b0443f" stroke-width="1.15"/>
<line x1="104.99" y1="604.41" x2="107.99" y2="604.41" stroke="#b0443f" stroke-width="1.15"/>
<line x1="110.20" y1="599.43" x2="110.20" y2="555.47" stroke="#b0443f" stroke-width="1.15"/>
<line x1="108.70" y1="555.47" x2="111.70" y2="555.47" stroke="#b0443f" stroke-width="1.15"/>
<line x1="108.70" y1="599.43" x2="111.70" y2="599.43" stroke="#b0443f" stroke-width="1.15"/>
<line x1="113.91" y1="602.49" x2="113.91" y2="549.07" stroke="#b0443f" stroke-width="1.15"/>
<line x1="112.41" y1="549.07" x2="115.41" y2="549.07" stroke="#b0443f" stroke-width="1.15"/>
<line x1="112.41" y1="602.49" x2="115.41" y2="602.49" stroke="#b0443f" stroke-width="1.15"/>
<line x1="117.62" y1="600.58" x2="117.62" y2="546.06" stroke="#b0443f" stroke-width="1.15"/>
<line x1="116.12" y1="546.06" x2="119.12" y2="546.06" stroke="#b0443f" stroke-width="1.15"/>
<line x1="116.12" y1="600.58" x2="119.12" y2="600.58" stroke="#b0443f" stroke-width="1.15"/>
<line x1="121.33" y1="605.37" x2="121.33" y2="551.19" stroke="#b0443f" stroke-width="1.15"/>
<line x1="119.83" y1="551.19" x2="122.83" y2="551.19" stroke="#b0443f" stroke-width="1.15"/>
<line x1="119.83" y1="605.37" x2="122.83" y2="605.37" stroke="#b0443f" stroke-width="1.15"/>
<line x1="125.04" y1="602.98" x2="125.04" y2="545.21" stroke="#b0443f" stroke-width="1.15"/>
<line x1="123.54" y1="545.21" x2="126.54" y2="545.21" stroke="#b0443f" stroke-width="1.15"/>
<line x1="123.54" y1="602.98" x2="126.54" y2="602.98" stroke="#b0443f" stroke-width="1.15"/>
<line x1="128.75" y1="605.68" x2="128.75" y2="546.21" stroke="#b0443f" stroke-width="1.15"/>
<line x1="127.25" y1="546.21" x2="130.25" y2="546.21" stroke="#b0443f" stroke-width="1.15"/>
<line x1="127.25" y1="605.68" x2="130.25" y2="605.68" stroke="#b0443f" stroke-width="1.15"/>
<line x1="132.46" y1="600.70" x2="132.46" y2="554.55" stroke="#b0443f" stroke-width="1.15"/>
<line x1="130.96" y1="554.55" x2="133.96" y2="554.55" stroke="#b0443f" stroke-width="1.15"/>
<line x1="130.96" y1="600.70" x2="133.96" y2="600.70" stroke="#b0443f" stroke-width="1.15"/>
<line x1="136.17" y1="603.53" x2="136.17" y2="546.95" stroke="#b0443f" stroke-width="1.15"/>
<line x1="134.67" y1="546.95" x2="137.67" y2="546.95" stroke="#b0443f" stroke-width="1.15"/>
<line x1="134.67" y1="603.53" x2="137.67" y2="603.53" stroke="#b0443f" stroke-width="1.15"/>
<line x1="139.88" y1="605.98" x2="139.88" y2="551.42" stroke="#b0443f" stroke-width="1.15"/>
<line x1="138.38" y1="551.42" x2="141.38" y2="551.42" stroke="#b0443f" stroke-width="1.15"/>
<line x1="138.38" y1="605.98" x2="141.38" y2="605.98" stroke="#b0443f" stroke-width="1.15"/>
<line x1="143.59" y1="609.95" x2="143.59" y2="549.30" stroke="#b0443f" stroke-width="1.15"/>
<line x1="142.09" y1="549.30" x2="145.09" y2="549.30" stroke="#b0443f" stroke-width="1.15"/>
<line x1="142.09" y1="609.95" x2="145.09" y2="609.95" stroke="#b0443f" stroke-width="1.15"/>
<line x1="147.30" y1="611.11" x2="147.30" y2="551.35" stroke="#b0443f" stroke-width="1.15"/>
<line x1="145.80" y1="551.35" x2="148.80" y2="551.35" stroke="#b0443f" stroke-width="1.15"/>
<line x1="145.80" y1="611.11" x2="148.80" y2="611.11" stroke="#b0443f" stroke-width="1.15"/>
<line x1="151.01" y1="614.16" x2="151.01" y2="545.56" stroke="#b0443f" stroke-width="1.15"/>
<line x1="149.51" y1="545.56" x2="152.51" y2="545.56" stroke="#b0443f" stroke-width="1.15"/>
<line x1="149.51" y1="614.16" x2="152.51" y2="614.16" stroke="#b0443f" stroke-width="1.15"/>
<line x1="154.72" y1="614.76" x2="154.72" y2="549.35" stroke="#b0443f" stroke-width="1.15"/>
<line x1="153.22" y1="549.35" x2="156.22" y2="549.35" stroke="#b0443f" stroke-width="1.15"/>
<line x1="153.22" y1="614.76" x2="156.22" y2="614.76" stroke="#b0443f" stroke-width="1.15"/>
<line x1="158.43" y1="616.15" x2="158.43" y2="553.59" stroke="#b0443f" stroke-width="1.15"/>
<line x1="156.93" y1="553.59" x2="159.93" y2="553.59" stroke="#b0443f" stroke-width="1.15"/>
<line x1="156.93" y1="616.15" x2="159.93" y2="616.15" stroke="#b0443f" stroke-width="1.15"/>
<line x1="162.14" y1="606.10" x2="162.14" y2="548.12" stroke="#b0443f" stroke-width="1.15"/>
<line x1="160.64" y1="548.12" x2="163.64" y2="548.12" stroke="#b0443f" stroke-width="1.15"/>
<line x1="160.64" y1="606.10" x2="163.64" y2="606.10" stroke="#b0443f" stroke-width="1.15"/>
<line x1="165.85" y1="609.33" x2="165.85" y2="544.85" stroke="#b0443f" stroke-width="1.15"/>
<line x1="164.35" y1="544.85" x2="167.35" y2="544.85" stroke="#b0443f" stroke-width="1.15"/>
<line x1="164.35" y1="609.33" x2="167.35" y2="609.33" stroke="#b0443f" stroke-width="1.15"/>
<line x1="169.56" y1="615.59" x2="169.56" y2="551.84" stroke="#b0443f" stroke-width="1.15"/>
<line x1="168.06" y1="551.84" x2="171.06" y2="551.84" stroke="#b0443f" stroke-width="1.15"/>
<line x1="168.06" y1="615.59" x2="171.06" y2="615.59" stroke="#b0443f" stroke-width="1.15"/>
<line x1="173.27" y1="612.33" x2="173.27" y2="553.20" stroke="#b0443f" stroke-width="1.15"/>
<line x1="171.77" y1="553.20" x2="174.77" y2="553.20" stroke="#b0443f" stroke-width="1.15"/>
<line x1="171.77" y1="612.33" x2="174.77" y2="612.33" stroke="#b0443f" stroke-width="1.15"/>
<line x1="176.98" y1="616.96" x2="176.98" y2="550.94" stroke="#b0443f" stroke-width="1.15"/>
<line x1="175.48" y1="550.94" x2="178.48" y2="550.94" stroke="#b0443f" stroke-width="1.15"/>
<line x1="175.48" y1="616.96" x2="178.48" y2="616.96" stroke="#b0443f" stroke-width="1.15"/>
<line x1="180.69" y1="615.07" x2="180.69" y2="543.14" stroke="#b0443f" stroke-width="1.15"/>
<line x1="179.19" y1="543.14" x2="182.19" y2="543.14" stroke="#b0443f" stroke-width="1.15"/>
<line x1="179.19" y1="615.07" x2="182.19" y2="615.07" stroke="#b0443f" stroke-width="1.15"/>
<line x1="184.40" y1="608.71" x2="184.40" y2="542.71" stroke="#b0443f" stroke-width="1.15"/>
<line x1="182.90" y1="542.71" x2="185.90" y2="542.71" stroke="#b0443f" stroke-width="1.15"/>
<line x1="182.90" y1="608.71" x2="185.90" y2="608.71" stroke="#b0443f" stroke-width="1.15"/>
<line x1="188.11" y1="609.74" x2="188.11" y2="547.24" stroke="#b0443f" stroke-width="1.15"/>
<line x1="186.61" y1="547.24" x2="189.61" y2="547.24" stroke="#b0443f" stroke-width="1.15"/>
<line x1="186.61" y1="609.74" x2="189.61" y2="609.74" stroke="#b0443f" stroke-width="1.15"/>
<line x1="191.82" y1="611.92" x2="191.82" y2="544.04" stroke="#b0443f" stroke-width="1.15"/>
<line x1="190.32" y1="544.04" x2="193.32" y2="544.04" stroke="#b0443f" stroke-width="1.15"/>
<line x1="190.32" y1="611.92" x2="193.32" y2="611.92" stroke="#b0443f" stroke-width="1.15"/>
<line x1="195.53" y1="614.50" x2="195.53" y2="545.00" stroke="#b0443f" stroke-width="1.15"/>
<line x1="194.03" y1="545.00" x2="197.03" y2="545.00" stroke="#b0443f" stroke-width="1.15"/>
<line x1="194.03" y1="614.50" x2="197.03" y2="614.50" stroke="#b0443f" stroke-width="1.15"/>
<line x1="199.24" y1="609.87" x2="199.24" y2="551.91" stroke="#b0443f" stroke-width="1.15"/>
<line x1="197.74" y1="551.91" x2="200.74" y2="551.91" stroke="#b0443f" stroke-width="1.15"/>
<line x1="197.74" y1="609.87" x2="200.74" y2="609.87" stroke="#b0443f" stroke-width="1.15"/>
<line x1="202.95" y1="606.14" x2="202.95" y2="556.18" stroke="#b0443f" stroke-width="1.15"/>
<line x1="201.45" y1="556.18" x2="204.45" y2="556.18" stroke="#b0443f" stroke-width="1.15"/>
<line x1="201.45" y1="606.14" x2="204.45" y2="606.14" stroke="#b0443f" stroke-width="1.15"/>
<line x1="206.66" y1="612.65" x2="206.66" y2="548.20" stroke="#b0443f" stroke-width="1.15"/>
<line x1="205.16" y1="548.20" x2="208.16" y2="548.20" stroke="#b0443f" stroke-width="1.15"/>
<line x1="205.16" y1="612.65" x2="208.16" y2="612.65" stroke="#b0443f" stroke-width="1.15"/>
<line x1="210.37" y1="617.22" x2="210.37" y2="549.72" stroke="#b0443f" stroke-width="1.15"/>
<line x1="208.87" y1="549.72" x2="211.87" y2="549.72" stroke="#b0443f" stroke-width="1.15"/>
<line x1="208.87" y1="617.22" x2="211.87" y2="617.22" stroke="#b0443f" stroke-width="1.15"/>
<line x1="214.08" y1="617.42" x2="214.08" y2="552.70" stroke="#b0443f" stroke-width="1.15"/>
<line x1="212.58" y1="552.70" x2="215.58" y2="552.70" stroke="#b0443f" stroke-width="1.15"/>
<line x1="212.58" y1="617.42" x2="215.58" y2="617.42" stroke="#b0443f" stroke-width="1.15"/>
<line x1="217.79" y1="617.16" x2="217.79" y2="554.81" stroke="#b0443f" stroke-width="1.15"/>
<line x1="216.29" y1="554.81" x2="219.29" y2="554.81" stroke="#b0443f" stroke-width="1.15"/>
<line x1="216.29" y1="617.16" x2="219.29" y2="617.16" stroke="#b0443f" stroke-width="1.15"/>
<line x1="221.50" y1="606.33" x2="221.50" y2="552.32" stroke="#b0443f" stroke-width="1.15"/>
<line x1="220.00" y1="552.32" x2="223.00" y2="552.32" stroke="#b0443f" stroke-width="1.15"/>
<line x1="220.00" y1="606.33" x2="223.00" y2="606.33" stroke="#b0443f" stroke-width="1.15"/>
<line x1="225.21" y1="611.57" x2="225.21" y2="551.56" stroke="#b0443f" stroke-width="1.15"/>
<line x1="223.71" y1="551.56" x2="226.71" y2="551.56" stroke="#b0443f" stroke-width="1.15"/>
<line x1="223.71" y1="611.57" x2="226.71" y2="611.57" stroke="#b0443f" stroke-width="1.15"/>
<line x1="228.92" y1="607.94" x2="228.92" y2="554.58" stroke="#b0443f" stroke-width="1.15"/>
<line x1="227.42" y1="554.58" x2="230.42" y2="554.58" stroke="#b0443f" stroke-width="1.15"/>
<line x1="227.42" y1="607.94" x2="230.42" y2="607.94" stroke="#b0443f" stroke-width="1.15"/>
<line x1="232.63" y1="616.26" x2="232.63" y2="554.39" stroke="#b0443f" stroke-width="1.15"/>
<line x1="231.13" y1="554.39" x2="234.13" y2="554.39" stroke="#b0443f" stroke-width="1.15"/>
<line x1="231.13" y1="616.26" x2="234.13" y2="616.26" stroke="#b0443f" stroke-width="1.15"/>
<line x1="236.34" y1="615.19" x2="236.34" y2="552.13" stroke="#b0443f" stroke-width="1.15"/>
<line x1="234.84" y1="552.13" x2="237.84" y2="552.13" stroke="#b0443f" stroke-width="1.15"/>
<line x1="234.84" y1="615.19" x2="237.84" y2="615.19" stroke="#b0443f" stroke-width="1.15"/>
<line x1="240.05" y1="609.88" x2="240.05" y2="546.44" stroke="#b0443f" stroke-width="1.15"/>
<line x1="238.55" y1="546.44" x2="241.55" y2="546.44" stroke="#b0443f" stroke-width="1.15"/>
<line x1="238.55" y1="609.88" x2="241.55" y2="609.88" stroke="#b0443f" stroke-width="1.15"/>
<line x1="243.76" y1="607.40" x2="243.76" y2="551.13" stroke="#b0443f" stroke-width="1.15"/>
<line x1="242.26" y1="551.13" x2="245.26" y2="551.13" stroke="#b0443f" stroke-width="1.15"/>
<line x1="242.26" y1="607.40" x2="245.26" y2="607.40" stroke="#b0443f" stroke-width="1.15"/>
<line x1="247.47" y1="614.33" x2="247.47" y2="556.24" stroke="#b0443f" stroke-width="1.15"/>
<line x1="245.97" y1="556.24" x2="248.97" y2="556.24" stroke="#b0443f" stroke-width="1.15"/>
<line x1="245.97" y1="614.33" x2="248.97" y2="614.33" stroke="#b0443f" stroke-width="1.15"/>
<line x1="251.18" y1="612.40" x2="251.18" y2="553.83" stroke="#b0443f" stroke-width="1.15"/>
<line x1="249.68" y1="553.83" x2="252.68" y2="553.83" stroke="#b0443f" stroke-width="1.15"/>
<line x1="249.68" y1="612.40" x2="252.68" y2="612.40" stroke="#b0443f" stroke-width="1.15"/>
<line x1="254.89" y1="612.62" x2="254.89" y2="554.55" stroke="#b0443f" stroke-width="1.15"/>
<line x1="253.39" y1="554.55" x2="256.39" y2="554.55" stroke="#b0443f" stroke-width="1.15"/>
<line x1="253.39" y1="612.62" x2="256.39" y2="612.62" stroke="#b0443f" stroke-width="1.15"/>
<line x1="258.60" y1="612.85" x2="258.60" y2="555.27" stroke="#b0443f" stroke-width="1.15"/>
<line x1="257.10" y1="555.27" x2="260.10" y2="555.27" stroke="#b0443f" stroke-width="1.15"/>
<line x1="257.10" y1="612.85" x2="260.10" y2="612.85" stroke="#b0443f" stroke-width="1.15"/>
<line x1="262.31" y1="613.07" x2="262.31" y2="556.00" stroke="#b0443f" stroke-width="1.15"/>
<line x1="260.81" y1="556.00" x2="263.81" y2="556.00" stroke="#b0443f" stroke-width="1.15"/>
<line x1="260.81" y1="613.07" x2="263.81" y2="613.07" stroke="#b0443f" stroke-width="1.15"/>
<line x1="266.02" y1="613.30" x2="266.02" y2="555.83" stroke="#b0443f" stroke-width="1.15"/>
<line x1="264.52" y1="555.83" x2="267.52" y2="555.83" stroke="#b0443f" stroke-width="1.15"/>
<line x1="264.52" y1="613.30" x2="267.52" y2="613.30" stroke="#b0443f" stroke-width="1.15"/>
<line x1="269.73" y1="613.52" x2="269.73" y2="555.67" stroke="#b0443f" stroke-width="1.15"/>
<line x1="268.23" y1="555.67" x2="271.23" y2="555.67" stroke="#b0443f" stroke-width="1.15"/>
<line x1="268.23" y1="613.52" x2="271.23" y2="613.52" stroke="#b0443f" stroke-width="1.15"/>
<line x1="273.44" y1="613.74" x2="273.44" y2="555.50" stroke="#b0443f" stroke-width="1.15"/>
<line x1="271.94" y1="555.50" x2="274.94" y2="555.50" stroke="#b0443f" stroke-width="1.15"/>
<line x1="271.94" y1="613.74" x2="274.94" y2="613.74" stroke="#b0443f" stroke-width="1.15"/>
<line x1="277.15" y1="613.97" x2="277.15" y2="555.34" stroke="#b0443f" stroke-width="1.15"/>
<line x1="275.65" y1="555.34" x2="278.65" y2="555.34" stroke="#b0443f" stroke-width="1.15"/>
<line x1="275.65" y1="613.97" x2="278.65" y2="613.97" stroke="#b0443f" stroke-width="1.15"/>
<line x1="280.86" y1="614.19" x2="280.86" y2="555.17" stroke="#b0443f" stroke-width="1.15"/>
<line x1="279.36" y1="555.17" x2="282.36" y2="555.17" stroke="#b0443f" stroke-width="1.15"/>
<line x1="279.36" y1="614.19" x2="282.36" y2="614.19" stroke="#b0443f" stroke-width="1.15"/>
<line x1="284.57" y1="614.42" x2="284.57" y2="555.00" stroke="#b0443f" stroke-width="1.15"/>
<line x1="283.07" y1="555.00" x2="286.07" y2="555.00" stroke="#b0443f" stroke-width="1.15"/>
<line x1="283.07" y1="614.42" x2="286.07" y2="614.42" stroke="#b0443f" stroke-width="1.15"/>
<line x1="288.28" y1="614.64" x2="288.28" y2="554.84" stroke="#b0443f" stroke-width="1.15"/>
<line x1="286.78" y1="554.84" x2="289.78" y2="554.84" stroke="#b0443f" stroke-width="1.15"/>
<line x1="286.78" y1="614.64" x2="289.78" y2="614.64" stroke="#b0443f" stroke-width="1.15"/>
<line x1="291.99" y1="614.86" x2="291.99" y2="554.36" stroke="#b0443f" stroke-width="1.15"/>
<line x1="290.49" y1="554.36" x2="293.49" y2="554.36" stroke="#b0443f" stroke-width="1.15"/>
<line x1="290.49" y1="614.86" x2="293.49" y2="614.86" stroke="#b0443f" stroke-width="1.15"/>
<line x1="295.70" y1="615.09" x2="295.70" y2="553.55" stroke="#b0443f" stroke-width="1.15"/>
<line x1="294.20" y1="553.55" x2="297.20" y2="553.55" stroke="#b0443f" stroke-width="1.15"/>
<line x1="294.20" y1="615.09" x2="297.20" y2="615.09" stroke="#b0443f" stroke-width="1.15"/>
<line x1="299.41" y1="615.26" x2="299.41" y2="552.75" stroke="#b0443f" stroke-width="1.15"/>
<line x1="297.91" y1="552.75" x2="300.91" y2="552.75" stroke="#b0443f" stroke-width="1.15"/>
<line x1="297.91" y1="615.26" x2="300.91" y2="615.26" stroke="#b0443f" stroke-width="1.15"/>
<line x1="303.12" y1="614.95" x2="303.12" y2="551.94" stroke="#b0443f" stroke-width="1.15"/>
<line x1="301.62" y1="551.94" x2="304.62" y2="551.94" stroke="#b0443f" stroke-width="1.15"/>
<line x1="301.62" y1="614.95" x2="304.62" y2="614.95" stroke="#b0443f" stroke-width="1.15"/>
<line x1="306.83" y1="614.64" x2="306.83" y2="551.14" stroke="#b0443f" stroke-width="1.15"/>
<line x1="305.33" y1="551.14" x2="308.33" y2="551.14" stroke="#b0443f" stroke-width="1.15"/>
<line x1="305.33" y1="614.64" x2="308.33" y2="614.64" stroke="#b0443f" stroke-width="1.15"/>
<line x1="310.54" y1="614.33" x2="310.54" y2="550.34" stroke="#b0443f" stroke-width="1.15"/>
<line x1="309.04" y1="550.34" x2="312.04" y2="550.34" stroke="#b0443f" stroke-width="1.15"/>
<line x1="309.04" y1="614.33" x2="312.04" y2="614.33" stroke="#b0443f" stroke-width="1.15"/>
<line x1="314.25" y1="614.02" x2="314.25" y2="549.53" stroke="#b0443f" stroke-width="1.15"/>
<line x1="312.75" y1="549.53" x2="315.75" y2="549.53" stroke="#b0443f" stroke-width="1.15"/>
<line x1="312.75" y1="614.02" x2="315.75" y2="614.02" stroke="#b0443f" stroke-width="1.15"/>
<line x1="317.96" y1="613.70" x2="317.96" y2="549.80" stroke="#b0443f" stroke-width="1.15"/>
<line x1="316.46" y1="549.80" x2="319.46" y2="549.80" stroke="#b0443f" stroke-width="1.15"/>
<line x1="316.46" y1="613.70" x2="319.46" y2="613.70" stroke="#b0443f" stroke-width="1.15"/>
<line x1="321.67" y1="613.39" x2="321.67" y2="552.55" stroke="#b0443f" stroke-width="1.15"/>
<line x1="320.17" y1="552.55" x2="323.17" y2="552.55" stroke="#b0443f" stroke-width="1.15"/>
<line x1="320.17" y1="613.39" x2="323.17" y2="613.39" stroke="#b0443f" stroke-width="1.15"/>
<line x1="325.38" y1="613.08" x2="325.38" y2="554.80" stroke="#b0443f" stroke-width="1.15"/>
<line x1="323.88" y1="554.80" x2="326.88" y2="554.80" stroke="#b0443f" stroke-width="1.15"/>
<line x1="323.88" y1="613.08" x2="326.88" y2="613.08" stroke="#b0443f" stroke-width="1.15"/>
<line x1="329.09" y1="612.77" x2="329.09" y2="555.00" stroke="#b0443f" stroke-width="1.15"/>
<line x1="327.59" y1="555.00" x2="330.59" y2="555.00" stroke="#b0443f" stroke-width="1.15"/>
<line x1="327.59" y1="612.77" x2="330.59" y2="612.77" stroke="#b0443f" stroke-width="1.15"/>
<line x1="332.80" y1="612.46" x2="332.80" y2="555.21" stroke="#b0443f" stroke-width="1.15"/>
<line x1="331.30" y1="555.21" x2="334.30" y2="555.21" stroke="#b0443f" stroke-width="1.15"/>
<line x1="331.30" y1="612.46" x2="334.30" y2="612.46" stroke="#b0443f" stroke-width="1.15"/>
<line x1="336.51" y1="612.55" x2="336.51" y2="555.42" stroke="#b0443f" stroke-width="1.15"/>
<line x1="335.01" y1="555.42" x2="338.01" y2="555.42" stroke="#b0443f" stroke-width="1.15"/>
<line x1="335.01" y1="612.55" x2="338.01" y2="612.55" stroke="#b0443f" stroke-width="1.15"/>
<line x1="340.22" y1="612.73" x2="340.22" y2="555.62" stroke="#b0443f" stroke-width="1.15"/>
<line x1="338.72" y1="555.62" x2="341.72" y2="555.62" stroke="#b0443f" stroke-width="1.15"/>
<line x1="338.72" y1="612.73" x2="341.72" y2="612.73" stroke="#b0443f" stroke-width="1.15"/>
<line x1="343.93" y1="612.92" x2="343.93" y2="555.83" stroke="#b0443f" stroke-width="1.15"/>
<line x1="342.43" y1="555.83" x2="345.43" y2="555.83" stroke="#b0443f" stroke-width="1.15"/>
<line x1="342.43" y1="612.92" x2="345.43" y2="612.92" stroke="#b0443f" stroke-width="1.15"/>
<line x1="347.64" y1="613.10" x2="347.64" y2="556.30" stroke="#b0443f" stroke-width="1.15"/>
<line x1="346.14" y1="556.30" x2="349.14" y2="556.30" stroke="#b0443f" stroke-width="1.15"/>
<line x1="346.14" y1="613.10" x2="349.14" y2="613.10" stroke="#b0443f" stroke-width="1.15"/>
<line x1="351.35" y1="613.29" x2="351.35" y2="557.84" stroke="#b0443f" stroke-width="1.15"/>
<line x1="349.85" y1="557.84" x2="352.85" y2="557.84" stroke="#b0443f" stroke-width="1.15"/>
<line x1="349.85" y1="613.29" x2="352.85" y2="613.29" stroke="#b0443f" stroke-width="1.15"/>
<line x1="355.06" y1="613.47" x2="355.06" y2="559.38" stroke="#b0443f" stroke-width="1.15"/>
<line x1="353.56" y1="559.38" x2="356.56" y2="559.38" stroke="#b0443f" stroke-width="1.15"/>
<line x1="353.56" y1="613.47" x2="356.56" y2="613.47" stroke="#b0443f" stroke-width="1.15"/>
<line x1="358.77" y1="613.66" x2="358.77" y2="560.91" stroke="#b0443f" stroke-width="1.15"/>
<line x1="357.27" y1="560.91" x2="360.27" y2="560.91" stroke="#b0443f" stroke-width="1.15"/>
<line x1="357.27" y1="613.66" x2="360.27" y2="613.66" stroke="#b0443f" stroke-width="1.15"/>
<line x1="362.48" y1="613.84" x2="362.48" y2="562.21" stroke="#b0443f" stroke-width="1.15"/>
<line x1="360.98" y1="562.21" x2="363.98" y2="562.21" stroke="#b0443f" stroke-width="1.15"/>
<line x1="360.98" y1="613.84" x2="363.98" y2="613.84" stroke="#b0443f" stroke-width="1.15"/>
<line x1="366.19" y1="614.21" x2="366.19" y2="562.95" stroke="#b0443f" stroke-width="1.15"/>
<line x1="364.69" y1="562.95" x2="367.69" y2="562.95" stroke="#b0443f" stroke-width="1.15"/>
<line x1="364.69" y1="614.21" x2="367.69" y2="614.21" stroke="#b0443f" stroke-width="1.15"/>
<line x1="369.90" y1="614.57" x2="369.90" y2="563.69" stroke="#b0443f" stroke-width="1.15"/>
<line x1="368.40" y1="563.69" x2="371.40" y2="563.69" stroke="#b0443f" stroke-width="1.15"/>
<line x1="368.40" y1="614.57" x2="371.40" y2="614.57" stroke="#b0443f" stroke-width="1.15"/>
<line x1="373.61" y1="614.93" x2="373.61" y2="564.44" stroke="#b0443f" stroke-width="1.15"/>
<line x1="372.11" y1="564.44" x2="375.11" y2="564.44" stroke="#b0443f" stroke-width="1.15"/>
<line x1="372.11" y1="614.93" x2="375.11" y2="614.93" stroke="#b0443f" stroke-width="1.15"/>
<line x1="377.32" y1="615.29" x2="377.32" y2="565.02" stroke="#b0443f" stroke-width="1.15"/>
<line x1="375.82" y1="565.02" x2="378.82" y2="565.02" stroke="#b0443f" stroke-width="1.15"/>
<line x1="375.82" y1="615.29" x2="378.82" y2="615.29" stroke="#b0443f" stroke-width="1.15"/>
<line x1="381.03" y1="615.65" x2="381.03" y2="565.36" stroke="#b0443f" stroke-width="1.15"/>
<line x1="379.53" y1="565.36" x2="382.53" y2="565.36" stroke="#b0443f" stroke-width="1.15"/>
<line x1="379.53" y1="615.65" x2="382.53" y2="615.65" stroke="#b0443f" stroke-width="1.15"/>
<line x1="384.74" y1="616.01" x2="384.74" y2="565.71" stroke="#b0443f" stroke-width="1.15"/>
<line x1="383.24" y1="565.71" x2="386.24" y2="565.71" stroke="#b0443f" stroke-width="1.15"/>
<line x1="383.24" y1="616.01" x2="386.24" y2="616.01" stroke="#b0443f" stroke-width="1.15"/>
<line x1="388.45" y1="616.38" x2="388.45" y2="566.05" stroke="#b0443f" stroke-width="1.15"/>
<line x1="386.95" y1="566.05" x2="389.95" y2="566.05" stroke="#b0443f" stroke-width="1.15"/>
<line x1="386.95" y1="616.38" x2="389.95" y2="616.38" stroke="#b0443f" stroke-width="1.15"/>
<line x1="392.16" y1="616.74" x2="392.16" y2="566.40" stroke="#b0443f" stroke-width="1.15"/>
<line x1="390.66" y1="566.40" x2="393.66" y2="566.40" stroke="#b0443f" stroke-width="1.15"/>
<line x1="390.66" y1="616.74" x2="393.66" y2="616.74" stroke="#b0443f" stroke-width="1.15"/>
<line x1="395.87" y1="617.10" x2="395.87" y2="566.74" stroke="#b0443f" stroke-width="1.15"/>
<line x1="394.37" y1="566.74" x2="397.37" y2="566.74" stroke="#b0443f" stroke-width="1.15"/>
<line x1="394.37" y1="617.10" x2="397.37" y2="617.10" stroke="#b0443f" stroke-width="1.15"/>
<line x1="399.58" y1="617.46" x2="399.58" y2="567.08" stroke="#b0443f" stroke-width="1.15"/>
<line x1="398.08" y1="567.08" x2="401.08" y2="567.08" stroke="#b0443f" stroke-width="1.15"/>
<line x1="398.08" y1="617.46" x2="401.08" y2="617.46" stroke="#b0443f" stroke-width="1.15"/>
<line x1="403.29" y1="617.82" x2="403.29" y2="567.43" stroke="#b0443f" stroke-width="1.15"/>
<line x1="401.79" y1="567.43" x2="404.79" y2="567.43" stroke="#b0443f" stroke-width="1.15"/>
<line x1="401.79" y1="617.82" x2="404.79" y2="617.82" stroke="#b0443f" stroke-width="1.15"/>
<line x1="407.00" y1="618.18" x2="407.00" y2="567.77" stroke="#b0443f" stroke-width="1.15"/>
<line x1="405.50" y1="567.77" x2="408.50" y2="567.77" stroke="#b0443f" stroke-width="1.15"/>
<line x1="405.50" y1="618.18" x2="408.50" y2="618.18" stroke="#b0443f" stroke-width="1.15"/>
<path d="M73.10,595.46 L76.81,588.79 L80.52,582.71 L84.23,576.45 L87.94,572.48 L91.65,588.68 L95.36,586.78 L99.07,584.68 L102.78,581.65 L106.49,578.52 L110.20,582.68 L113.91,585.92 L117.62,581.62 L121.33,578.61 L125.04,587.52 L128.75,583.68 L132.46,579.94 L136.17,577.71 L139.88,580.58 L143.59,584.67 L147.30,580.62 L151.01,576.86 L154.72,577.91 L158.43,579.12 L162.14,576.86 L165.85,577.89 L169.56,577.49 L173.27,577.90 L176.98,584.90 L180.69,582.67 L184.40,583.89 L188.11,586.79 L191.82,587.39 L195.53,585.75 L199.24,583.91 L202.95,585.73 L206.66,588.43 L210.37,587.40 L214.08,587.40 L217.79,586.78 L221.50,584.84 L225.21,576.94 L228.92,576.45 L232.63,574.61 L236.34,576.43 L240.05,577.90 L243.76,582.69 L247.47,587.35 L251.18,586.78 L254.89,586.26 L258.60,586.24 L262.31,586.34 L266.02,586.29 L269.73,586.18 L273.44,586.07 L277.15,585.96 L280.86,585.86 L284.57,585.75 L288.28,585.46 L291.99,585.17 L295.70,584.89 L299.41,584.61 L303.12,584.34 L306.83,584.08 L310.54,583.81 L314.25,583.94 L317.96,584.45 L321.67,584.96 L325.38,585.47 L329.09,585.98 L332.80,586.49 L336.51,587.00 L340.22,587.51 L343.93,587.96 L347.64,588.33 L351.35,588.70 L355.06,589.07 L358.77,589.44 L362.48,589.82 L366.19,590.19 L369.90,590.56 L373.61,590.89 L377.32,591.19 L381.03,591.49 L384.74,591.79 L388.45,592.09 L392.16,592.39 L395.87,592.69 L399.58,593.00 L403.29,593.30 L407.00,593.60" fill="none" stroke="#b8423d" stroke-width="5.0" stroke-linejoin="round"/>
<rect x="70.20" y="592.56" width="5.8" height="5.8" fill="#b8423d"/>
<rect x="73.91" y="585.89" width="5.8" height="5.8" fill="#b8423d"/>
<rect x="77.62" y="579.81" width="5.8" height="5.8" fill="#b8423d"/>
<rect x="81.33" y="573.55" width="5.8" height="5.8" fill="#b8423d"/>
<rect x="85.04" y="569.58" width="5.8" height="5.8" fill="#b8423d"/>
<rect x="88.75" y="585.78" width="5.8" height="5.8" fill="#b8423d"/>
<rect x="92.46" y="583.88" width="5.8" height="5.8" fill="#b8423d"/>
<rect x="96.17" y="581.78" width="5.8" height="5.8" fill="#b8423d"/>
<rect x="99.88" y="578.75" width="5.8" height="5.8" fill="#b8423d"/>
<rect x="103.59" y="575.62" width="5.8" height="5.8" fill="#b8423d"/>
<rect x="107.30" y="579.78" width="5.8" height="5.8" fill="#b8423d"/>
<rect x="111.01" y="583.02" width="5.8" height="5.8" fill="#b8423d"/>
<rect x="114.72" y="578.72" width="5.8" height="5.8" fill="#b8423d"/>
<rect x="118.43" y="575.71" width="5.8" height="5.8" fill="#b8423d"/>
<rect x="122.14" y="584.62" width="5.8" height="5.8" fill="#b8423d"/>
<rect x="125.85" y="580.78" width="5.8" height="5.8" fill="#b8423d"/>
<rect x="129.56" y="577.04" width="5.8" height="5.8" fill="#b8423d"/>
<rect x="133.27" y="574.81" width="5.8" height="5.8" fill="#b8423d"/>
<rect x="136.98" y="577.68" width="5.8" height="5.8" fill="#b8423d"/>
<rect x="140.69" y="581.77" width="5.8" height="5.8" fill="#b8423d"/>
<rect x="144.40" y="577.72" width="5.8" height="5.8" fill="#b8423d"/>
<rect x="148.11" y="573.96" width="5.8" height="5.8" fill="#b8423d"/>
<rect x="151.82" y="575.01" width="5.8" height="5.8" fill="#b8423d"/>
<rect x="155.53" y="576.22" width="5.8" height="5.8" fill="#b8423d"/>
<rect x="159.24" y="573.96" width="5.8" height="5.8" fill="#b8423d"/>
<rect x="162.95" y="574.99" width="5.8" height="5.8" fill="#b8423d"/>
<rect x="166.66" y="574.59" width="5.8" height="5.8" fill="#b8423d"/>
<rect x="170.37" y="575.00" width="5.8" height="5.8" fill="#b8423d"/>
<rect x="174.08" y="582.00" width="5.8" height="5.8" fill="#b8423d"/>
<rect x="177.79" y="579.77" width="5.8" height="5.8" fill="#b8423d"/>
<rect x="181.50" y="580.99" width="5.8" height="5.8" fill="#b8423d"/>
<rect x="185.21" y="583.89" width="5.8" height="5.8" fill="#b8423d"/>
<rect x="188.92" y="584.49" width="5.8" height="5.8" fill="#b8423d"/>
<rect x="192.63" y="582.85" width="5.8" height="5.8" fill="#b8423d"/>
<rect x="196.34" y="581.01" width="5.8" height="5.8" fill="#b8423d"/>
<rect x="200.05" y="582.83" width="5.8" height="5.8" fill="#b8423d"/>
<rect x="203.76" y="585.53" width="5.8" height="5.8" fill="#b8423d"/>
<rect x="207.47" y="584.50" width="5.8" height="5.8" fill="#b8423d"/>
<rect x="211.18" y="584.50" width="5.8" height="5.8" fill="#b8423d"/>
<rect x="214.89" y="583.88" width="5.8" height="5.8" fill="#b8423d"/>
<rect x="218.60" y="581.94" width="5.8" height="5.8" fill="#b8423d"/>
<rect x="222.31" y="574.04" width="5.8" height="5.8" fill="#b8423d"/>
<rect x="226.02" y="573.55" width="5.8" height="5.8" fill="#b8423d"/>
<rect x="229.73" y="571.71" width="5.8" height="5.8" fill="#b8423d"/>
<rect x="233.44" y="573.53" width="5.8" height="5.8" fill="#b8423d"/>
<rect x="237.15" y="575.00" width="5.8" height="5.8" fill="#b8423d"/>
<rect x="240.86" y="579.79" width="5.8" height="5.8" fill="#b8423d"/>
<rect x="244.57" y="584.45" width="5.8" height="5.8" fill="#b8423d"/>
<rect x="248.28" y="583.88" width="5.8" height="5.8" fill="#b8423d"/>
<rect x="251.99" y="583.36" width="5.8" height="5.8" fill="#b8423d"/>
<rect x="255.70" y="583.34" width="5.8" height="5.8" fill="#b8423d"/>
<rect x="259.41" y="583.44" width="5.8" height="5.8" fill="#b8423d"/>
<rect x="263.12" y="583.39" width="5.8" height="5.8" fill="#b8423d"/>
<rect x="266.83" y="583.28" width="5.8" height="5.8" fill="#b8423d"/>
<rect x="270.54" y="583.17" width="5.8" height="5.8" fill="#b8423d"/>
<rect x="274.25" y="583.06" width="5.8" height="5.8" fill="#b8423d"/>
<rect x="277.96" y="582.96" width="5.8" height="5.8" fill="#b8423d"/>
<rect x="281.67" y="582.85" width="5.8" height="5.8" fill="#b8423d"/>
<rect x="285.38" y="582.56" width="5.8" height="5.8" fill="#b8423d"/>
<rect x="289.09" y="582.27" width="5.8" height="5.8" fill="#b8423d"/>
<rect x="292.80" y="581.99" width="5.8" height="5.8" fill="#b8423d"/>
<rect x="296.51" y="581.71" width="5.8" height="5.8" fill="#b8423d"/>
<rect x="300.22" y="581.44" width="5.8" height="5.8" fill="#b8423d"/>
<rect x="303.93" y="581.18" width="5.8" height="5.8" fill="#b8423d"/>
<rect x="307.64" y="580.91" width="5.8" height="5.8" fill="#b8423d"/>
<rect x="311.35" y="581.04" width="5.8" height="5.8" fill="#b8423d"/>
<rect x="315.06" y="581.55" width="5.8" height="5.8" fill="#b8423d"/>
<rect x="318.77" y="582.06" width="5.8" height="5.8" fill="#b8423d"/>
<rect x="322.48" y="582.57" width="5.8" height="5.8" fill="#b8423d"/>
<rect x="326.19" y="583.08" width="5.8" height="5.8" fill="#b8423d"/>
<rect x="329.90" y="583.59" width="5.8" height="5.8" fill="#b8423d"/>
<rect x="333.61" y="584.10" width="5.8" height="5.8" fill="#b8423d"/>
<rect x="337.32" y="584.61" width="5.8" height="5.8" fill="#b8423d"/>
<rect x="341.03" y="585.06" width="5.8" height="5.8" fill="#b8423d"/>
<rect x="344.74" y="585.43" width="5.8" height="5.8" fill="#b8423d"/>
<rect x="348.45" y="585.80" width="5.8" height="5.8" fill="#b8423d"/>
<rect x="352.16" y="586.17" width="5.8" height="5.8" fill="#b8423d"/>
<rect x="355.87" y="586.54" width="5.8" height="5.8" fill="#b8423d"/>
<rect x="359.58" y="586.92" width="5.8" height="5.8" fill="#b8423d"/>
<rect x="363.29" y="587.29" width="5.8" height="5.8" fill="#b8423d"/>
<rect x="367.00" y="587.66" width="5.8" height="5.8" fill="#b8423d"/>
<rect x="370.71" y="587.99" width="5.8" height="5.8" fill="#b8423d"/>
<rect x="374.42" y="588.29" width="5.8" height="5.8" fill="#b8423d"/>
<rect x="378.13" y="588.59" width="5.8" height="5.8" fill="#b8423d"/>
<rect x="381.84" y="588.89" width="5.8" height="5.8" fill="#b8423d"/>
<rect x="385.55" y="589.19" width="5.8" height="5.8" fill="#b8423d"/>
<rect x="389.26" y="589.49" width="5.8" height="5.8" fill="#b8423d"/>
<rect x="392.97" y="589.79" width="5.8" height="5.8" fill="#b8423d"/>
<rect x="396.68" y="590.10" width="5.8" height="5.8" fill="#b8423d"/>
<rect x="400.39" y="590.40" width="5.8" height="5.8" fill="#b8423d"/>
<rect x="404.10" y="590.70" width="5.8" height="5.8" fill="#b8423d"/>
<line x1="73.10" y1="610.54" x2="73.10" y2="603.31" stroke="#9fb866" stroke-width="1.0"/>
<line x1="71.60" y1="603.31" x2="74.60" y2="603.31" stroke="#9fb866" stroke-width="1.0"/>
<line x1="71.60" y1="610.54" x2="74.60" y2="610.54" stroke="#9fb866" stroke-width="1.0"/>
<line x1="76.81" y1="610.54" x2="76.81" y2="603.25" stroke="#9fb866" stroke-width="1.0"/>
<line x1="75.31" y1="603.25" x2="78.31" y2="603.25" stroke="#9fb866" stroke-width="1.0"/>
<line x1="75.31" y1="610.54" x2="78.31" y2="610.54" stroke="#9fb866" stroke-width="1.0"/>
<line x1="80.52" y1="610.54" x2="80.52" y2="603.19" stroke="#9fb866" stroke-width="1.0"/>
<line x1="79.02" y1="603.19" x2="82.02" y2="603.19" stroke="#9fb866" stroke-width="1.0"/>
<line x1="79.02" y1="610.54" x2="82.02" y2="610.54" stroke="#9fb866" stroke-width="1.0"/>
<line x1="84.23" y1="610.54" x2="84.23" y2="603.14" stroke="#9fb866" stroke-width="1.0"/>
<line x1="82.73" y1="603.14" x2="85.73" y2="603.14" stroke="#9fb866" stroke-width="1.0"/>
<line x1="82.73" y1="610.54" x2="85.73" y2="610.54" stroke="#9fb866" stroke-width="1.0"/>
<line x1="87.94" y1="610.54" x2="87.94" y2="603.08" stroke="#9fb866" stroke-width="1.0"/>
<line x1="86.44" y1="603.08" x2="89.44" y2="603.08" stroke="#9fb866" stroke-width="1.0"/>
<line x1="86.44" y1="610.54" x2="89.44" y2="610.54" stroke="#9fb866" stroke-width="1.0"/>
<line x1="91.65" y1="610.54" x2="91.65" y2="603.02" stroke="#9fb866" stroke-width="1.0"/>
<line x1="90.15" y1="603.02" x2="93.15" y2="603.02" stroke="#9fb866" stroke-width="1.0"/>
<line x1="90.15" y1="610.54" x2="93.15" y2="610.54" stroke="#9fb866" stroke-width="1.0"/>
<line x1="95.36" y1="610.54" x2="95.36" y2="602.96" stroke="#9fb866" stroke-width="1.0"/>
<line x1="93.86" y1="602.96" x2="96.86" y2="602.96" stroke="#9fb866" stroke-width="1.0"/>
<line x1="93.86" y1="610.54" x2="96.86" y2="610.54" stroke="#9fb866" stroke-width="1.0"/>
<line x1="99.07" y1="610.54" x2="99.07" y2="602.91" stroke="#9fb866" stroke-width="1.0"/>
<line x1="97.57" y1="602.91" x2="100.57" y2="602.91" stroke="#9fb866" stroke-width="1.0"/>
<line x1="97.57" y1="610.54" x2="100.57" y2="610.54" stroke="#9fb866" stroke-width="1.0"/>
<line x1="102.78" y1="610.54" x2="102.78" y2="602.85" stroke="#9fb866" stroke-width="1.0"/>
<line x1="101.28" y1="602.85" x2="104.28" y2="602.85" stroke="#9fb866" stroke-width="1.0"/>
<line x1="101.28" y1="610.54" x2="104.28" y2="610.54" stroke="#9fb866" stroke-width="1.0"/>
<line x1="106.49" y1="610.54" x2="106.49" y2="602.79" stroke="#9fb866" stroke-width="1.0"/>
<line x1="104.99" y1="602.79" x2="107.99" y2="602.79" stroke="#9fb866" stroke-width="1.0"/>
<line x1="104.99" y1="610.54" x2="107.99" y2="610.54" stroke="#9fb866" stroke-width="1.0"/>
<line x1="110.20" y1="610.54" x2="110.20" y2="602.73" stroke="#9fb866" stroke-width="1.0"/>
<line x1="108.70" y1="602.73" x2="111.70" y2="602.73" stroke="#9fb866" stroke-width="1.0"/>
<line x1="108.70" y1="610.54" x2="111.70" y2="610.54" stroke="#9fb866" stroke-width="1.0"/>
<line x1="113.91" y1="610.54" x2="113.91" y2="602.68" stroke="#9fb866" stroke-width="1.0"/>
<line x1="112.41" y1="602.68" x2="115.41" y2="602.68" stroke="#9fb866" stroke-width="1.0"/>
<line x1="112.41" y1="610.54" x2="115.41" y2="610.54" stroke="#9fb866" stroke-width="1.0"/>
<line x1="117.62" y1="610.54" x2="117.62" y2="602.62" stroke="#9fb866" stroke-width="1.0"/>
<line x1="116.12" y1="602.62" x2="119.12" y2="602.62" stroke="#9fb866" stroke-width="1.0"/>
<line x1="116.12" y1="610.54" x2="119.12" y2="610.54" stroke="#9fb866" stroke-width="1.0"/>
<line x1="121.33" y1="610.54" x2="121.33" y2="602.56" stroke="#9fb866" stroke-width="1.0"/>
<line x1="119.83" y1="602.56" x2="122.83" y2="602.56" stroke="#9fb866" stroke-width="1.0"/>
<line x1="119.83" y1="610.54" x2="122.83" y2="610.54" stroke="#9fb866" stroke-width="1.0"/>
<line x1="125.04" y1="610.54" x2="125.04" y2="602.50" stroke="#9fb866" stroke-width="1.0"/>
<line x1="123.54" y1="602.50" x2="126.54" y2="602.50" stroke="#9fb866" stroke-width="1.0"/>
<line x1="123.54" y1="610.54" x2="126.54" y2="610.54" stroke="#9fb866" stroke-width="1.0"/>
<line x1="128.75" y1="610.54" x2="128.75" y2="602.45" stroke="#9fb866" stroke-width="1.0"/>
<line x1="127.25" y1="602.45" x2="130.25" y2="602.45" stroke="#9fb866" stroke-width="1.0"/>
<line x1="127.25" y1="610.54" x2="130.25" y2="610.54" stroke="#9fb866" stroke-width="1.0"/>
<line x1="132.46" y1="610.54" x2="132.46" y2="602.39" stroke="#9fb866" stroke-width="1.0"/>
<line x1="130.96" y1="602.39" x2="133.96" y2="602.39" stroke="#9fb866" stroke-width="1.0"/>
<line x1="130.96" y1="610.54" x2="133.96" y2="610.54" stroke="#9fb866" stroke-width="1.0"/>
<line x1="136.17" y1="610.54" x2="136.17" y2="602.33" stroke="#9fb866" stroke-width="1.0"/>
<line x1="134.67" y1="602.33" x2="137.67" y2="602.33" stroke="#9fb866" stroke-width="1.0"/>
<line x1="134.67" y1="610.54" x2="137.67" y2="610.54" stroke="#9fb866" stroke-width="1.0"/>
<line x1="139.88" y1="610.54" x2="139.88" y2="602.27" stroke="#9fb866" stroke-width="1.0"/>
<line x1="138.38" y1="602.27" x2="141.38" y2="602.27" stroke="#9fb866" stroke-width="1.0"/>
<line x1="138.38" y1="610.54" x2="141.38" y2="610.54" stroke="#9fb866" stroke-width="1.0"/>
<line x1="143.59" y1="610.71" x2="143.59" y2="601.41" stroke="#9fb866" stroke-width="1.0"/>
<line x1="142.09" y1="601.41" x2="145.09" y2="601.41" stroke="#9fb866" stroke-width="1.0"/>
<line x1="142.09" y1="610.71" x2="145.09" y2="610.71" stroke="#9fb866" stroke-width="1.0"/>
<line x1="147.30" y1="610.88" x2="147.30" y2="600.55" stroke="#9fb866" stroke-width="1.0"/>
<line x1="145.80" y1="600.55" x2="148.80" y2="600.55" stroke="#9fb866" stroke-width="1.0"/>
<line x1="145.80" y1="610.88" x2="148.80" y2="610.88" stroke="#9fb866" stroke-width="1.0"/>
<line x1="151.01" y1="611.06" x2="151.01" y2="599.69" stroke="#9fb866" stroke-width="1.0"/>
<line x1="149.51" y1="599.69" x2="152.51" y2="599.69" stroke="#9fb866" stroke-width="1.0"/>
<line x1="149.51" y1="611.06" x2="152.51" y2="611.06" stroke="#9fb866" stroke-width="1.0"/>
<line x1="154.72" y1="611.23" x2="154.72" y2="598.83" stroke="#9fb866" stroke-width="1.0"/>
<line x1="153.22" y1="598.83" x2="156.22" y2="598.83" stroke="#9fb866" stroke-width="1.0"/>
<line x1="153.22" y1="611.23" x2="156.22" y2="611.23" stroke="#9fb866" stroke-width="1.0"/>
<line x1="158.43" y1="611.40" x2="158.43" y2="597.97" stroke="#9fb866" stroke-width="1.0"/>
<line x1="156.93" y1="597.97" x2="159.93" y2="597.97" stroke="#9fb866" stroke-width="1.0"/>
<line x1="156.93" y1="611.40" x2="159.93" y2="611.40" stroke="#9fb866" stroke-width="1.0"/>
<line x1="162.14" y1="611.57" x2="162.14" y2="597.11" stroke="#9fb866" stroke-width="1.0"/>
<line x1="160.64" y1="597.11" x2="163.64" y2="597.11" stroke="#9fb866" stroke-width="1.0"/>
<line x1="160.64" y1="611.57" x2="163.64" y2="611.57" stroke="#9fb866" stroke-width="1.0"/>
<line x1="165.85" y1="610.88" x2="165.85" y2="595.04" stroke="#9fb866" stroke-width="1.0"/>
<line x1="164.35" y1="595.04" x2="167.35" y2="595.04" stroke="#9fb866" stroke-width="1.0"/>
<line x1="164.35" y1="610.88" x2="167.35" y2="610.88" stroke="#9fb866" stroke-width="1.0"/>
<line x1="169.56" y1="610.19" x2="169.56" y2="592.98" stroke="#9fb866" stroke-width="1.0"/>
<line x1="168.06" y1="592.98" x2="171.06" y2="592.98" stroke="#9fb866" stroke-width="1.0"/>
<line x1="168.06" y1="610.19" x2="171.06" y2="610.19" stroke="#9fb866" stroke-width="1.0"/>
<line x1="173.27" y1="609.51" x2="173.27" y2="590.91" stroke="#9fb866" stroke-width="1.0"/>
<line x1="171.77" y1="590.91" x2="174.77" y2="590.91" stroke="#9fb866" stroke-width="1.0"/>
<line x1="171.77" y1="609.51" x2="174.77" y2="609.51" stroke="#9fb866" stroke-width="1.0"/>
<line x1="176.98" y1="608.47" x2="176.98" y2="589.19" stroke="#9fb866" stroke-width="1.0"/>
<line x1="175.48" y1="589.19" x2="178.48" y2="589.19" stroke="#9fb866" stroke-width="1.0"/>
<line x1="175.48" y1="608.47" x2="178.48" y2="608.47" stroke="#9fb866" stroke-width="1.0"/>
<line x1="180.69" y1="607.44" x2="180.69" y2="587.47" stroke="#9fb866" stroke-width="1.0"/>
<line x1="179.19" y1="587.47" x2="182.19" y2="587.47" stroke="#9fb866" stroke-width="1.0"/>
<line x1="179.19" y1="607.44" x2="182.19" y2="607.44" stroke="#9fb866" stroke-width="1.0"/>
<line x1="184.40" y1="606.41" x2="184.40" y2="585.75" stroke="#9fb866" stroke-width="1.0"/>
<line x1="182.90" y1="585.75" x2="185.90" y2="585.75" stroke="#9fb866" stroke-width="1.0"/>
<line x1="182.90" y1="606.41" x2="185.90" y2="606.41" stroke="#9fb866" stroke-width="1.0"/>
<line x1="188.11" y1="605.37" x2="188.11" y2="584.03" stroke="#9fb866" stroke-width="1.0"/>
<line x1="186.61" y1="584.03" x2="189.61" y2="584.03" stroke="#9fb866" stroke-width="1.0"/>
<line x1="186.61" y1="605.37" x2="189.61" y2="605.37" stroke="#9fb866" stroke-width="1.0"/>
<line x1="191.82" y1="604.34" x2="191.82" y2="582.30" stroke="#9fb866" stroke-width="1.0"/>
<line x1="190.32" y1="582.30" x2="193.32" y2="582.30" stroke="#9fb866" stroke-width="1.0"/>
<line x1="190.32" y1="604.34" x2="193.32" y2="604.34" stroke="#9fb866" stroke-width="1.0"/>
<line x1="195.53" y1="603.31" x2="195.53" y2="580.58" stroke="#9fb866" stroke-width="1.0"/>
<line x1="194.03" y1="580.58" x2="197.03" y2="580.58" stroke="#9fb866" stroke-width="1.0"/>
<line x1="194.03" y1="603.31" x2="197.03" y2="603.31" stroke="#9fb866" stroke-width="1.0"/>
<line x1="199.24" y1="602.62" x2="199.24" y2="578.17" stroke="#9fb866" stroke-width="1.0"/>
<line x1="197.74" y1="578.17" x2="200.74" y2="578.17" stroke="#9fb866" stroke-width="1.0"/>
<line x1="197.74" y1="602.62" x2="200.74" y2="602.62" stroke="#9fb866" stroke-width="1.0"/>
<line x1="202.95" y1="601.93" x2="202.95" y2="575.76" stroke="#9fb866" stroke-width="1.0"/>
<line x1="201.45" y1="575.76" x2="204.45" y2="575.76" stroke="#9fb866" stroke-width="1.0"/>
<line x1="201.45" y1="601.93" x2="204.45" y2="601.93" stroke="#9fb866" stroke-width="1.0"/>
<line x1="206.66" y1="601.24" x2="206.66" y2="573.35" stroke="#9fb866" stroke-width="1.0"/>
<line x1="205.16" y1="573.35" x2="208.16" y2="573.35" stroke="#9fb866" stroke-width="1.0"/>
<line x1="205.16" y1="601.24" x2="208.16" y2="601.24" stroke="#9fb866" stroke-width="1.0"/>
<line x1="210.37" y1="600.55" x2="210.37" y2="570.94" stroke="#9fb866" stroke-width="1.0"/>
<line x1="208.87" y1="570.94" x2="211.87" y2="570.94" stroke="#9fb866" stroke-width="1.0"/>
<line x1="208.87" y1="600.55" x2="211.87" y2="600.55" stroke="#9fb866" stroke-width="1.0"/>
<line x1="214.08" y1="599.86" x2="214.08" y2="568.53" stroke="#9fb866" stroke-width="1.0"/>
<line x1="212.58" y1="568.53" x2="215.58" y2="568.53" stroke="#9fb866" stroke-width="1.0"/>
<line x1="212.58" y1="599.86" x2="215.58" y2="599.86" stroke="#9fb866" stroke-width="1.0"/>
<line x1="217.79" y1="599.18" x2="217.79" y2="566.12" stroke="#9fb866" stroke-width="1.0"/>
<line x1="216.29" y1="566.12" x2="219.29" y2="566.12" stroke="#9fb866" stroke-width="1.0"/>
<line x1="216.29" y1="599.18" x2="219.29" y2="599.18" stroke="#9fb866" stroke-width="1.0"/>
<line x1="221.50" y1="603.77" x2="221.50" y2="559.23" stroke="#9fb866" stroke-width="1.0"/>
<line x1="220.00" y1="559.23" x2="223.00" y2="559.23" stroke="#9fb866" stroke-width="1.0"/>
<line x1="220.00" y1="603.77" x2="223.00" y2="603.77" stroke="#9fb866" stroke-width="1.0"/>
<line x1="225.21" y1="606.06" x2="225.21" y2="545.00" stroke="#9fb866" stroke-width="1.0"/>
<line x1="223.71" y1="545.00" x2="226.71" y2="545.00" stroke="#9fb866" stroke-width="1.0"/>
<line x1="223.71" y1="606.06" x2="226.71" y2="606.06" stroke="#9fb866" stroke-width="1.0"/>
<line x1="228.92" y1="599.18" x2="228.92" y2="558.68" stroke="#9fb866" stroke-width="1.0"/>
<line x1="227.42" y1="558.68" x2="230.42" y2="558.68" stroke="#9fb866" stroke-width="1.0"/>
<line x1="227.42" y1="599.18" x2="230.42" y2="599.18" stroke="#9fb866" stroke-width="1.0"/>
<line x1="232.63" y1="598.95" x2="232.63" y2="561.44" stroke="#9fb866" stroke-width="1.0"/>
<line x1="231.13" y1="561.44" x2="234.13" y2="561.44" stroke="#9fb866" stroke-width="1.0"/>
<line x1="231.13" y1="598.95" x2="234.13" y2="598.95" stroke="#9fb866" stroke-width="1.0"/>
<line x1="236.34" y1="598.72" x2="236.34" y2="562.41" stroke="#9fb866" stroke-width="1.0"/>
<line x1="234.84" y1="562.41" x2="237.84" y2="562.41" stroke="#9fb866" stroke-width="1.0"/>
<line x1="234.84" y1="598.72" x2="237.84" y2="598.72" stroke="#9fb866" stroke-width="1.0"/>
<line x1="240.05" y1="598.49" x2="240.05" y2="562.94" stroke="#9fb866" stroke-width="1.0"/>
<line x1="238.55" y1="562.94" x2="241.55" y2="562.94" stroke="#9fb866" stroke-width="1.0"/>
<line x1="238.55" y1="598.49" x2="241.55" y2="598.49" stroke="#9fb866" stroke-width="1.0"/>
<line x1="243.76" y1="598.26" x2="243.76" y2="563.47" stroke="#9fb866" stroke-width="1.0"/>
<line x1="242.26" y1="563.47" x2="245.26" y2="563.47" stroke="#9fb866" stroke-width="1.0"/>
<line x1="242.26" y1="598.26" x2="245.26" y2="598.26" stroke="#9fb866" stroke-width="1.0"/>
<line x1="247.47" y1="598.03" x2="247.47" y2="564.00" stroke="#9fb866" stroke-width="1.0"/>
<line x1="245.97" y1="564.00" x2="248.97" y2="564.00" stroke="#9fb866" stroke-width="1.0"/>
<line x1="245.97" y1="598.03" x2="248.97" y2="598.03" stroke="#9fb866" stroke-width="1.0"/>
<line x1="251.18" y1="597.80" x2="251.18" y2="564.53" stroke="#9fb866" stroke-width="1.0"/>
<line x1="249.68" y1="564.53" x2="252.68" y2="564.53" stroke="#9fb866" stroke-width="1.0"/>
<line x1="249.68" y1="597.80" x2="252.68" y2="597.80" stroke="#9fb866" stroke-width="1.0"/>
<line x1="254.89" y1="597.57" x2="254.89" y2="565.06" stroke="#9fb866" stroke-width="1.0"/>
<line x1="253.39" y1="565.06" x2="256.39" y2="565.06" stroke="#9fb866" stroke-width="1.0"/>
<line x1="253.39" y1="597.57" x2="256.39" y2="597.57" stroke="#9fb866" stroke-width="1.0"/>
<line x1="258.60" y1="597.34" x2="258.60" y2="565.59" stroke="#9fb866" stroke-width="1.0"/>
<line x1="257.10" y1="565.59" x2="260.10" y2="565.59" stroke="#9fb866" stroke-width="1.0"/>
<line x1="257.10" y1="597.34" x2="260.10" y2="597.34" stroke="#9fb866" stroke-width="1.0"/>
<line x1="262.31" y1="597.11" x2="262.31" y2="566.12" stroke="#9fb866" stroke-width="1.0"/>
<line x1="260.81" y1="566.12" x2="263.81" y2="566.12" stroke="#9fb866" stroke-width="1.0"/>
<line x1="260.81" y1="597.11" x2="263.81" y2="597.11" stroke="#9fb866" stroke-width="1.0"/>
<line x1="266.02" y1="596.79" x2="266.02" y2="565.89" stroke="#9fb866" stroke-width="1.0"/>
<line x1="264.52" y1="565.89" x2="267.52" y2="565.89" stroke="#9fb866" stroke-width="1.0"/>
<line x1="264.52" y1="596.79" x2="267.52" y2="596.79" stroke="#9fb866" stroke-width="1.0"/>
<line x1="269.73" y1="596.48" x2="269.73" y2="565.66" stroke="#9fb866" stroke-width="1.0"/>
<line x1="268.23" y1="565.66" x2="271.23" y2="565.66" stroke="#9fb866" stroke-width="1.0"/>
<line x1="268.23" y1="596.48" x2="271.23" y2="596.48" stroke="#9fb866" stroke-width="1.0"/>
<line x1="273.44" y1="596.16" x2="273.44" y2="565.43" stroke="#9fb866" stroke-width="1.0"/>
<line x1="271.94" y1="565.43" x2="274.94" y2="565.43" stroke="#9fb866" stroke-width="1.0"/>
<line x1="271.94" y1="596.16" x2="274.94" y2="596.16" stroke="#9fb866" stroke-width="1.0"/>
<line x1="277.15" y1="595.84" x2="277.15" y2="565.20" stroke="#9fb866" stroke-width="1.0"/>
<line x1="275.65" y1="565.20" x2="278.65" y2="565.20" stroke="#9fb866" stroke-width="1.0"/>
<line x1="275.65" y1="595.84" x2="278.65" y2="595.84" stroke="#9fb866" stroke-width="1.0"/>
<line x1="280.86" y1="595.53" x2="280.86" y2="564.97" stroke="#9fb866" stroke-width="1.0"/>
<line x1="279.36" y1="564.97" x2="282.36" y2="564.97" stroke="#9fb866" stroke-width="1.0"/>
<line x1="279.36" y1="595.53" x2="282.36" y2="595.53" stroke="#9fb866" stroke-width="1.0"/>
<line x1="284.57" y1="595.21" x2="284.57" y2="564.74" stroke="#9fb866" stroke-width="1.0"/>
<line x1="283.07" y1="564.74" x2="286.07" y2="564.74" stroke="#9fb866" stroke-width="1.0"/>
<line x1="283.07" y1="595.21" x2="286.07" y2="595.21" stroke="#9fb866" stroke-width="1.0"/>
<line x1="288.28" y1="594.90" x2="288.28" y2="564.51" stroke="#9fb866" stroke-width="1.0"/>
<line x1="286.78" y1="564.51" x2="289.78" y2="564.51" stroke="#9fb866" stroke-width="1.0"/>
<line x1="286.78" y1="594.90" x2="289.78" y2="594.90" stroke="#9fb866" stroke-width="1.0"/>
<line x1="291.99" y1="594.58" x2="291.99" y2="564.28" stroke="#9fb866" stroke-width="1.0"/>
<line x1="290.49" y1="564.28" x2="293.49" y2="564.28" stroke="#9fb866" stroke-width="1.0"/>
<line x1="290.49" y1="594.58" x2="293.49" y2="594.58" stroke="#9fb866" stroke-width="1.0"/>
<line x1="295.70" y1="594.26" x2="295.70" y2="564.05" stroke="#9fb866" stroke-width="1.0"/>
<line x1="294.20" y1="564.05" x2="297.20" y2="564.05" stroke="#9fb866" stroke-width="1.0"/>
<line x1="294.20" y1="594.26" x2="297.20" y2="594.26" stroke="#9fb866" stroke-width="1.0"/>
<line x1="299.41" y1="593.95" x2="299.41" y2="563.71" stroke="#9fb866" stroke-width="1.0"/>
<line x1="297.91" y1="563.71" x2="300.91" y2="563.71" stroke="#9fb866" stroke-width="1.0"/>
<line x1="297.91" y1="593.95" x2="300.91" y2="593.95" stroke="#9fb866" stroke-width="1.0"/>
<line x1="303.12" y1="593.63" x2="303.12" y2="563.37" stroke="#9fb866" stroke-width="1.0"/>
<line x1="301.62" y1="563.37" x2="304.62" y2="563.37" stroke="#9fb866" stroke-width="1.0"/>
<line x1="301.62" y1="593.63" x2="304.62" y2="593.63" stroke="#9fb866" stroke-width="1.0"/>
<line x1="306.83" y1="593.93" x2="306.83" y2="563.02" stroke="#9fb866" stroke-width="1.0"/>
<line x1="305.33" y1="563.02" x2="308.33" y2="563.02" stroke="#9fb866" stroke-width="1.0"/>
<line x1="305.33" y1="593.93" x2="308.33" y2="593.93" stroke="#9fb866" stroke-width="1.0"/>
<line x1="310.54" y1="594.30" x2="310.54" y2="562.68" stroke="#9fb866" stroke-width="1.0"/>
<line x1="309.04" y1="562.68" x2="312.04" y2="562.68" stroke="#9fb866" stroke-width="1.0"/>
<line x1="309.04" y1="594.30" x2="312.04" y2="594.30" stroke="#9fb866" stroke-width="1.0"/>
<line x1="314.25" y1="594.67" x2="314.25" y2="562.33" stroke="#9fb866" stroke-width="1.0"/>
<line x1="312.75" y1="562.33" x2="315.75" y2="562.33" stroke="#9fb866" stroke-width="1.0"/>
<line x1="312.75" y1="594.67" x2="315.75" y2="594.67" stroke="#9fb866" stroke-width="1.0"/>
<line x1="317.96" y1="595.04" x2="317.96" y2="561.99" stroke="#9fb866" stroke-width="1.0"/>
<line x1="316.46" y1="561.99" x2="319.46" y2="561.99" stroke="#9fb866" stroke-width="1.0"/>
<line x1="316.46" y1="595.04" x2="319.46" y2="595.04" stroke="#9fb866" stroke-width="1.0"/>
<line x1="321.67" y1="595.41" x2="321.67" y2="561.64" stroke="#9fb866" stroke-width="1.0"/>
<line x1="320.17" y1="561.64" x2="323.17" y2="561.64" stroke="#9fb866" stroke-width="1.0"/>
<line x1="320.17" y1="595.41" x2="323.17" y2="595.41" stroke="#9fb866" stroke-width="1.0"/>
<line x1="325.38" y1="595.79" x2="325.38" y2="561.30" stroke="#9fb866" stroke-width="1.0"/>
<line x1="323.88" y1="561.30" x2="326.88" y2="561.30" stroke="#9fb866" stroke-width="1.0"/>
<line x1="323.88" y1="595.79" x2="326.88" y2="595.79" stroke="#9fb866" stroke-width="1.0"/>
<line x1="329.09" y1="596.16" x2="329.09" y2="560.96" stroke="#9fb866" stroke-width="1.0"/>
<line x1="327.59" y1="560.96" x2="330.59" y2="560.96" stroke="#9fb866" stroke-width="1.0"/>
<line x1="327.59" y1="596.16" x2="330.59" y2="596.16" stroke="#9fb866" stroke-width="1.0"/>
<line x1="332.80" y1="596.25" x2="332.80" y2="560.61" stroke="#9fb866" stroke-width="1.0"/>
<line x1="331.30" y1="560.61" x2="334.30" y2="560.61" stroke="#9fb866" stroke-width="1.0"/>
<line x1="331.30" y1="596.25" x2="334.30" y2="596.25" stroke="#9fb866" stroke-width="1.0"/>
<line x1="336.51" y1="593.84" x2="336.51" y2="560.27" stroke="#9fb866" stroke-width="1.0"/>
<line x1="335.01" y1="560.27" x2="338.01" y2="560.27" stroke="#9fb866" stroke-width="1.0"/>
<line x1="335.01" y1="593.84" x2="338.01" y2="593.84" stroke="#9fb866" stroke-width="1.0"/>
<line x1="340.22" y1="591.43" x2="340.22" y2="559.92" stroke="#9fb866" stroke-width="1.0"/>
<line x1="338.72" y1="559.92" x2="341.72" y2="559.92" stroke="#9fb866" stroke-width="1.0"/>
<line x1="338.72" y1="591.43" x2="341.72" y2="591.43" stroke="#9fb866" stroke-width="1.0"/>
<line x1="343.93" y1="589.02" x2="343.93" y2="558.60" stroke="#9fb866" stroke-width="1.0"/>
<line x1="342.43" y1="558.60" x2="345.43" y2="558.60" stroke="#9fb866" stroke-width="1.0"/>
<line x1="342.43" y1="589.02" x2="345.43" y2="589.02" stroke="#9fb866" stroke-width="1.0"/>
<line x1="347.64" y1="586.61" x2="347.64" y2="557.27" stroke="#9fb866" stroke-width="1.0"/>
<line x1="346.14" y1="557.27" x2="349.14" y2="557.27" stroke="#9fb866" stroke-width="1.0"/>
<line x1="346.14" y1="586.61" x2="349.14" y2="586.61" stroke="#9fb866" stroke-width="1.0"/>
<line x1="351.35" y1="584.20" x2="351.35" y2="555.95" stroke="#9fb866" stroke-width="1.0"/>
<line x1="349.85" y1="555.95" x2="352.85" y2="555.95" stroke="#9fb866" stroke-width="1.0"/>
<line x1="349.85" y1="584.20" x2="352.85" y2="584.20" stroke="#9fb866" stroke-width="1.0"/>
<line x1="355.06" y1="581.92" x2="355.06" y2="554.53" stroke="#9fb866" stroke-width="1.0"/>
<line x1="353.56" y1="554.53" x2="356.56" y2="554.53" stroke="#9fb866" stroke-width="1.0"/>
<line x1="353.56" y1="581.92" x2="356.56" y2="581.92" stroke="#9fb866" stroke-width="1.0"/>
<line x1="358.77" y1="580.86" x2="358.77" y2="552.31" stroke="#9fb866" stroke-width="1.0"/>
<line x1="357.27" y1="552.31" x2="360.27" y2="552.31" stroke="#9fb866" stroke-width="1.0"/>
<line x1="357.27" y1="580.86" x2="360.27" y2="580.86" stroke="#9fb866" stroke-width="1.0"/>
<line x1="362.48" y1="579.80" x2="362.48" y2="550.08" stroke="#9fb866" stroke-width="1.0"/>
<line x1="360.98" y1="550.08" x2="363.98" y2="550.08" stroke="#9fb866" stroke-width="1.0"/>
<line x1="360.98" y1="579.80" x2="363.98" y2="579.80" stroke="#9fb866" stroke-width="1.0"/>
<line x1="366.19" y1="578.74" x2="366.19" y2="547.86" stroke="#9fb866" stroke-width="1.0"/>
<line x1="364.69" y1="547.86" x2="367.69" y2="547.86" stroke="#9fb866" stroke-width="1.0"/>
<line x1="364.69" y1="578.74" x2="367.69" y2="578.74" stroke="#9fb866" stroke-width="1.0"/>
<line x1="369.90" y1="577.96" x2="369.90" y2="545.92" stroke="#9fb866" stroke-width="1.0"/>
<line x1="368.40" y1="545.92" x2="371.40" y2="545.92" stroke="#9fb866" stroke-width="1.0"/>
<line x1="368.40" y1="577.96" x2="371.40" y2="577.96" stroke="#9fb866" stroke-width="1.0"/>
<line x1="373.61" y1="578.25" x2="373.61" y2="545.12" stroke="#9fb866" stroke-width="1.0"/>
<line x1="372.11" y1="545.12" x2="375.11" y2="545.12" stroke="#9fb866" stroke-width="1.0"/>
<line x1="372.11" y1="578.25" x2="375.11" y2="578.25" stroke="#9fb866" stroke-width="1.0"/>
<line x1="377.32" y1="578.55" x2="377.32" y2="543.43" stroke="#9fb866" stroke-width="1.0"/>
<line x1="375.82" y1="543.43" x2="378.82" y2="543.43" stroke="#9fb866" stroke-width="1.0"/>
<line x1="375.82" y1="578.55" x2="378.82" y2="578.55" stroke="#9fb866" stroke-width="1.0"/>
<line x1="381.03" y1="578.84" x2="381.03" y2="540.42" stroke="#9fb866" stroke-width="1.0"/>
<line x1="379.53" y1="540.42" x2="382.53" y2="540.42" stroke="#9fb866" stroke-width="1.0"/>
<line x1="379.53" y1="578.84" x2="382.53" y2="578.84" stroke="#9fb866" stroke-width="1.0"/>
<line x1="384.74" y1="579.14" x2="384.74" y2="537.40" stroke="#9fb866" stroke-width="1.0"/>
<line x1="383.24" y1="537.40" x2="386.24" y2="537.40" stroke="#9fb866" stroke-width="1.0"/>
<line x1="383.24" y1="579.14" x2="386.24" y2="579.14" stroke="#9fb866" stroke-width="1.0"/>
<line x1="388.45" y1="579.14" x2="388.45" y2="527.95" stroke="#9fb866" stroke-width="1.0"/>
<line x1="386.95" y1="527.95" x2="389.95" y2="527.95" stroke="#9fb866" stroke-width="1.0"/>
<line x1="386.95" y1="579.14" x2="389.95" y2="579.14" stroke="#9fb866" stroke-width="1.0"/>
<line x1="392.16" y1="579.14" x2="392.16" y2="526.03" stroke="#9fb866" stroke-width="1.0"/>
<line x1="390.66" y1="526.03" x2="393.66" y2="526.03" stroke="#9fb866" stroke-width="1.0"/>
<line x1="390.66" y1="579.14" x2="393.66" y2="579.14" stroke="#9fb866" stroke-width="1.0"/>
<line x1="395.87" y1="579.14" x2="395.87" y2="524.97" stroke="#9fb866" stroke-width="1.0"/>
<line x1="394.37" y1="524.97" x2="397.37" y2="524.97" stroke="#9fb866" stroke-width="1.0"/>
<line x1="394.37" y1="579.14" x2="397.37" y2="579.14" stroke="#9fb866" stroke-width="1.0"/>
<line x1="399.58" y1="579.14" x2="399.58" y2="523.84" stroke="#9fb866" stroke-width="1.0"/>
<line x1="398.08" y1="523.84" x2="401.08" y2="523.84" stroke="#9fb866" stroke-width="1.0"/>
<line x1="398.08" y1="579.14" x2="401.08" y2="579.14" stroke="#9fb866" stroke-width="1.0"/>
<line x1="403.29" y1="579.14" x2="403.29" y2="522.46" stroke="#9fb866" stroke-width="1.0"/>
<line x1="401.79" y1="522.46" x2="404.79" y2="522.46" stroke="#9fb866" stroke-width="1.0"/>
<line x1="401.79" y1="579.14" x2="404.79" y2="579.14" stroke="#9fb866" stroke-width="1.0"/>
<line x1="407.00" y1="579.14" x2="407.00" y2="521.49" stroke="#9fb866" stroke-width="1.0"/>
<line x1="405.50" y1="521.49" x2="408.50" y2="521.49" stroke="#9fb866" stroke-width="1.0"/>
<line x1="405.50" y1="579.14" x2="408.50" y2="579.14" stroke="#9fb866" stroke-width="1.0"/>
<path d="M73.10,607.44 L76.81,607.44 L80.52,607.44 L84.23,607.44 L87.94,607.44 L91.65,607.44 L95.36,607.44 L99.07,607.44 L102.78,607.44 L106.49,607.44 L110.20,607.40 L113.91,607.36 L117.62,607.32 L121.33,607.28 L125.04,607.24 L128.75,607.20 L132.46,607.16 L136.17,607.12 L139.88,607.08 L143.59,607.03 L147.30,606.58 L151.01,606.02 L154.72,605.47 L158.43,604.91 L162.14,604.35 L165.85,603.79 L169.56,602.83 L173.27,601.45 L176.98,600.07 L180.69,598.69 L184.40,597.32 L188.11,595.84 L191.82,594.22 L195.53,592.59 L199.24,590.97 L202.95,589.32 L206.66,587.57 L210.37,585.82 L214.08,584.06 L217.79,580.79 L221.50,577.35 L225.21,575.14 L228.92,577.90 L232.63,580.51 L236.34,581.89 L240.05,583.27 L243.76,584.65 L247.47,584.65 L251.18,584.30 L254.89,583.96 L258.60,583.47 L262.31,582.96 L266.02,582.48 L269.73,582.05 L273.44,581.62 L277.15,581.18 L280.86,580.75 L284.57,579.76 L288.28,578.38 L291.99,577.00 L295.70,575.62 L299.41,575.21 L303.12,576.24 L306.83,577.28 L310.54,577.90 L314.25,577.90 L317.96,577.90 L321.67,577.90 L325.38,577.90 L329.09,577.90 L332.80,577.90 L336.51,577.74 L340.22,576.94 L343.93,576.15 L347.64,575.35 L351.35,574.09 L355.06,571.75 L358.77,569.41 L362.48,567.19 L366.19,565.27 L369.90,563.34 L373.61,562.50 L377.32,564.23 L381.03,565.95 L384.74,560.17 L388.45,555.72 L392.16,554.52 L395.87,553.31 L399.58,553.10 L403.29,552.90 L407.00,552.69" fill="none" stroke="#9bbb59" stroke-width="5.8" stroke-linejoin="round"/>
<line x1="455" y1="478.5" x2="474" y2="478.5" stroke="#5a2c95" stroke-width="2.6"/><path d="M464.5,475 L468,478.5 L464.5,482 L461,478.5Z" fill="#5a2c95"/>
<line x1="455" y1="503.5" x2="474" y2="503.5" stroke="#9bbb59" stroke-width="2.6"/><path d="M464.5,500 L468.5,506.5 L460.5,506.5Z" fill="#9bbb59"/>
<line x1="455" y1="528" x2="474" y2="528" stroke="#b8423d" stroke-width="2.6"/><rect x="461" y="524.5" width="7" height="7" fill="#b8423d"/>
<text transform="translate(483.09,483.30) scale(1.06,1)" font-size="17.3" fill="#000" >KO</text>
<text transform="translate(484.51,509.10) scale(1.06,1)" font-size="17.3" fill="#000" >WT</text>
<text transform="translate(484.19,535.20) scale(1.06,1)" font-size="17.3" fill="#000" >TG</text>
<text transform="translate(2.03,699.80) scale(0.93,1)" font-size="26" font-weight="bold" fill="#000" >C</text>
<line x1="77.7" y1="701.8" x2="77.7" y2="990.7" stroke="#1a1a1a" stroke-width="1.5"/>
<line x1="74.2" y1="987.2" x2="407.5" y2="987.2" stroke="#1a1a1a" stroke-width="1.5"/>
<line x1="73.9" y1="987.20" x2="77.7" y2="987.20" stroke="#1a1a1a" stroke-width="1.3"/>
<text transform="translate(55.81,994.78) scale(0.95,1)" font-size="20.0" font-weight="bold" fill="#000" >0</text>
<line x1="73.9" y1="946.51" x2="77.7" y2="946.51" stroke="#1a1a1a" stroke-width="1.3"/>
<text transform="translate(55.81,954.09) scale(0.95,1)" font-size="20.0" font-weight="bold" fill="#000" >2</text>
<line x1="73.9" y1="905.83" x2="77.7" y2="905.83" stroke="#1a1a1a" stroke-width="1.3"/>
<text transform="translate(55.15,913.41) scale(0.95,1)" font-size="20.0" font-weight="bold" fill="#000" >4</text>
<line x1="73.9" y1="865.14" x2="77.7" y2="865.14" stroke="#1a1a1a" stroke-width="1.3"/>
<text transform="translate(55.72,872.72) scale(0.95,1)" font-size="20.0" font-weight="bold" fill="#000" >6</text>
<line x1="73.9" y1="824.46" x2="77.7" y2="824.46" stroke="#1a1a1a" stroke-width="1.3"/>
<text transform="translate(55.62,832.04) scale(0.95,1)" font-size="20.0" font-weight="bold" fill="#000" >8</text>
<line x1="73.9" y1="783.77" x2="77.7" y2="783.77" stroke="#1a1a1a" stroke-width="1.3"/>
<text transform="translate(46.97,789.95) scale(0.95,1)" font-size="20.0" font-weight="bold" fill="#000" >10</text>
<line x1="73.9" y1="743.09" x2="77.7" y2="743.09" stroke="#1a1a1a" stroke-width="1.3"/>
<text transform="translate(46.97,749.26) scale(0.95,1)" font-size="20.0" font-weight="bold" fill="#000" >12</text>
<line x1="73.9" y1="702.40" x2="77.7" y2="702.40" stroke="#1a1a1a" stroke-width="1.3"/>
<text transform="translate(46.30,708.58) scale(0.95,1)" font-size="20.0" font-weight="bold" fill="#000" >14</text>
<line x1="114.4" y1="987.2" x2="114.4" y2="991.0" stroke="#1a1a1a" stroke-width="1.3"/>
<line x1="156.7" y1="987.2" x2="156.7" y2="991.0" stroke="#1a1a1a" stroke-width="1.3"/>
<line x1="200.6" y1="987.2" x2="200.6" y2="991.0" stroke="#1a1a1a" stroke-width="1.3"/>
<line x1="239.3" y1="987.2" x2="239.3" y2="991.0" stroke="#1a1a1a" stroke-width="1.3"/>
<line x1="278.1" y1="987.2" x2="278.1" y2="991.0" stroke="#1a1a1a" stroke-width="1.3"/>
<line x1="322.3" y1="987.2" x2="322.3" y2="991.0" stroke="#1a1a1a" stroke-width="1.3"/>
<line x1="369.2" y1="987.2" x2="369.2" y2="991.0" stroke="#1a1a1a" stroke-width="1.3"/>
<line x1="406.9" y1="987.2" x2="406.9" y2="991.0" stroke="#1a1a1a" stroke-width="1.3"/>
<text transform="translate(73.95,1010.80) scale(1.1,1)" font-size="16.7" font-weight="bold" fill="#000" >0</text>
<text transform="translate(144.65,1010.80) scale(1.1,1)" font-size="16.7" font-weight="bold" fill="#000" >7.5</text>
<text transform="translate(227.88,1010.80) scale(1.1,1)" font-size="16.7" font-weight="bold" fill="#000" >15</text>
<text transform="translate(305.97,1010.80) scale(1.1,1)" font-size="16.7" font-weight="bold" fill="#000" >22.5</text>
<text transform="translate(396.97,1010.80) scale(1.1,1)" font-size="16.7" font-weight="bold" fill="#000" >30</text>
<text transform="translate(198.73,1033.90) scale(1.04,1)" font-size="16.5" font-weight="bold" fill="#000" >Time (min)</text>
<g transform="translate(15.5,840.6) rotate(-90)"><text transform="scale(1.16,1)" font-size="16.2" font-weight="bold" text-anchor="middle">Rate of Thrombus formation</text></g>
<line x1="78.00" y1="973.78" x2="78.00" y2="946.52" stroke="#6f66a0" stroke-width="1.5"/>
<line x1="81.29" y1="978.17" x2="81.29" y2="937.27" stroke="#6f66a0" stroke-width="1.5"/>
<line x1="84.58" y1="981.91" x2="84.58" y2="913.09" stroke="#6f66a0" stroke-width="1.5"/>
<line x1="87.88" y1="984.35" x2="87.88" y2="907.77" stroke="#6f66a0" stroke-width="1.5"/>
<line x1="91.17" y1="984.76" x2="91.17" y2="913.62" stroke="#6f66a0" stroke-width="1.5"/>
<line x1="94.46" y1="984.15" x2="94.46" y2="917.64" stroke="#6f66a0" stroke-width="1.5"/>
<line x1="97.75" y1="983.54" x2="97.75" y2="909.23" stroke="#6f66a0" stroke-width="1.5"/>
<line x1="101.04" y1="985.29" x2="101.04" y2="881.99" stroke="#6f66a0" stroke-width="1.5"/>
<line x1="104.34" y1="989.20" x2="104.34" y2="842.71" stroke="#6f66a0" stroke-width="1.5"/>
<line x1="107.63" y1="984.73" x2="107.63" y2="796.00" stroke="#6f66a0" stroke-width="1.5"/>
<line x1="110.92" y1="980.37" x2="110.92" y2="796.00" stroke="#6f66a0" stroke-width="1.5"/>
<line x1="114.21" y1="976.98" x2="114.21" y2="807.10" stroke="#6f66a0" stroke-width="1.5"/>
<line x1="117.50" y1="974.81" x2="117.50" y2="790.44" stroke="#6f66a0" stroke-width="1.5"/>
<line x1="120.80" y1="974.24" x2="120.80" y2="799.30" stroke="#6f66a0" stroke-width="1.5"/>
<line x1="124.09" y1="972.99" x2="124.09" y2="809.47" stroke="#6f66a0" stroke-width="1.5"/>
<line x1="127.38" y1="967.06" x2="127.38" y2="806.17" stroke="#6f66a0" stroke-width="1.5"/>
<line x1="130.67" y1="953.42" x2="130.67" y2="795.67" stroke="#6f66a0" stroke-width="1.5"/>
<line x1="133.96" y1="941.21" x2="133.96" y2="785.50" stroke="#6f66a0" stroke-width="1.5"/>
<line x1="137.26" y1="934.32" x2="137.26" y2="775.22" stroke="#6f66a0" stroke-width="1.5"/>
<line x1="140.55" y1="931.48" x2="140.55" y2="764.58" stroke="#6f66a0" stroke-width="1.5"/>
<line x1="143.84" y1="920.32" x2="143.84" y2="755.32" stroke="#6f66a0" stroke-width="1.5"/>
<line x1="147.13" y1="907.17" x2="147.13" y2="748.41" stroke="#6f66a0" stroke-width="1.5"/>
<line x1="150.42" y1="899.99" x2="150.42" y2="745.97" stroke="#6f66a0" stroke-width="1.5"/>
<line x1="153.72" y1="897.09" x2="153.72" y2="743.83" stroke="#6f66a0" stroke-width="1.5"/>
<line x1="157.01" y1="893.33" x2="157.01" y2="741.85" stroke="#6f66a0" stroke-width="1.5"/>
<line x1="160.30" y1="889.57" x2="160.30" y2="739.86" stroke="#6f66a0" stroke-width="1.5"/>
<line x1="163.59" y1="884.58" x2="163.59" y2="737.88" stroke="#6f66a0" stroke-width="1.5"/>
<line x1="166.88" y1="882.12" x2="166.88" y2="736.74" stroke="#6f66a0" stroke-width="1.5"/>
<line x1="170.18" y1="879.95" x2="170.18" y2="736.26" stroke="#6f66a0" stroke-width="1.5"/>
<line x1="173.47" y1="876.97" x2="173.47" y2="735.78" stroke="#6f66a0" stroke-width="1.5"/>
<line x1="176.76" y1="873.32" x2="176.76" y2="735.30" stroke="#6f66a0" stroke-width="1.5"/>
<line x1="180.05" y1="870.36" x2="180.05" y2="734.82" stroke="#6f66a0" stroke-width="1.5"/>
<line x1="183.34" y1="867.39" x2="183.34" y2="734.33" stroke="#6f66a0" stroke-width="1.5"/>
<line x1="186.64" y1="863.80" x2="186.64" y2="733.85" stroke="#6f66a0" stroke-width="1.5"/>
<line x1="189.93" y1="860.17" x2="189.93" y2="733.37" stroke="#6f66a0" stroke-width="1.5"/>
<line x1="193.22" y1="856.07" x2="193.22" y2="732.85" stroke="#6f66a0" stroke-width="1.5"/>
<line x1="196.51" y1="848.93" x2="196.51" y2="732.07" stroke="#6f66a0" stroke-width="1.5"/>
<line x1="199.80" y1="843.81" x2="199.80" y2="731.30" stroke="#6f66a0" stroke-width="1.5"/>
<line x1="203.10" y1="839.30" x2="203.10" y2="730.52" stroke="#6f66a0" stroke-width="1.5"/>
<line x1="206.39" y1="834.80" x2="206.39" y2="729.75" stroke="#6f66a0" stroke-width="1.5"/>
<line x1="209.68" y1="833.40" x2="209.68" y2="728.97" stroke="#6f66a0" stroke-width="1.5"/>
<line x1="212.97" y1="832.10" x2="212.97" y2="728.20" stroke="#6f66a0" stroke-width="1.5"/>
<line x1="216.26" y1="830.81" x2="216.26" y2="727.97" stroke="#6f66a0" stroke-width="1.5"/>
<line x1="219.56" y1="829.71" x2="219.56" y2="727.86" stroke="#6f66a0" stroke-width="1.5"/>
<line x1="222.85" y1="829.41" x2="222.85" y2="727.74" stroke="#6f66a0" stroke-width="1.5"/>
<line x1="226.14" y1="829.11" x2="226.14" y2="727.62" stroke="#6f66a0" stroke-width="1.5"/>
<line x1="229.43" y1="828.82" x2="229.43" y2="727.51" stroke="#6f66a0" stroke-width="1.5"/>
<line x1="232.72" y1="828.57" x2="232.72" y2="728.40" stroke="#6f66a0" stroke-width="1.5"/>
<line x1="236.02" y1="828.78" x2="236.02" y2="730.08" stroke="#6f66a0" stroke-width="1.5"/>
<line x1="239.31" y1="829.00" x2="239.31" y2="731.75" stroke="#6f66a0" stroke-width="1.5"/>
<line x1="242.60" y1="829.21" x2="242.60" y2="731.93" stroke="#6f66a0" stroke-width="1.5"/>
<line x1="245.89" y1="829.42" x2="245.89" y2="731.66" stroke="#6f66a0" stroke-width="1.5"/>
<line x1="249.18" y1="829.63" x2="249.18" y2="731.39" stroke="#6f66a0" stroke-width="1.5"/>
<line x1="252.48" y1="829.97" x2="252.48" y2="731.12" stroke="#6f66a0" stroke-width="1.5"/>
<line x1="255.77" y1="830.51" x2="255.77" y2="730.76" stroke="#6f66a0" stroke-width="1.5"/>
<line x1="259.06" y1="831.06" x2="259.06" y2="730.08" stroke="#6f66a0" stroke-width="1.5"/>
<line x1="262.35" y1="831.60" x2="262.35" y2="729.23" stroke="#6f66a0" stroke-width="1.5"/>
<line x1="265.64" y1="832.15" x2="265.64" y2="728.16" stroke="#6f66a0" stroke-width="1.5"/>
<line x1="268.94" y1="832.69" x2="268.94" y2="727.08" stroke="#6f66a0" stroke-width="1.5"/>
<line x1="272.23" y1="833.23" x2="272.23" y2="726.01" stroke="#6f66a0" stroke-width="1.5"/>
<line x1="275.52" y1="833.72" x2="275.52" y2="725.31" stroke="#6f66a0" stroke-width="1.5"/>
<line x1="278.81" y1="834.05" x2="278.81" y2="725.65" stroke="#6f66a0" stroke-width="1.5"/>
<line x1="282.10" y1="834.38" x2="282.10" y2="725.99" stroke="#6f66a0" stroke-width="1.5"/>
<line x1="285.40" y1="834.71" x2="285.40" y2="726.32" stroke="#6f66a0" stroke-width="1.5"/>
<line x1="288.69" y1="835.03" x2="288.69" y2="726.66" stroke="#6f66a0" stroke-width="1.5"/>
<line x1="291.98" y1="835.36" x2="291.98" y2="727.00" stroke="#6f66a0" stroke-width="1.5"/>
<line x1="295.27" y1="835.69" x2="295.27" y2="727.34" stroke="#6f66a0" stroke-width="1.5"/>
<line x1="298.56" y1="836.02" x2="298.56" y2="727.67" stroke="#6f66a0" stroke-width="1.5"/>
<line x1="301.86" y1="836.35" x2="301.86" y2="728.01" stroke="#6f66a0" stroke-width="1.5"/>
<line x1="305.15" y1="836.67" x2="305.15" y2="731.94" stroke="#6f66a0" stroke-width="1.5"/>
<line x1="308.44" y1="837.00" x2="308.44" y2="736.59" stroke="#6f66a0" stroke-width="1.5"/>
<line x1="311.73" y1="838.06" x2="311.73" y2="738.92" stroke="#6f66a0" stroke-width="1.5"/>
<line x1="315.02" y1="839.38" x2="315.02" y2="740.41" stroke="#6f66a0" stroke-width="1.5"/>
<line x1="318.32" y1="840.70" x2="318.32" y2="741.89" stroke="#6f66a0" stroke-width="1.5"/>
<line x1="321.61" y1="842.02" x2="321.61" y2="743.38" stroke="#6f66a0" stroke-width="1.5"/>
<line x1="324.90" y1="843.35" x2="324.90" y2="744.86" stroke="#6f66a0" stroke-width="1.5"/>
<line x1="328.19" y1="844.42" x2="328.19" y2="746.35" stroke="#6f66a0" stroke-width="1.5"/>
<line x1="331.48" y1="845.24" x2="331.48" y2="747.90" stroke="#6f66a0" stroke-width="1.5"/>
<line x1="334.78" y1="846.06" x2="334.78" y2="749.55" stroke="#6f66a0" stroke-width="1.5"/>
<line x1="338.07" y1="846.88" x2="338.07" y2="751.19" stroke="#6f66a0" stroke-width="1.5"/>
<line x1="341.36" y1="847.70" x2="341.36" y2="752.84" stroke="#6f66a0" stroke-width="1.5"/>
<line x1="344.65" y1="848.52" x2="344.65" y2="754.37" stroke="#6f66a0" stroke-width="1.5"/>
<line x1="347.94" y1="849.34" x2="347.94" y2="755.49" stroke="#6f66a0" stroke-width="1.5"/>
<line x1="351.24" y1="850.16" x2="351.24" y2="756.62" stroke="#6f66a0" stroke-width="1.5"/>
<line x1="354.53" y1="851.00" x2="354.53" y2="757.75" stroke="#6f66a0" stroke-width="1.5"/>
<line x1="357.82" y1="852.19" x2="357.82" y2="758.88" stroke="#6f66a0" stroke-width="1.5"/>
<line x1="361.11" y1="853.38" x2="361.11" y2="760.00" stroke="#6f66a0" stroke-width="1.5"/>
<line x1="364.40" y1="854.56" x2="364.40" y2="760.61" stroke="#6f66a0" stroke-width="1.5"/>
<line x1="367.70" y1="855.75" x2="367.70" y2="761.21" stroke="#6f66a0" stroke-width="1.5"/>
<line x1="370.99" y1="856.94" x2="370.99" y2="761.82" stroke="#6f66a0" stroke-width="1.5"/>
<line x1="374.28" y1="858.12" x2="374.28" y2="762.42" stroke="#6f66a0" stroke-width="1.5"/>
<line x1="377.57" y1="859.31" x2="377.57" y2="763.03" stroke="#6f66a0" stroke-width="1.5"/>
<line x1="380.86" y1="860.15" x2="380.86" y2="763.63" stroke="#6f66a0" stroke-width="1.5"/>
<line x1="384.16" y1="860.84" x2="384.16" y2="764.24" stroke="#6f66a0" stroke-width="1.5"/>
<line x1="387.45" y1="861.53" x2="387.45" y2="765.29" stroke="#6f66a0" stroke-width="1.5"/>
<line x1="390.74" y1="862.22" x2="390.74" y2="766.64" stroke="#6f66a0" stroke-width="1.5"/>
<line x1="394.03" y1="862.91" x2="394.03" y2="767.99" stroke="#6f66a0" stroke-width="1.5"/>
<line x1="397.32" y1="863.60" x2="397.32" y2="769.34" stroke="#6f66a0" stroke-width="1.5"/>
<line x1="79.65" y1="972.16" x2="79.65" y2="949.13" stroke="#f0ca6c" stroke-width="1.5"/>
<line x1="82.94" y1="974.51" x2="82.94" y2="943.29" stroke="#f0ca6c" stroke-width="1.5"/>
<line x1="86.23" y1="973.60" x2="86.23" y2="943.36" stroke="#f0ca6c" stroke-width="1.5"/>
<line x1="89.53" y1="969.98" x2="89.53" y2="938.48" stroke="#f0ca6c" stroke-width="1.5"/>
<line x1="92.82" y1="972.91" x2="92.82" y2="925.50" stroke="#f0ca6c" stroke-width="1.5"/>
<line x1="96.11" y1="964.41" x2="96.11" y2="921.44" stroke="#f0ca6c" stroke-width="1.5"/>
<line x1="99.40" y1="963.20" x2="99.40" y2="915.78" stroke="#f0ca6c" stroke-width="1.5"/>
<line x1="102.69" y1="958.19" x2="102.69" y2="896.83" stroke="#f0ca6c" stroke-width="1.5"/>
<line x1="105.99" y1="950.94" x2="105.99" y2="895.51" stroke="#f0ca6c" stroke-width="1.5"/>
<line x1="109.28" y1="937.19" x2="109.28" y2="872.65" stroke="#f0ca6c" stroke-width="1.5"/>
<line x1="112.57" y1="937.74" x2="112.57" y2="867.70" stroke="#f0ca6c" stroke-width="1.5"/>
<line x1="115.86" y1="929.51" x2="115.86" y2="848.22" stroke="#f0ca6c" stroke-width="1.5"/>
<line x1="119.15" y1="924.05" x2="119.15" y2="822.56" stroke="#f0ca6c" stroke-width="1.5"/>
<line x1="122.45" y1="921.85" x2="122.45" y2="813.17" stroke="#f0ca6c" stroke-width="1.5"/>
<line x1="125.74" y1="912.81" x2="125.74" y2="801.57" stroke="#f0ca6c" stroke-width="1.5"/>
<line x1="129.03" y1="903.68" x2="129.03" y2="797.07" stroke="#f0ca6c" stroke-width="1.5"/>
<line x1="132.32" y1="898.50" x2="132.32" y2="790.35" stroke="#f0ca6c" stroke-width="1.5"/>
<line x1="135.61" y1="899.12" x2="135.61" y2="792.10" stroke="#f0ca6c" stroke-width="1.5"/>
<line x1="138.91" y1="895.47" x2="138.91" y2="794.41" stroke="#f0ca6c" stroke-width="1.5"/>
<line x1="142.20" y1="888.25" x2="142.20" y2="799.86" stroke="#f0ca6c" stroke-width="1.5"/>
<line x1="145.49" y1="891.97" x2="145.49" y2="797.67" stroke="#f0ca6c" stroke-width="1.5"/>
<line x1="148.78" y1="891.29" x2="148.78" y2="793.68" stroke="#f0ca6c" stroke-width="1.5"/>
<line x1="152.07" y1="888.94" x2="152.07" y2="793.76" stroke="#f0ca6c" stroke-width="1.5"/>
<line x1="155.37" y1="893.38" x2="155.37" y2="788.26" stroke="#f0ca6c" stroke-width="1.5"/>
<line x1="158.66" y1="881.60" x2="158.66" y2="790.00" stroke="#f0ca6c" stroke-width="1.5"/>
<line x1="161.95" y1="888.02" x2="161.95" y2="784.40" stroke="#f0ca6c" stroke-width="1.5"/>
<line x1="165.24" y1="880.30" x2="165.24" y2="781.87" stroke="#f0ca6c" stroke-width="1.5"/>
<line x1="168.53" y1="879.06" x2="168.53" y2="777.98" stroke="#f0ca6c" stroke-width="1.5"/>
<line x1="171.83" y1="891.88" x2="171.83" y2="774.98" stroke="#f0ca6c" stroke-width="1.5"/>
<line x1="175.12" y1="897.03" x2="175.12" y2="773.05" stroke="#f0ca6c" stroke-width="1.5"/>
<line x1="178.41" y1="897.33" x2="178.41" y2="775.51" stroke="#f0ca6c" stroke-width="1.5"/>
<line x1="181.70" y1="898.52" x2="181.70" y2="774.98" stroke="#f0ca6c" stroke-width="1.5"/>
<line x1="184.99" y1="892.36" x2="184.99" y2="768.66" stroke="#f0ca6c" stroke-width="1.5"/>
<line x1="188.29" y1="865.97" x2="188.29" y2="773.68" stroke="#f0ca6c" stroke-width="1.5"/>
<line x1="191.58" y1="864.51" x2="191.58" y2="767.88" stroke="#f0ca6c" stroke-width="1.5"/>
<line x1="194.87" y1="864.08" x2="194.87" y2="763.53" stroke="#f0ca6c" stroke-width="1.5"/>
<line x1="198.16" y1="865.71" x2="198.16" y2="763.16" stroke="#f0ca6c" stroke-width="1.5"/>
<line x1="201.45" y1="867.35" x2="201.45" y2="766.71" stroke="#f0ca6c" stroke-width="1.5"/>
<line x1="204.75" y1="868.99" x2="204.75" y2="769.06" stroke="#f0ca6c" stroke-width="1.5"/>
<line x1="208.04" y1="870.66" x2="208.04" y2="764.55" stroke="#f0ca6c" stroke-width="1.5"/>
<line x1="211.33" y1="872.33" x2="211.33" y2="765.41" stroke="#f0ca6c" stroke-width="1.5"/>
<line x1="214.62" y1="874.23" x2="214.62" y2="764.77" stroke="#f0ca6c" stroke-width="1.5"/>
<line x1="217.91" y1="876.25" x2="217.91" y2="764.13" stroke="#f0ca6c" stroke-width="1.5"/>
<line x1="221.21" y1="878.26" x2="221.21" y2="763.50" stroke="#f0ca6c" stroke-width="1.5"/>
<line x1="224.50" y1="875.57" x2="224.50" y2="762.86" stroke="#f0ca6c" stroke-width="1.5"/>
<line x1="227.79" y1="863.49" x2="227.79" y2="762.13" stroke="#f0ca6c" stroke-width="1.5"/>
<line x1="231.08" y1="860.07" x2="231.08" y2="761.35" stroke="#f0ca6c" stroke-width="1.5"/>
<line x1="234.37" y1="860.55" x2="234.37" y2="760.58" stroke="#f0ca6c" stroke-width="1.5"/>
<line x1="237.67" y1="857.21" x2="237.67" y2="759.81" stroke="#f0ca6c" stroke-width="1.5"/>
<line x1="240.96" y1="853.87" x2="240.96" y2="759.57" stroke="#f0ca6c" stroke-width="1.5"/>
<line x1="244.25" y1="852.04" x2="244.25" y2="759.96" stroke="#f0ca6c" stroke-width="1.5"/>
<line x1="247.54" y1="850.97" x2="247.54" y2="760.35" stroke="#f0ca6c" stroke-width="1.5"/>
<line x1="250.83" y1="851.11" x2="250.83" y2="760.74" stroke="#f0ca6c" stroke-width="1.5"/>
<line x1="254.13" y1="856.13" x2="254.13" y2="761.13" stroke="#f0ca6c" stroke-width="1.5"/>
<line x1="257.42" y1="861.16" x2="257.42" y2="761.40" stroke="#f0ca6c" stroke-width="1.5"/>
<line x1="260.71" y1="866.18" x2="260.71" y2="761.29" stroke="#f0ca6c" stroke-width="1.5"/>
<line x1="264.00" y1="866.74" x2="264.00" y2="761.18" stroke="#f0ca6c" stroke-width="1.5"/>
<line x1="267.29" y1="867.30" x2="267.29" y2="761.07" stroke="#f0ca6c" stroke-width="1.5"/>
<line x1="270.59" y1="866.65" x2="270.59" y2="760.96" stroke="#f0ca6c" stroke-width="1.5"/>
<line x1="273.88" y1="864.62" x2="273.88" y2="760.85" stroke="#f0ca6c" stroke-width="1.5"/>
<line x1="277.17" y1="863.21" x2="277.17" y2="760.74" stroke="#f0ca6c" stroke-width="1.5"/>
<line x1="280.46" y1="863.54" x2="280.46" y2="760.63" stroke="#f0ca6c" stroke-width="1.5"/>
<line x1="283.75" y1="863.87" x2="283.75" y2="760.52" stroke="#f0ca6c" stroke-width="1.5"/>
<line x1="287.05" y1="864.20" x2="287.05" y2="760.41" stroke="#f0ca6c" stroke-width="1.5"/>
<line x1="290.34" y1="864.53" x2="290.34" y2="760.30" stroke="#f0ca6c" stroke-width="1.5"/>
<line x1="293.63" y1="864.85" x2="293.63" y2="760.19" stroke="#f0ca6c" stroke-width="1.5"/>
<line x1="296.92" y1="865.18" x2="296.92" y2="760.08" stroke="#f0ca6c" stroke-width="1.5"/>
<line x1="300.21" y1="865.51" x2="300.21" y2="760.00" stroke="#f0ca6c" stroke-width="1.5"/>
<line x1="303.51" y1="865.84" x2="303.51" y2="760.00" stroke="#f0ca6c" stroke-width="1.5"/>
<line x1="306.80" y1="866.17" x2="306.80" y2="760.00" stroke="#f0ca6c" stroke-width="1.5"/>
<line x1="310.09" y1="866.50" x2="310.09" y2="760.00" stroke="#f0ca6c" stroke-width="1.5"/>
<line x1="313.38" y1="866.54" x2="313.38" y2="760.00" stroke="#f0ca6c" stroke-width="1.5"/>
<line x1="316.67" y1="866.48" x2="316.67" y2="760.00" stroke="#f0ca6c" stroke-width="1.5"/>
<line x1="319.97" y1="866.42" x2="319.97" y2="760.00" stroke="#f0ca6c" stroke-width="1.5"/>
<line x1="323.26" y1="866.37" x2="323.26" y2="760.00" stroke="#f0ca6c" stroke-width="1.5"/>
<line x1="326.55" y1="866.31" x2="326.55" y2="760.00" stroke="#f0ca6c" stroke-width="1.5"/>
<line x1="329.84" y1="866.25" x2="329.84" y2="760.00" stroke="#f0ca6c" stroke-width="1.5"/>
<line x1="333.13" y1="866.19" x2="333.13" y2="760.00" stroke="#f0ca6c" stroke-width="1.5"/>
<line x1="336.43" y1="866.13" x2="336.43" y2="760.00" stroke="#f0ca6c" stroke-width="1.5"/>
<line x1="339.72" y1="866.08" x2="339.72" y2="760.00" stroke="#f0ca6c" stroke-width="1.5"/>
<line x1="343.01" y1="866.02" x2="343.01" y2="760.00" stroke="#f0ca6c" stroke-width="1.5"/>
<line x1="346.30" y1="865.97" x2="346.30" y2="760.00" stroke="#f0ca6c" stroke-width="1.5"/>
<line x1="349.59" y1="865.97" x2="349.59" y2="760.00" stroke="#f0ca6c" stroke-width="1.5"/>
<line x1="352.89" y1="865.97" x2="352.89" y2="760.00" stroke="#f0ca6c" stroke-width="1.5"/>
<line x1="356.18" y1="865.97" x2="356.18" y2="760.00" stroke="#f0ca6c" stroke-width="1.5"/>
<line x1="359.47" y1="865.97" x2="359.47" y2="760.00" stroke="#f0ca6c" stroke-width="1.5"/>
<line x1="362.76" y1="865.97" x2="362.76" y2="760.00" stroke="#f0ca6c" stroke-width="1.5"/>
<line x1="366.05" y1="865.97" x2="366.05" y2="760.00" stroke="#f0ca6c" stroke-width="1.5"/>
<line x1="369.35" y1="865.97" x2="369.35" y2="760.00" stroke="#f0ca6c" stroke-width="1.5"/>
<line x1="372.64" y1="865.97" x2="372.64" y2="760.00" stroke="#f0ca6c" stroke-width="1.5"/>
<line x1="375.93" y1="865.97" x2="375.93" y2="760.00" stroke="#f0ca6c" stroke-width="1.5"/>
<line x1="379.22" y1="865.97" x2="379.22" y2="760.00" stroke="#f0ca6c" stroke-width="1.5"/>
<line x1="382.51" y1="866.36" x2="382.51" y2="760.00" stroke="#f0ca6c" stroke-width="1.5"/>
<line x1="385.81" y1="866.91" x2="385.81" y2="760.00" stroke="#f0ca6c" stroke-width="1.5"/>
<line x1="389.10" y1="867.46" x2="389.10" y2="760.00" stroke="#f0ca6c" stroke-width="1.5"/>
<line x1="392.39" y1="868.02" x2="392.39" y2="760.00" stroke="#f0ca6c" stroke-width="1.5"/>
<line x1="395.68" y1="868.57" x2="395.68" y2="760.00" stroke="#f0ca6c" stroke-width="1.5"/>
<line x1="77.80" y1="972.16" x2="81.50" y2="972.16" stroke="#e6b648" stroke-width="1.1"/>
<line x1="77.80" y1="949.13" x2="81.50" y2="949.13" stroke="#e6b648" stroke-width="1.1"/>
<line x1="81.10" y1="974.51" x2="84.79" y2="974.51" stroke="#e6b648" stroke-width="1.1"/>
<line x1="81.10" y1="943.29" x2="84.79" y2="943.29" stroke="#e6b648" stroke-width="1.1"/>
<line x1="84.39" y1="973.60" x2="88.08" y2="973.60" stroke="#e6b648" stroke-width="1.1"/>
<line x1="84.39" y1="943.36" x2="88.08" y2="943.36" stroke="#e6b648" stroke-width="1.1"/>
<line x1="87.68" y1="969.98" x2="91.37" y2="969.98" stroke="#e6b648" stroke-width="1.1"/>
<line x1="87.68" y1="938.48" x2="91.37" y2="938.48" stroke="#e6b648" stroke-width="1.1"/>
<line x1="90.97" y1="972.91" x2="94.66" y2="972.91" stroke="#e6b648" stroke-width="1.1"/>
<line x1="90.97" y1="925.50" x2="94.66" y2="925.50" stroke="#e6b648" stroke-width="1.1"/>
<line x1="94.26" y1="964.41" x2="97.96" y2="964.41" stroke="#e6b648" stroke-width="1.1"/>
<line x1="94.26" y1="921.44" x2="97.96" y2="921.44" stroke="#e6b648" stroke-width="1.1"/>
<line x1="97.56" y1="963.20" x2="101.25" y2="963.20" stroke="#e6b648" stroke-width="1.1"/>
<line x1="97.56" y1="915.78" x2="101.25" y2="915.78" stroke="#e6b648" stroke-width="1.1"/>
<line x1="100.85" y1="958.19" x2="104.54" y2="958.19" stroke="#e6b648" stroke-width="1.1"/>
<line x1="100.85" y1="896.83" x2="104.54" y2="896.83" stroke="#e6b648" stroke-width="1.1"/>
<line x1="104.14" y1="950.94" x2="107.83" y2="950.94" stroke="#e6b648" stroke-width="1.1"/>
<line x1="104.14" y1="895.51" x2="107.83" y2="895.51" stroke="#e6b648" stroke-width="1.1"/>
<line x1="107.43" y1="937.19" x2="111.12" y2="937.19" stroke="#e6b648" stroke-width="1.1"/>
<line x1="107.43" y1="872.65" x2="111.12" y2="872.65" stroke="#e6b648" stroke-width="1.1"/>
<line x1="110.72" y1="937.74" x2="114.42" y2="937.74" stroke="#e6b648" stroke-width="1.1"/>
<line x1="110.72" y1="867.70" x2="114.42" y2="867.70" stroke="#e6b648" stroke-width="1.1"/>
<line x1="114.02" y1="929.51" x2="117.71" y2="929.51" stroke="#e6b648" stroke-width="1.1"/>
<line x1="114.02" y1="848.22" x2="117.71" y2="848.22" stroke="#e6b648" stroke-width="1.1"/>
<line x1="117.31" y1="924.05" x2="121.00" y2="924.05" stroke="#e6b648" stroke-width="1.1"/>
<line x1="117.31" y1="822.56" x2="121.00" y2="822.56" stroke="#e6b648" stroke-width="1.1"/>
<line x1="120.60" y1="921.85" x2="124.29" y2="921.85" stroke="#e6b648" stroke-width="1.1"/>
<line x1="120.60" y1="813.17" x2="124.29" y2="813.17" stroke="#e6b648" stroke-width="1.1"/>
<line x1="123.89" y1="912.81" x2="127.58" y2="912.81" stroke="#e6b648" stroke-width="1.1"/>
<line x1="123.89" y1="801.57" x2="127.58" y2="801.57" stroke="#e6b648" stroke-width="1.1"/>
<line x1="127.18" y1="903.68" x2="130.88" y2="903.68" stroke="#e6b648" stroke-width="1.1"/>
<line x1="127.18" y1="797.07" x2="130.88" y2="797.07" stroke="#e6b648" stroke-width="1.1"/>
<line x1="130.48" y1="898.50" x2="134.17" y2="898.50" stroke="#e6b648" stroke-width="1.1"/>
<line x1="130.48" y1="790.35" x2="134.17" y2="790.35" stroke="#e6b648" stroke-width="1.1"/>
<line x1="133.77" y1="899.12" x2="137.46" y2="899.12" stroke="#e6b648" stroke-width="1.1"/>
<line x1="133.77" y1="792.10" x2="137.46" y2="792.10" stroke="#e6b648" stroke-width="1.1"/>
<line x1="137.06" y1="895.47" x2="140.75" y2="895.47" stroke="#e6b648" stroke-width="1.1"/>
<line x1="137.06" y1="794.41" x2="140.75" y2="794.41" stroke="#e6b648" stroke-width="1.1"/>
<line x1="140.35" y1="888.25" x2="144.04" y2="888.25" stroke="#e6b648" stroke-width="1.1"/>
<line x1="140.35" y1="799.86" x2="144.04" y2="799.86" stroke="#e6b648" stroke-width="1.1"/>
<line x1="143.64" y1="891.97" x2="147.34" y2="891.97" stroke="#e6b648" stroke-width="1.1"/>
<line x1="143.64" y1="797.67" x2="147.34" y2="797.67" stroke="#e6b648" stroke-width="1.1"/>
<line x1="146.94" y1="891.29" x2="150.63" y2="891.29" stroke="#e6b648" stroke-width="1.1"/>
<line x1="146.94" y1="793.68" x2="150.63" y2="793.68" stroke="#e6b648" stroke-width="1.1"/>
<line x1="150.23" y1="888.94" x2="153.92" y2="888.94" stroke="#e6b648" stroke-width="1.1"/>
<line x1="150.23" y1="793.76" x2="153.92" y2="793.76" stroke="#e6b648" stroke-width="1.1"/>
<line x1="153.52" y1="893.38" x2="157.21" y2="893.38" stroke="#e6b648" stroke-width="1.1"/>
<line x1="153.52" y1="788.26" x2="157.21" y2="788.26" stroke="#e6b648" stroke-width="1.1"/>
<line x1="156.81" y1="881.60" x2="160.50" y2="881.60" stroke="#e6b648" stroke-width="1.1"/>
<line x1="156.81" y1="790.00" x2="160.50" y2="790.00" stroke="#e6b648" stroke-width="1.1"/>
<line x1="160.10" y1="888.02" x2="163.80" y2="888.02" stroke="#e6b648" stroke-width="1.1"/>
<line x1="160.10" y1="784.40" x2="163.80" y2="784.40" stroke="#e6b648" stroke-width="1.1"/>
<line x1="163.40" y1="880.30" x2="167.09" y2="880.30" stroke="#e6b648" stroke-width="1.1"/>
<line x1="163.40" y1="781.87" x2="167.09" y2="781.87" stroke="#e6b648" stroke-width="1.1"/>
<line x1="166.69" y1="879.06" x2="170.38" y2="879.06" stroke="#e6b648" stroke-width="1.1"/>
<line x1="166.69" y1="777.98" x2="170.38" y2="777.98" stroke="#e6b648" stroke-width="1.1"/>
<line x1="169.98" y1="891.88" x2="173.67" y2="891.88" stroke="#e6b648" stroke-width="1.1"/>
<line x1="169.98" y1="774.98" x2="173.67" y2="774.98" stroke="#e6b648" stroke-width="1.1"/>
<line x1="173.27" y1="897.03" x2="176.96" y2="897.03" stroke="#e6b648" stroke-width="1.1"/>
<line x1="173.27" y1="773.05" x2="176.96" y2="773.05" stroke="#e6b648" stroke-width="1.1"/>
<line x1="176.56" y1="897.33" x2="180.26" y2="897.33" stroke="#e6b648" stroke-width="1.1"/>
<line x1="176.56" y1="775.51" x2="180.26" y2="775.51" stroke="#e6b648" stroke-width="1.1"/>
<line x1="179.86" y1="898.52" x2="183.55" y2="898.52" stroke="#e6b648" stroke-width="1.1"/>
<line x1="179.86" y1="774.98" x2="183.55" y2="774.98" stroke="#e6b648" stroke-width="1.1"/>
<line x1="183.15" y1="892.36" x2="186.84" y2="892.36" stroke="#e6b648" stroke-width="1.1"/>
<line x1="183.15" y1="768.66" x2="186.84" y2="768.66" stroke="#e6b648" stroke-width="1.1"/>
<line x1="186.44" y1="865.97" x2="190.13" y2="865.97" stroke="#e6b648" stroke-width="1.1"/>
<line x1="186.44" y1="773.68" x2="190.13" y2="773.68" stroke="#e6b648" stroke-width="1.1"/>
<line x1="189.73" y1="864.51" x2="193.42" y2="864.51" stroke="#e6b648" stroke-width="1.1"/>
<line x1="189.73" y1="767.88" x2="193.42" y2="767.88" stroke="#e6b648" stroke-width="1.1"/>
<line x1="193.02" y1="864.08" x2="196.72" y2="864.08" stroke="#e6b648" stroke-width="1.1"/>
<line x1="193.02" y1="763.53" x2="196.72" y2="763.53" stroke="#e6b648" stroke-width="1.1"/>
<line x1="196.32" y1="865.71" x2="200.01" y2="865.71" stroke="#e6b648" stroke-width="1.1"/>
<line x1="196.32" y1="763.16" x2="200.01" y2="763.16" stroke="#e6b648" stroke-width="1.1"/>
<line x1="199.61" y1="867.35" x2="203.30" y2="867.35" stroke="#e6b648" stroke-width="1.1"/>
<line x1="199.61" y1="766.71" x2="203.30" y2="766.71" stroke="#e6b648" stroke-width="1.1"/>
<line x1="202.90" y1="868.99" x2="206.59" y2="868.99" stroke="#e6b648" stroke-width="1.1"/>
<line x1="202.90" y1="769.06" x2="206.59" y2="769.06" stroke="#e6b648" stroke-width="1.1"/>
<line x1="206.19" y1="870.66" x2="209.88" y2="870.66" stroke="#e6b648" stroke-width="1.1"/>
<line x1="206.19" y1="764.55" x2="209.88" y2="764.55" stroke="#e6b648" stroke-width="1.1"/>
<line x1="209.48" y1="872.33" x2="213.18" y2="872.33" stroke="#e6b648" stroke-width="1.1"/>
<line x1="209.48" y1="765.41" x2="213.18" y2="765.41" stroke="#e6b648" stroke-width="1.1"/>
<line x1="212.78" y1="874.23" x2="216.47" y2="874.23" stroke="#e6b648" stroke-width="1.1"/>
<line x1="212.78" y1="764.77" x2="216.47" y2="764.77" stroke="#e6b648" stroke-width="1.1"/>
<line x1="216.07" y1="876.25" x2="219.76" y2="876.25" stroke="#e6b648" stroke-width="1.1"/>
<line x1="216.07" y1="764.13" x2="219.76" y2="764.13" stroke="#e6b648" stroke-width="1.1"/>
<line x1="219.36" y1="878.26" x2="223.05" y2="878.26" stroke="#e6b648" stroke-width="1.1"/>
<line x1="219.36" y1="763.50" x2="223.05" y2="763.50" stroke="#e6b648" stroke-width="1.1"/>
<line x1="222.65" y1="875.57" x2="226.34" y2="875.57" stroke="#e6b648" stroke-width="1.1"/>
<line x1="222.65" y1="762.86" x2="226.34" y2="762.86" stroke="#e6b648" stroke-width="1.1"/>
<line x1="225.94" y1="863.49" x2="229.64" y2="863.49" stroke="#e6b648" stroke-width="1.1"/>
<line x1="225.94" y1="762.13" x2="229.64" y2="762.13" stroke="#e6b648" stroke-width="1.1"/>
<line x1="229.24" y1="860.07" x2="232.93" y2="860.07" stroke="#e6b648" stroke-width="1.1"/>
<line x1="229.24" y1="761.35" x2="232.93" y2="761.35" stroke="#e6b648" stroke-width="1.1"/>
<line x1="232.53" y1="860.55" x2="236.22" y2="860.55" stroke="#e6b648" stroke-width="1.1"/>
<line x1="232.53" y1="760.58" x2="236.22" y2="760.58" stroke="#e6b648" stroke-width="1.1"/>
<line x1="235.82" y1="857.21" x2="239.51" y2="857.21" stroke="#e6b648" stroke-width="1.1"/>
<line x1="235.82" y1="759.81" x2="239.51" y2="759.81" stroke="#e6b648" stroke-width="1.1"/>
<line x1="239.11" y1="853.87" x2="242.80" y2="853.87" stroke="#e6b648" stroke-width="1.1"/>
<line x1="239.11" y1="759.57" x2="242.80" y2="759.57" stroke="#e6b648" stroke-width="1.1"/>
<line x1="242.40" y1="852.04" x2="246.10" y2="852.04" stroke="#e6b648" stroke-width="1.1"/>
<line x1="242.40" y1="759.96" x2="246.10" y2="759.96" stroke="#e6b648" stroke-width="1.1"/>
<line x1="245.70" y1="850.97" x2="249.39" y2="850.97" stroke="#e6b648" stroke-width="1.1"/>
<line x1="245.70" y1="760.35" x2="249.39" y2="760.35" stroke="#e6b648" stroke-width="1.1"/>
<line x1="248.99" y1="851.11" x2="252.68" y2="851.11" stroke="#e6b648" stroke-width="1.1"/>
<line x1="248.99" y1="760.74" x2="252.68" y2="760.74" stroke="#e6b648" stroke-width="1.1"/>
<line x1="252.28" y1="856.13" x2="255.97" y2="856.13" stroke="#e6b648" stroke-width="1.1"/>
<line x1="252.28" y1="761.13" x2="255.97" y2="761.13" stroke="#e6b648" stroke-width="1.1"/>
<line x1="255.57" y1="861.16" x2="259.26" y2="861.16" stroke="#e6b648" stroke-width="1.1"/>
<line x1="255.57" y1="761.40" x2="259.26" y2="761.40" stroke="#e6b648" stroke-width="1.1"/>
<line x1="258.86" y1="866.18" x2="262.56" y2="866.18" stroke="#e6b648" stroke-width="1.1"/>
<line x1="258.86" y1="761.29" x2="262.56" y2="761.29" stroke="#e6b648" stroke-width="1.1"/>
<line x1="262.16" y1="866.74" x2="265.85" y2="866.74" stroke="#e6b648" stroke-width="1.1"/>
<line x1="262.16" y1="761.18" x2="265.85" y2="761.18" stroke="#e6b648" stroke-width="1.1"/>
<line x1="265.45" y1="867.30" x2="269.14" y2="867.30" stroke="#e6b648" stroke-width="1.1"/>
<line x1="265.45" y1="761.07" x2="269.14" y2="761.07" stroke="#e6b648" stroke-width="1.1"/>
<line x1="268.74" y1="866.65" x2="272.43" y2="866.65" stroke="#e6b648" stroke-width="1.1"/>
<line x1="268.74" y1="760.96" x2="272.43" y2="760.96" stroke="#e6b648" stroke-width="1.1"/>
<line x1="272.03" y1="864.62" x2="275.72" y2="864.62" stroke="#e6b648" stroke-width="1.1"/>
<line x1="272.03" y1="760.85" x2="275.72" y2="760.85" stroke="#e6b648" stroke-width="1.1"/>
<line x1="275.32" y1="863.21" x2="279.02" y2="863.21" stroke="#e6b648" stroke-width="1.1"/>
<line x1="275.32" y1="760.74" x2="279.02" y2="760.74" stroke="#e6b648" stroke-width="1.1"/>
<line x1="278.62" y1="863.54" x2="282.31" y2="863.54" stroke="#e6b648" stroke-width="1.1"/>
<line x1="278.62" y1="760.63" x2="282.31" y2="760.63" stroke="#e6b648" stroke-width="1.1"/>
<line x1="281.91" y1="863.87" x2="285.60" y2="863.87" stroke="#e6b648" stroke-width="1.1"/>
<line x1="281.91" y1="760.52" x2="285.60" y2="760.52" stroke="#e6b648" stroke-width="1.1"/>
<line x1="285.20" y1="864.20" x2="288.89" y2="864.20" stroke="#e6b648" stroke-width="1.1"/>
<line x1="285.20" y1="760.41" x2="288.89" y2="760.41" stroke="#e6b648" stroke-width="1.1"/>
<line x1="288.49" y1="864.53" x2="292.18" y2="864.53" stroke="#e6b648" stroke-width="1.1"/>
<line x1="288.49" y1="760.30" x2="292.18" y2="760.30" stroke="#e6b648" stroke-width="1.1"/>
<line x1="291.78" y1="864.85" x2="295.48" y2="864.85" stroke="#e6b648" stroke-width="1.1"/>
<line x1="291.78" y1="760.19" x2="295.48" y2="760.19" stroke="#e6b648" stroke-width="1.1"/>
<line x1="295.08" y1="865.18" x2="298.77" y2="865.18" stroke="#e6b648" stroke-width="1.1"/>
<line x1="295.08" y1="760.08" x2="298.77" y2="760.08" stroke="#e6b648" stroke-width="1.1"/>
<line x1="298.37" y1="865.51" x2="302.06" y2="865.51" stroke="#e6b648" stroke-width="1.1"/>
<line x1="298.37" y1="760.00" x2="302.06" y2="760.00" stroke="#e6b648" stroke-width="1.1"/>
<line x1="301.66" y1="865.84" x2="305.35" y2="865.84" stroke="#e6b648" stroke-width="1.1"/>
<line x1="301.66" y1="760.00" x2="305.35" y2="760.00" stroke="#e6b648" stroke-width="1.1"/>
<line x1="304.95" y1="866.17" x2="308.64" y2="866.17" stroke="#e6b648" stroke-width="1.1"/>
<line x1="304.95" y1="760.00" x2="308.64" y2="760.00" stroke="#e6b648" stroke-width="1.1"/>
<line x1="308.24" y1="866.50" x2="311.94" y2="866.50" stroke="#e6b648" stroke-width="1.1"/>
<line x1="308.24" y1="760.00" x2="311.94" y2="760.00" stroke="#e6b648" stroke-width="1.1"/>
<line x1="311.54" y1="866.54" x2="315.23" y2="866.54" stroke="#e6b648" stroke-width="1.1"/>
<line x1="311.54" y1="760.00" x2="315.23" y2="760.00" stroke="#e6b648" stroke-width="1.1"/>
<line x1="314.83" y1="866.48" x2="318.52" y2="866.48" stroke="#e6b648" stroke-width="1.1"/>
<line x1="314.83" y1="760.00" x2="318.52" y2="760.00" stroke="#e6b648" stroke-width="1.1"/>
<line x1="318.12" y1="866.42" x2="321.81" y2="866.42" stroke="#e6b648" stroke-width="1.1"/>
<line x1="318.12" y1="760.00" x2="321.81" y2="760.00" stroke="#e6b648" stroke-width="1.1"/>
<line x1="321.41" y1="866.37" x2="325.10" y2="866.37" stroke="#e6b648" stroke-width="1.1"/>
<line x1="321.41" y1="760.00" x2="325.10" y2="760.00" stroke="#e6b648" stroke-width="1.1"/>
<line x1="324.70" y1="866.31" x2="328.40" y2="866.31" stroke="#e6b648" stroke-width="1.1"/>
<line x1="324.70" y1="760.00" x2="328.40" y2="760.00" stroke="#e6b648" stroke-width="1.1"/>
<line x1="328.00" y1="866.25" x2="331.69" y2="866.25" stroke="#e6b648" stroke-width="1.1"/>
<line x1="328.00" y1="760.00" x2="331.69" y2="760.00" stroke="#e6b648" stroke-width="1.1"/>
<line x1="331.29" y1="866.19" x2="334.98" y2="866.19" stroke="#e6b648" stroke-width="1.1"/>
<line x1="331.29" y1="760.00" x2="334.98" y2="760.00" stroke="#e6b648" stroke-width="1.1"/>
<line x1="334.58" y1="866.13" x2="338.27" y2="866.13" stroke="#e6b648" stroke-width="1.1"/>
<line x1="334.58" y1="760.00" x2="338.27" y2="760.00" stroke="#e6b648" stroke-width="1.1"/>
<line x1="337.87" y1="866.08" x2="341.56" y2="866.08" stroke="#e6b648" stroke-width="1.1"/>
<line x1="337.87" y1="760.00" x2="341.56" y2="760.00" stroke="#e6b648" stroke-width="1.1"/>
<line x1="341.16" y1="866.02" x2="344.86" y2="866.02" stroke="#e6b648" stroke-width="1.1"/>
<line x1="341.16" y1="760.00" x2="344.86" y2="760.00" stroke="#e6b648" stroke-width="1.1"/>
<line x1="344.46" y1="865.97" x2="348.15" y2="865.97" stroke="#e6b648" stroke-width="1.1"/>
<line x1="344.46" y1="760.00" x2="348.15" y2="760.00" stroke="#e6b648" stroke-width="1.1"/>
<line x1="347.75" y1="865.97" x2="351.44" y2="865.97" stroke="#e6b648" stroke-width="1.1"/>
<line x1="347.75" y1="760.00" x2="351.44" y2="760.00" stroke="#e6b648" stroke-width="1.1"/>
<line x1="351.04" y1="865.97" x2="354.73" y2="865.97" stroke="#e6b648" stroke-width="1.1"/>
<line x1="351.04" y1="760.00" x2="354.73" y2="760.00" stroke="#e6b648" stroke-width="1.1"/>
<line x1="354.33" y1="865.97" x2="358.02" y2="865.97" stroke="#e6b648" stroke-width="1.1"/>
<line x1="354.33" y1="760.00" x2="358.02" y2="760.00" stroke="#e6b648" stroke-width="1.1"/>
<line x1="357.62" y1="865.97" x2="361.32" y2="865.97" stroke="#e6b648" stroke-width="1.1"/>
<line x1="357.62" y1="760.00" x2="361.32" y2="760.00" stroke="#e6b648" stroke-width="1.1"/>
<line x1="360.92" y1="865.97" x2="364.61" y2="865.97" stroke="#e6b648" stroke-width="1.1"/>
<line x1="360.92" y1="760.00" x2="364.61" y2="760.00" stroke="#e6b648" stroke-width="1.1"/>
<line x1="364.21" y1="865.97" x2="367.90" y2="865.97" stroke="#e6b648" stroke-width="1.1"/>
<line x1="364.21" y1="760.00" x2="367.90" y2="760.00" stroke="#e6b648" stroke-width="1.1"/>
<line x1="367.50" y1="865.97" x2="371.19" y2="865.97" stroke="#e6b648" stroke-width="1.1"/>
<line x1="367.50" y1="760.00" x2="371.19" y2="760.00" stroke="#e6b648" stroke-width="1.1"/>
<line x1="370.79" y1="865.97" x2="374.48" y2="865.97" stroke="#e6b648" stroke-width="1.1"/>
<line x1="370.79" y1="760.00" x2="374.48" y2="760.00" stroke="#e6b648" stroke-width="1.1"/>
<line x1="374.08" y1="865.97" x2="377.78" y2="865.97" stroke="#e6b648" stroke-width="1.1"/>
<line x1="374.08" y1="760.00" x2="377.78" y2="760.00" stroke="#e6b648" stroke-width="1.1"/>
<line x1="377.38" y1="865.97" x2="381.07" y2="865.97" stroke="#e6b648" stroke-width="1.1"/>
<line x1="377.38" y1="760.00" x2="381.07" y2="760.00" stroke="#e6b648" stroke-width="1.1"/>
<line x1="380.67" y1="866.36" x2="384.36" y2="866.36" stroke="#e6b648" stroke-width="1.1"/>
<line x1="380.67" y1="760.00" x2="384.36" y2="760.00" stroke="#e6b648" stroke-width="1.1"/>
<line x1="383.96" y1="866.91" x2="387.65" y2="866.91" stroke="#e6b648" stroke-width="1.1"/>
<line x1="383.96" y1="760.00" x2="387.65" y2="760.00" stroke="#e6b648" stroke-width="1.1"/>
<line x1="387.25" y1="867.46" x2="390.94" y2="867.46" stroke="#e6b648" stroke-width="1.1"/>
<line x1="387.25" y1="760.00" x2="390.94" y2="760.00" stroke="#e6b648" stroke-width="1.1"/>
<line x1="390.54" y1="868.02" x2="394.24" y2="868.02" stroke="#e6b648" stroke-width="1.1"/>
<line x1="390.54" y1="760.00" x2="394.24" y2="760.00" stroke="#e6b648" stroke-width="1.1"/>
<line x1="393.84" y1="868.57" x2="397.53" y2="868.57" stroke="#e6b648" stroke-width="1.1"/>
<line x1="393.84" y1="760.00" x2="397.53" y2="760.00" stroke="#e6b648" stroke-width="1.1"/>
<line x1="397.13" y1="869.12" x2="400.82" y2="869.12" stroke="#e6b648" stroke-width="1.1"/>
<line x1="397.13" y1="760.00" x2="400.82" y2="760.00" stroke="#e6b648" stroke-width="1.1"/>
<line x1="400.42" y1="869.67" x2="404.11" y2="869.67" stroke="#e6b648" stroke-width="1.1"/>
<line x1="400.42" y1="760.00" x2="404.11" y2="760.00" stroke="#e6b648" stroke-width="1.1"/>
<line x1="403.71" y1="870.04" x2="407.40" y2="870.04" stroke="#e6b648" stroke-width="1.1"/>
<line x1="403.71" y1="760.00" x2="407.40" y2="760.00" stroke="#e6b648" stroke-width="1.1"/>
<line x1="407.00" y1="870.04" x2="410.70" y2="870.04" stroke="#e6b648" stroke-width="1.1"/>
<line x1="407.00" y1="760.00" x2="410.70" y2="760.00" stroke="#e6b648" stroke-width="1.1"/>
<line x1="76.15" y1="973.78" x2="79.85" y2="973.78" stroke="#4b2d7f" stroke-width="1.1"/>
<line x1="76.15" y1="946.52" x2="79.85" y2="946.52" stroke="#4b2d7f" stroke-width="1.1"/>
<line x1="79.45" y1="978.17" x2="83.14" y2="978.17" stroke="#4b2d7f" stroke-width="1.1"/>
<line x1="79.45" y1="937.27" x2="83.14" y2="937.27" stroke="#4b2d7f" stroke-width="1.1"/>
<line x1="82.74" y1="981.91" x2="86.43" y2="981.91" stroke="#4b2d7f" stroke-width="1.1"/>
<line x1="82.74" y1="913.09" x2="86.43" y2="913.09" stroke="#4b2d7f" stroke-width="1.1"/>
<line x1="86.03" y1="984.35" x2="89.72" y2="984.35" stroke="#4b2d7f" stroke-width="1.1"/>
<line x1="86.03" y1="907.77" x2="89.72" y2="907.77" stroke="#4b2d7f" stroke-width="1.1"/>
<line x1="89.32" y1="984.76" x2="93.01" y2="984.76" stroke="#4b2d7f" stroke-width="1.1"/>
<line x1="89.32" y1="913.62" x2="93.01" y2="913.62" stroke="#4b2d7f" stroke-width="1.1"/>
<line x1="92.61" y1="984.15" x2="96.31" y2="984.15" stroke="#4b2d7f" stroke-width="1.1"/>
<line x1="92.61" y1="917.64" x2="96.31" y2="917.64" stroke="#4b2d7f" stroke-width="1.1"/>
<line x1="95.91" y1="983.54" x2="99.60" y2="983.54" stroke="#4b2d7f" stroke-width="1.1"/>
<line x1="95.91" y1="909.23" x2="99.60" y2="909.23" stroke="#4b2d7f" stroke-width="1.1"/>
<line x1="99.20" y1="985.29" x2="102.89" y2="985.29" stroke="#4b2d7f" stroke-width="1.1"/>
<line x1="99.20" y1="881.99" x2="102.89" y2="881.99" stroke="#4b2d7f" stroke-width="1.1"/>
<line x1="102.49" y1="989.20" x2="106.18" y2="989.20" stroke="#4b2d7f" stroke-width="1.1"/>
<line x1="102.49" y1="842.71" x2="106.18" y2="842.71" stroke="#4b2d7f" stroke-width="1.1"/>
<line x1="105.78" y1="984.73" x2="109.47" y2="984.73" stroke="#4b2d7f" stroke-width="1.1"/>
<line x1="105.78" y1="796.00" x2="109.47" y2="796.00" stroke="#4b2d7f" stroke-width="1.1"/>
<line x1="109.07" y1="980.37" x2="112.77" y2="980.37" stroke="#4b2d7f" stroke-width="1.1"/>
<line x1="109.07" y1="796.00" x2="112.77" y2="796.00" stroke="#4b2d7f" stroke-width="1.1"/>
<line x1="112.37" y1="976.98" x2="116.06" y2="976.98" stroke="#4b2d7f" stroke-width="1.1"/>
<line x1="112.37" y1="807.10" x2="116.06" y2="807.10" stroke="#4b2d7f" stroke-width="1.1"/>
<line x1="115.66" y1="974.81" x2="119.35" y2="974.81" stroke="#4b2d7f" stroke-width="1.1"/>
<line x1="115.66" y1="790.44" x2="119.35" y2="790.44" stroke="#4b2d7f" stroke-width="1.1"/>
<line x1="118.95" y1="974.24" x2="122.64" y2="974.24" stroke="#4b2d7f" stroke-width="1.1"/>
<line x1="118.95" y1="799.30" x2="122.64" y2="799.30" stroke="#4b2d7f" stroke-width="1.1"/>
<line x1="122.24" y1="972.99" x2="125.93" y2="972.99" stroke="#4b2d7f" stroke-width="1.1"/>
<line x1="122.24" y1="809.47" x2="125.93" y2="809.47" stroke="#4b2d7f" stroke-width="1.1"/>
<line x1="125.53" y1="967.06" x2="129.23" y2="967.06" stroke="#4b2d7f" stroke-width="1.1"/>
<line x1="125.53" y1="806.17" x2="129.23" y2="806.17" stroke="#4b2d7f" stroke-width="1.1"/>
<line x1="128.83" y1="953.42" x2="132.52" y2="953.42" stroke="#4b2d7f" stroke-width="1.1"/>
<line x1="128.83" y1="795.67" x2="132.52" y2="795.67" stroke="#4b2d7f" stroke-width="1.1"/>
<line x1="132.12" y1="941.21" x2="135.81" y2="941.21" stroke="#4b2d7f" stroke-width="1.1"/>
<line x1="132.12" y1="785.50" x2="135.81" y2="785.50" stroke="#4b2d7f" stroke-width="1.1"/>
<line x1="135.41" y1="934.32" x2="139.10" y2="934.32" stroke="#4b2d7f" stroke-width="1.1"/>
<line x1="135.41" y1="775.22" x2="139.10" y2="775.22" stroke="#4b2d7f" stroke-width="1.1"/>
<line x1="138.70" y1="931.48" x2="142.39" y2="931.48" stroke="#4b2d7f" stroke-width="1.1"/>
<line x1="138.70" y1="764.58" x2="142.39" y2="764.58" stroke="#4b2d7f" stroke-width="1.1"/>
<line x1="141.99" y1="920.32" x2="145.69" y2="920.32" stroke="#4b2d7f" stroke-width="1.1"/>
<line x1="141.99" y1="755.32" x2="145.69" y2="755.32" stroke="#4b2d7f" stroke-width="1.1"/>
<line x1="145.29" y1="907.17" x2="148.98" y2="907.17" stroke="#4b2d7f" stroke-width="1.1"/>
<line x1="145.29" y1="748.41" x2="148.98" y2="748.41" stroke="#4b2d7f" stroke-width="1.1"/>
<line x1="148.58" y1="899.99" x2="152.27" y2="899.99" stroke="#4b2d7f" stroke-width="1.1"/>
<line x1="148.58" y1="745.97" x2="152.27" y2="745.97" stroke="#4b2d7f" stroke-width="1.1"/>
<line x1="151.87" y1="897.09" x2="155.56" y2="897.09" stroke="#4b2d7f" stroke-width="1.1"/>
<line x1="151.87" y1="743.83" x2="155.56" y2="743.83" stroke="#4b2d7f" stroke-width="1.1"/>
<line x1="155.16" y1="893.33" x2="158.85" y2="893.33" stroke="#4b2d7f" stroke-width="1.1"/>
<line x1="155.16" y1="741.85" x2="158.85" y2="741.85" stroke="#4b2d7f" stroke-width="1.1"/>
<line x1="158.45" y1="889.57" x2="162.15" y2="889.57" stroke="#4b2d7f" stroke-width="1.1"/>
<line x1="158.45" y1="739.86" x2="162.15" y2="739.86" stroke="#4b2d7f" stroke-width="1.1"/>
<line x1="161.75" y1="884.58" x2="165.44" y2="884.58" stroke="#4b2d7f" stroke-width="1.1"/>
<line x1="161.75" y1="737.88" x2="165.44" y2="737.88" stroke="#4b2d7f" stroke-width="1.1"/>
<line x1="165.04" y1="882.12" x2="168.73" y2="882.12" stroke="#4b2d7f" stroke-width="1.1"/>
<line x1="165.04" y1="736.74" x2="168.73" y2="736.74" stroke="#4b2d7f" stroke-width="1.1"/>
<line x1="168.33" y1="879.95" x2="172.02" y2="879.95" stroke="#4b2d7f" stroke-width="1.1"/>
<line x1="168.33" y1="736.26" x2="172.02" y2="736.26" stroke="#4b2d7f" stroke-width="1.1"/>
<line x1="171.62" y1="876.97" x2="175.31" y2="876.97" stroke="#4b2d7f" stroke-width="1.1"/>
<line x1="171.62" y1="735.78" x2="175.31" y2="735.78" stroke="#4b2d7f" stroke-width="1.1"/>
<line x1="174.91" y1="873.32" x2="178.61" y2="873.32" stroke="#4b2d7f" stroke-width="1.1"/>
<line x1="174.91" y1="735.30" x2="178.61" y2="735.30" stroke="#4b2d7f" stroke-width="1.1"/>
<line x1="178.21" y1="870.36" x2="181.90" y2="870.36" stroke="#4b2d7f" stroke-width="1.1"/>
<line x1="178.21" y1="734.82" x2="181.90" y2="734.82" stroke="#4b2d7f" stroke-width="1.1"/>
<line x1="181.50" y1="867.39" x2="185.19" y2="867.39" stroke="#4b2d7f" stroke-width="1.1"/>
<line x1="181.50" y1="734.33" x2="185.19" y2="734.33" stroke="#4b2d7f" stroke-width="1.1"/>
<line x1="184.79" y1="863.80" x2="188.48" y2="863.80" stroke="#4b2d7f" stroke-width="1.1"/>
<line x1="184.79" y1="733.85" x2="188.48" y2="733.85" stroke="#4b2d7f" stroke-width="1.1"/>
<line x1="188.08" y1="860.17" x2="191.77" y2="860.17" stroke="#4b2d7f" stroke-width="1.1"/>
<line x1="188.08" y1="733.37" x2="191.77" y2="733.37" stroke="#4b2d7f" stroke-width="1.1"/>
<line x1="191.37" y1="856.07" x2="195.07" y2="856.07" stroke="#4b2d7f" stroke-width="1.1"/>
<line x1="191.37" y1="732.85" x2="195.07" y2="732.85" stroke="#4b2d7f" stroke-width="1.1"/>
<line x1="194.67" y1="848.93" x2="198.36" y2="848.93" stroke="#4b2d7f" stroke-width="1.1"/>
<line x1="194.67" y1="732.07" x2="198.36" y2="732.07" stroke="#4b2d7f" stroke-width="1.1"/>
<line x1="197.96" y1="843.81" x2="201.65" y2="843.81" stroke="#4b2d7f" stroke-width="1.1"/>
<line x1="197.96" y1="731.30" x2="201.65" y2="731.30" stroke="#4b2d7f" stroke-width="1.1"/>
<line x1="201.25" y1="839.30" x2="204.94" y2="839.30" stroke="#4b2d7f" stroke-width="1.1"/>
<line x1="201.25" y1="730.52" x2="204.94" y2="730.52" stroke="#4b2d7f" stroke-width="1.1"/>
<line x1="204.54" y1="834.80" x2="208.23" y2="834.80" stroke="#4b2d7f" stroke-width="1.1"/>
<line x1="204.54" y1="729.75" x2="208.23" y2="729.75" stroke="#4b2d7f" stroke-width="1.1"/>
<line x1="207.83" y1="833.40" x2="211.53" y2="833.40" stroke="#4b2d7f" stroke-width="1.1"/>
<line x1="207.83" y1="728.97" x2="211.53" y2="728.97" stroke="#4b2d7f" stroke-width="1.1"/>
<line x1="211.13" y1="832.10" x2="214.82" y2="832.10" stroke="#4b2d7f" stroke-width="1.1"/>
<line x1="211.13" y1="728.20" x2="214.82" y2="728.20" stroke="#4b2d7f" stroke-width="1.1"/>
<line x1="214.42" y1="830.81" x2="218.11" y2="830.81" stroke="#4b2d7f" stroke-width="1.1"/>
<line x1="214.42" y1="727.97" x2="218.11" y2="727.97" stroke="#4b2d7f" stroke-width="1.1"/>
<line x1="217.71" y1="829.71" x2="221.40" y2="829.71" stroke="#4b2d7f" stroke-width="1.1"/>
<line x1="217.71" y1="727.86" x2="221.40" y2="727.86" stroke="#4b2d7f" stroke-width="1.1"/>
<line x1="221.00" y1="829.41" x2="224.69" y2="829.41" stroke="#4b2d7f" stroke-width="1.1"/>
<line x1="221.00" y1="727.74" x2="224.69" y2="727.74" stroke="#4b2d7f" stroke-width="1.1"/>
<line x1="224.29" y1="829.11" x2="227.99" y2="829.11" stroke="#4b2d7f" stroke-width="1.1"/>
<line x1="224.29" y1="727.62" x2="227.99" y2="727.62" stroke="#4b2d7f" stroke-width="1.1"/>
<line x1="227.59" y1="828.82" x2="231.28" y2="828.82" stroke="#4b2d7f" stroke-width="1.1"/>
<line x1="227.59" y1="727.51" x2="231.28" y2="727.51" stroke="#4b2d7f" stroke-width="1.1"/>
<line x1="230.88" y1="828.57" x2="234.57" y2="828.57" stroke="#4b2d7f" stroke-width="1.1"/>
<line x1="230.88" y1="728.40" x2="234.57" y2="728.40" stroke="#4b2d7f" stroke-width="1.1"/>
<line x1="234.17" y1="828.78" x2="237.86" y2="828.78" stroke="#4b2d7f" stroke-width="1.1"/>
<line x1="234.17" y1="730.08" x2="237.86" y2="730.08" stroke="#4b2d7f" stroke-width="1.1"/>
<line x1="237.46" y1="829.00" x2="241.15" y2="829.00" stroke="#4b2d7f" stroke-width="1.1"/>
<line x1="237.46" y1="731.75" x2="241.15" y2="731.75" stroke="#4b2d7f" stroke-width="1.1"/>
<line x1="240.75" y1="829.21" x2="244.45" y2="829.21" stroke="#4b2d7f" stroke-width="1.1"/>
<line x1="240.75" y1="731.93" x2="244.45" y2="731.93" stroke="#4b2d7f" stroke-width="1.1"/>
<line x1="244.05" y1="829.42" x2="247.74" y2="829.42" stroke="#4b2d7f" stroke-width="1.1"/>
<line x1="244.05" y1="731.66" x2="247.74" y2="731.66" stroke="#4b2d7f" stroke-width="1.1"/>
<line x1="247.34" y1="829.63" x2="251.03" y2="829.63" stroke="#4b2d7f" stroke-width="1.1"/>
<line x1="247.34" y1="731.39" x2="251.03" y2="731.39" stroke="#4b2d7f" stroke-width="1.1"/>
<line x1="250.63" y1="829.97" x2="254.32" y2="829.97" stroke="#4b2d7f" stroke-width="1.1"/>
<line x1="250.63" y1="731.12" x2="254.32" y2="731.12" stroke="#4b2d7f" stroke-width="1.1"/>
<line x1="253.92" y1="830.51" x2="257.61" y2="830.51" stroke="#4b2d7f" stroke-width="1.1"/>
<line x1="253.92" y1="730.76" x2="257.61" y2="730.76" stroke="#4b2d7f" stroke-width="1.1"/>
<line x1="257.21" y1="831.06" x2="260.91" y2="831.06" stroke="#4b2d7f" stroke-width="1.1"/>
<line x1="257.21" y1="730.08" x2="260.91" y2="730.08" stroke="#4b2d7f" stroke-width="1.1"/>
<line x1="260.51" y1="831.60" x2="264.20" y2="831.60" stroke="#4b2d7f" stroke-width="1.1"/>
<line x1="260.51" y1="729.23" x2="264.20" y2="729.23" stroke="#4b2d7f" stroke-width="1.1"/>
<line x1="263.80" y1="832.15" x2="267.49" y2="832.15" stroke="#4b2d7f" stroke-width="1.1"/>
<line x1="263.80" y1="728.16" x2="267.49" y2="728.16" stroke="#4b2d7f" stroke-width="1.1"/>
<line x1="267.09" y1="832.69" x2="270.78" y2="832.69" stroke="#4b2d7f" stroke-width="1.1"/>
<line x1="267.09" y1="727.08" x2="270.78" y2="727.08" stroke="#4b2d7f" stroke-width="1.1"/>
<line x1="270.38" y1="833.23" x2="274.07" y2="833.23" stroke="#4b2d7f" stroke-width="1.1"/>
<line x1="270.38" y1="726.01" x2="274.07" y2="726.01" stroke="#4b2d7f" stroke-width="1.1"/>
<line x1="273.67" y1="833.72" x2="277.37" y2="833.72" stroke="#4b2d7f" stroke-width="1.1"/>
<line x1="273.67" y1="725.31" x2="277.37" y2="725.31" stroke="#4b2d7f" stroke-width="1.1"/>
<line x1="276.97" y1="834.05" x2="280.66" y2="834.05" stroke="#4b2d7f" stroke-width="1.1"/>
<line x1="276.97" y1="725.65" x2="280.66" y2="725.65" stroke="#4b2d7f" stroke-width="1.1"/>
<line x1="280.26" y1="834.38" x2="283.95" y2="834.38" stroke="#4b2d7f" stroke-width="1.1"/>
<line x1="280.26" y1="725.99" x2="283.95" y2="725.99" stroke="#4b2d7f" stroke-width="1.1"/>
<line x1="283.55" y1="834.71" x2="287.24" y2="834.71" stroke="#4b2d7f" stroke-width="1.1"/>
<line x1="283.55" y1="726.32" x2="287.24" y2="726.32" stroke="#4b2d7f" stroke-width="1.1"/>
<line x1="286.84" y1="835.03" x2="290.53" y2="835.03" stroke="#4b2d7f" stroke-width="1.1"/>
<line x1="286.84" y1="726.66" x2="290.53" y2="726.66" stroke="#4b2d7f" stroke-width="1.1"/>
<line x1="290.13" y1="835.36" x2="293.83" y2="835.36" stroke="#4b2d7f" stroke-width="1.1"/>
<line x1="290.13" y1="727.00" x2="293.83" y2="727.00" stroke="#4b2d7f" stroke-width="1.1"/>
<line x1="293.43" y1="835.69" x2="297.12" y2="835.69" stroke="#4b2d7f" stroke-width="1.1"/>
<line x1="293.43" y1="727.34" x2="297.12" y2="727.34" stroke="#4b2d7f" stroke-width="1.1"/>
<line x1="296.72" y1="836.02" x2="300.41" y2="836.02" stroke="#4b2d7f" stroke-width="1.1"/>
<line x1="296.72" y1="727.67" x2="300.41" y2="727.67" stroke="#4b2d7f" stroke-width="1.1"/>
<line x1="300.01" y1="836.35" x2="303.70" y2="836.35" stroke="#4b2d7f" stroke-width="1.1"/>
<line x1="300.01" y1="728.01" x2="303.70" y2="728.01" stroke="#4b2d7f" stroke-width="1.1"/>
<line x1="303.30" y1="836.67" x2="306.99" y2="836.67" stroke="#4b2d7f" stroke-width="1.1"/>
<line x1="303.30" y1="731.94" x2="306.99" y2="731.94" stroke="#4b2d7f" stroke-width="1.1"/>
<line x1="306.59" y1="837.00" x2="310.29" y2="837.00" stroke="#4b2d7f" stroke-width="1.1"/>
<line x1="306.59" y1="736.59" x2="310.29" y2="736.59" stroke="#4b2d7f" stroke-width="1.1"/>
<line x1="309.89" y1="838.06" x2="313.58" y2="838.06" stroke="#4b2d7f" stroke-width="1.1"/>
<line x1="309.89" y1="738.92" x2="313.58" y2="738.92" stroke="#4b2d7f" stroke-width="1.1"/>
<line x1="313.18" y1="839.38" x2="316.87" y2="839.38" stroke="#4b2d7f" stroke-width="1.1"/>
<line x1="313.18" y1="740.41" x2="316.87" y2="740.41" stroke="#4b2d7f" stroke-width="1.1"/>
<line x1="316.47" y1="840.70" x2="320.16" y2="840.70" stroke="#4b2d7f" stroke-width="1.1"/>
<line x1="316.47" y1="741.89" x2="320.16" y2="741.89" stroke="#4b2d7f" stroke-width="1.1"/>
<line x1="319.76" y1="842.02" x2="323.45" y2="842.02" stroke="#4b2d7f" stroke-width="1.1"/>
<line x1="319.76" y1="743.38" x2="323.45" y2="743.38" stroke="#4b2d7f" stroke-width="1.1"/>
<line x1="323.05" y1="843.35" x2="326.75" y2="843.35" stroke="#4b2d7f" stroke-width="1.1"/>
<line x1="323.05" y1="744.86" x2="326.75" y2="744.86" stroke="#4b2d7f" stroke-width="1.1"/>
<line x1="326.35" y1="844.42" x2="330.04" y2="844.42" stroke="#4b2d7f" stroke-width="1.1"/>
<line x1="326.35" y1="746.35" x2="330.04" y2="746.35" stroke="#4b2d7f" stroke-width="1.1"/>
<line x1="329.64" y1="845.24" x2="333.33" y2="845.24" stroke="#4b2d7f" stroke-width="1.1"/>
<line x1="329.64" y1="747.90" x2="333.33" y2="747.90" stroke="#4b2d7f" stroke-width="1.1"/>
<line x1="332.93" y1="846.06" x2="336.62" y2="846.06" stroke="#4b2d7f" stroke-width="1.1"/>
<line x1="332.93" y1="749.55" x2="336.62" y2="749.55" stroke="#4b2d7f" stroke-width="1.1"/>
<line x1="336.22" y1="846.88" x2="339.91" y2="846.88" stroke="#4b2d7f" stroke-width="1.1"/>
<line x1="336.22" y1="751.19" x2="339.91" y2="751.19" stroke="#4b2d7f" stroke-width="1.1"/>
<line x1="339.51" y1="847.70" x2="343.21" y2="847.70" stroke="#4b2d7f" stroke-width="1.1"/>
<line x1="339.51" y1="752.84" x2="343.21" y2="752.84" stroke="#4b2d7f" stroke-width="1.1"/>
<line x1="342.81" y1="848.52" x2="346.50" y2="848.52" stroke="#4b2d7f" stroke-width="1.1"/>
<line x1="342.81" y1="754.37" x2="346.50" y2="754.37" stroke="#4b2d7f" stroke-width="1.1"/>
<line x1="346.10" y1="849.34" x2="349.79" y2="849.34" stroke="#4b2d7f" stroke-width="1.1"/>
<line x1="346.10" y1="755.49" x2="349.79" y2="755.49" stroke="#4b2d7f" stroke-width="1.1"/>
<line x1="349.39" y1="850.16" x2="353.08" y2="850.16" stroke="#4b2d7f" stroke-width="1.1"/>
<line x1="349.39" y1="756.62" x2="353.08" y2="756.62" stroke="#4b2d7f" stroke-width="1.1"/>
<line x1="352.68" y1="851.00" x2="356.37" y2="851.00" stroke="#4b2d7f" stroke-width="1.1"/>
<line x1="352.68" y1="757.75" x2="356.37" y2="757.75" stroke="#4b2d7f" stroke-width="1.1"/>
<line x1="355.97" y1="852.19" x2="359.67" y2="852.19" stroke="#4b2d7f" stroke-width="1.1"/>
<line x1="355.97" y1="758.88" x2="359.67" y2="758.88" stroke="#4b2d7f" stroke-width="1.1"/>
<line x1="359.27" y1="853.38" x2="362.96" y2="853.38" stroke="#4b2d7f" stroke-width="1.1"/>
<line x1="359.27" y1="760.00" x2="362.96" y2="760.00" stroke="#4b2d7f" stroke-width="1.1"/>
<line x1="362.56" y1="854.56" x2="366.25" y2="854.56" stroke="#4b2d7f" stroke-width="1.1"/>
<line x1="362.56" y1="760.61" x2="366.25" y2="760.61" stroke="#4b2d7f" stroke-width="1.1"/>
<line x1="365.85" y1="855.75" x2="369.54" y2="855.75" stroke="#4b2d7f" stroke-width="1.1"/>
<line x1="365.85" y1="761.21" x2="369.54" y2="761.21" stroke="#4b2d7f" stroke-width="1.1"/>
<line x1="369.14" y1="856.94" x2="372.83" y2="856.94" stroke="#4b2d7f" stroke-width="1.1"/>
<line x1="369.14" y1="761.82" x2="372.83" y2="761.82" stroke="#4b2d7f" stroke-width="1.1"/>
<line x1="372.43" y1="858.12" x2="376.13" y2="858.12" stroke="#4b2d7f" stroke-width="1.1"/>
<line x1="372.43" y1="762.42" x2="376.13" y2="762.42" stroke="#4b2d7f" stroke-width="1.1"/>
<line x1="375.73" y1="859.31" x2="379.42" y2="859.31" stroke="#4b2d7f" stroke-width="1.1"/>
<line x1="375.73" y1="763.03" x2="379.42" y2="763.03" stroke="#4b2d7f" stroke-width="1.1"/>
<line x1="379.02" y1="860.15" x2="382.71" y2="860.15" stroke="#4b2d7f" stroke-width="1.1"/>
<line x1="379.02" y1="763.63" x2="382.71" y2="763.63" stroke="#4b2d7f" stroke-width="1.1"/>
<line x1="382.31" y1="860.84" x2="386.00" y2="860.84" stroke="#4b2d7f" stroke-width="1.1"/>
<line x1="382.31" y1="764.24" x2="386.00" y2="764.24" stroke="#4b2d7f" stroke-width="1.1"/>
<line x1="385.60" y1="861.53" x2="389.29" y2="861.53" stroke="#4b2d7f" stroke-width="1.1"/>
<line x1="385.60" y1="765.29" x2="389.29" y2="765.29" stroke="#4b2d7f" stroke-width="1.1"/>
<line x1="388.89" y1="862.22" x2="392.59" y2="862.22" stroke="#4b2d7f" stroke-width="1.1"/>
<line x1="388.89" y1="766.64" x2="392.59" y2="766.64" stroke="#4b2d7f" stroke-width="1.1"/>
<line x1="392.19" y1="862.91" x2="395.88" y2="862.91" stroke="#4b2d7f" stroke-width="1.1"/>
<line x1="392.19" y1="767.99" x2="395.88" y2="767.99" stroke="#4b2d7f" stroke-width="1.1"/>
<line x1="395.48" y1="863.60" x2="399.17" y2="863.60" stroke="#4b2d7f" stroke-width="1.1"/>
<line x1="395.48" y1="769.34" x2="399.17" y2="769.34" stroke="#4b2d7f" stroke-width="1.1"/>
<line x1="398.77" y1="864.29" x2="402.46" y2="864.29" stroke="#4b2d7f" stroke-width="1.1"/>
<line x1="398.77" y1="770.69" x2="402.46" y2="770.69" stroke="#4b2d7f" stroke-width="1.1"/>
<line x1="402.06" y1="864.85" x2="405.75" y2="864.85" stroke="#4b2d7f" stroke-width="1.1"/>
<line x1="402.06" y1="771.85" x2="405.75" y2="771.85" stroke="#4b2d7f" stroke-width="1.1"/>
<line x1="405.35" y1="865.16" x2="409.05" y2="865.16" stroke="#4b2d7f" stroke-width="1.1"/>
<line x1="405.35" y1="772.61" x2="409.05" y2="772.61" stroke="#4b2d7f" stroke-width="1.1"/>
<rect x="397.3" y="760.00" width="6.8" height="110.04" fill="#f0ca6c" opacity=".85"/>
<path d="M78.00,962.24 L81.29,955.79 L84.58,954.20 L87.88,946.87 L91.17,939.34 L94.46,931.91 L97.75,925.87 L101.04,917.43 L104.34,905.18 L107.63,900.27 L110.92,892.79 L114.21,884.51 L117.50,876.24 L120.80,862.19 L124.09,846.47 L127.38,834.41 L130.67,825.03 L133.96,828.17 L137.26,825.14 L140.55,825.51 L143.84,820.32 L147.13,819.93 L150.42,826.13 L153.72,829.71 L157.01,827.99 L160.30,824.13 L163.59,820.08 L166.88,819.37 L170.18,828.22 L173.47,828.64 L176.76,832.77 L180.05,832.55 L183.34,829.36 L186.64,825.52 L189.93,822.75 L193.22,824.42 L196.51,823.05 L199.80,821.89 L203.10,825.56 L206.39,823.47 L209.68,825.48 L212.97,825.27 L216.26,826.09 L219.56,823.51 L222.85,816.87 L226.14,811.90 L229.43,811.07 L232.72,808.87 L236.02,808.81 L239.31,804.22 L242.60,805.13 L245.89,802.94 L249.18,804.46 L252.48,804.38 L255.77,806.88 L259.06,801.47 L262.35,812.05 L265.64,814.47 L268.94,813.42 L272.23,812.21 L275.52,814.43 L278.81,813.73 L282.10,812.57 L285.40,814.19 L288.69,812.37 L291.98,812.71 L295.27,812.32 L298.56,812.76 L301.86,811.81 L305.15,813.26 L308.44,812.70 L311.73,813.98 L315.02,812.76 L318.32,813.08 L321.61,811.71 L324.90,811.80 L328.19,813.77 L331.48,814.01 L334.78,813.81 L338.07,813.64 L341.36,812.33 L344.65,812.76 L347.94,812.68 L351.24,812.76 L354.53,813.78 L357.82,812.74 L361.11,811.16 L364.40,811.50 L367.70,812.01 L370.99,812.83 L374.28,810.97 L377.57,812.08 L380.86,811.81 L384.16,813.17 L387.45,813.20 L390.74,813.49 L394.03,813.71 L397.32,814.95 L400.62,813.73 L403.91,815.26 L407.20,815.07" fill="none" stroke="#e38a3e" stroke-width="3.6" stroke-linejoin="round"/>
<path d="M75.40,959.64 L80.60,964.84 M75.40,964.84 L80.60,959.64 M75.40,962.24 L80.60,962.24" stroke="#e38a3e" stroke-width="1"/>
<path d="M78.69,953.19 L83.89,958.39 M78.69,958.39 L83.89,953.19 M78.69,955.79 L83.89,955.79" stroke="#e38a3e" stroke-width="1"/>
<path d="M81.98,951.60 L87.18,956.80 M81.98,956.80 L87.18,951.60 M81.98,954.20 L87.18,954.20" stroke="#e38a3e" stroke-width="1"/>
<path d="M85.28,944.27 L90.48,949.47 M85.28,949.47 L90.48,944.27 M85.28,946.87 L90.48,946.87" stroke="#e38a3e" stroke-width="1"/>
<path d="M88.57,936.74 L93.77,941.94 M88.57,941.94 L93.77,936.74 M88.57,939.34 L93.77,939.34" stroke="#e38a3e" stroke-width="1"/>
<path d="M91.86,929.31 L97.06,934.51 M91.86,934.51 L97.06,929.31 M91.86,931.91 L97.06,931.91" stroke="#e38a3e" stroke-width="1"/>
<path d="M95.15,923.27 L100.35,928.47 M95.15,928.47 L100.35,923.27 M95.15,925.87 L100.35,925.87" stroke="#e38a3e" stroke-width="1"/>
<path d="M98.44,914.83 L103.64,920.03 M98.44,920.03 L103.64,914.83 M98.44,917.43 L103.64,917.43" stroke="#e38a3e" stroke-width="1"/>
<path d="M101.74,902.58 L106.94,907.78 M101.74,907.78 L106.94,902.58 M101.74,905.18 L106.94,905.18" stroke="#e38a3e" stroke-width="1"/>
<path d="M105.03,897.67 L110.23,902.87 M105.03,902.87 L110.23,897.67 M105.03,900.27 L110.23,900.27" stroke="#e38a3e" stroke-width="1"/>
<path d="M108.32,890.19 L113.52,895.39 M108.32,895.39 L113.52,890.19 M108.32,892.79 L113.52,892.79" stroke="#e38a3e" stroke-width="1"/>
<path d="M111.61,881.91 L116.81,887.11 M111.61,887.11 L116.81,881.91 M111.61,884.51 L116.81,884.51" stroke="#e38a3e" stroke-width="1"/>
<path d="M114.90,873.64 L120.10,878.84 M114.90,878.84 L120.10,873.64 M114.90,876.24 L120.10,876.24" stroke="#e38a3e" stroke-width="1"/>
<path d="M118.20,859.59 L123.40,864.79 M118.20,864.79 L123.40,859.59 M118.20,862.19 L123.40,862.19" stroke="#e38a3e" stroke-width="1"/>
<path d="M121.49,843.87 L126.69,849.07 M121.49,849.07 L126.69,843.87 M121.49,846.47 L126.69,846.47" stroke="#e38a3e" stroke-width="1"/>
<path d="M124.78,831.81 L129.98,837.01 M124.78,837.01 L129.98,831.81 M124.78,834.41 L129.98,834.41" stroke="#e38a3e" stroke-width="1"/>
<path d="M128.07,822.43 L133.27,827.63 M128.07,827.63 L133.27,822.43 M128.07,825.03 L133.27,825.03" stroke="#e38a3e" stroke-width="1"/>
<path d="M131.36,825.57 L136.56,830.77 M131.36,830.77 L136.56,825.57 M131.36,828.17 L136.56,828.17" stroke="#e38a3e" stroke-width="1"/>
<path d="M134.66,822.54 L139.86,827.74 M134.66,827.74 L139.86,822.54 M134.66,825.14 L139.86,825.14" stroke="#e38a3e" stroke-width="1"/>
<path d="M137.95,822.91 L143.15,828.11 M137.95,828.11 L143.15,822.91 M137.95,825.51 L143.15,825.51" stroke="#e38a3e" stroke-width="1"/>
<path d="M141.24,817.72 L146.44,822.92 M141.24,822.92 L146.44,817.72 M141.24,820.32 L146.44,820.32" stroke="#e38a3e" stroke-width="1"/>
<path d="M144.53,817.33 L149.73,822.53 M144.53,822.53 L149.73,817.33 M144.53,819.93 L149.73,819.93" stroke="#e38a3e" stroke-width="1"/>
<path d="M147.82,823.53 L153.02,828.73 M147.82,828.73 L153.02,823.53 M147.82,826.13 L153.02,826.13" stroke="#e38a3e" stroke-width="1"/>
<path d="M151.12,827.11 L156.32,832.31 M151.12,832.31 L156.32,827.11 M151.12,829.71 L156.32,829.71" stroke="#e38a3e" stroke-width="1"/>
<path d="M154.41,825.39 L159.61,830.59 M154.41,830.59 L159.61,825.39 M154.41,827.99 L159.61,827.99" stroke="#e38a3e" stroke-width="1"/>
<path d="M157.70,821.53 L162.90,826.73 M157.70,826.73 L162.90,821.53 M157.70,824.13 L162.90,824.13" stroke="#e38a3e" stroke-width="1"/>
<path d="M160.99,817.48 L166.19,822.68 M160.99,822.68 L166.19,817.48 M160.99,820.08 L166.19,820.08" stroke="#e38a3e" stroke-width="1"/>
<path d="M164.28,816.77 L169.48,821.97 M164.28,821.97 L169.48,816.77 M164.28,819.37 L169.48,819.37" stroke="#e38a3e" stroke-width="1"/>
<path d="M167.58,825.62 L172.78,830.82 M167.58,830.82 L172.78,825.62 M167.58,828.22 L172.78,828.22" stroke="#e38a3e" stroke-width="1"/>
<path d="M170.87,826.04 L176.07,831.24 M170.87,831.24 L176.07,826.04 M170.87,828.64 L176.07,828.64" stroke="#e38a3e" stroke-width="1"/>
<path d="M174.16,830.17 L179.36,835.37 M174.16,835.37 L179.36,830.17 M174.16,832.77 L179.36,832.77" stroke="#e38a3e" stroke-width="1"/>
<path d="M177.45,829.95 L182.65,835.15 M177.45,835.15 L182.65,829.95 M177.45,832.55 L182.65,832.55" stroke="#e38a3e" stroke-width="1"/>
<path d="M180.74,826.76 L185.94,831.96 M180.74,831.96 L185.94,826.76 M180.74,829.36 L185.94,829.36" stroke="#e38a3e" stroke-width="1"/>
<path d="M184.04,822.92 L189.24,828.12 M184.04,828.12 L189.24,822.92 M184.04,825.52 L189.24,825.52" stroke="#e38a3e" stroke-width="1"/>
<path d="M187.33,820.15 L192.53,825.35 M187.33,825.35 L192.53,820.15 M187.33,822.75 L192.53,822.75" stroke="#e38a3e" stroke-width="1"/>
<path d="M190.62,821.82 L195.82,827.02 M190.62,827.02 L195.82,821.82 M190.62,824.42 L195.82,824.42" stroke="#e38a3e" stroke-width="1"/>
<path d="M193.91,820.45 L199.11,825.65 M193.91,825.65 L199.11,820.45 M193.91,823.05 L199.11,823.05" stroke="#e38a3e" stroke-width="1"/>
<path d="M197.20,819.29 L202.40,824.49 M197.20,824.49 L202.40,819.29 M197.20,821.89 L202.40,821.89" stroke="#e38a3e" stroke-width="1"/>
<path d="M200.50,822.96 L205.70,828.16 M200.50,828.16 L205.70,822.96 M200.50,825.56 L205.70,825.56" stroke="#e38a3e" stroke-width="1"/>
<path d="M203.79,820.87 L208.99,826.07 M203.79,826.07 L208.99,820.87 M203.79,823.47 L208.99,823.47" stroke="#e38a3e" stroke-width="1"/>
<path d="M207.08,822.88 L212.28,828.08 M207.08,828.08 L212.28,822.88 M207.08,825.48 L212.28,825.48" stroke="#e38a3e" stroke-width="1"/>
<path d="M210.37,822.67 L215.57,827.87 M210.37,827.87 L215.57,822.67 M210.37,825.27 L215.57,825.27" stroke="#e38a3e" stroke-width="1"/>
<path d="M213.66,823.49 L218.86,828.69 M213.66,828.69 L218.86,823.49 M213.66,826.09 L218.86,826.09" stroke="#e38a3e" stroke-width="1"/>
<path d="M216.96,820.91 L222.16,826.11 M216.96,826.11 L222.16,820.91 M216.96,823.51 L222.16,823.51" stroke="#e38a3e" stroke-width="1"/>
<path d="M220.25,814.27 L225.45,819.47 M220.25,819.47 L225.45,814.27 M220.25,816.87 L225.45,816.87" stroke="#e38a3e" stroke-width="1"/>
<path d="M223.54,809.30 L228.74,814.50 M223.54,814.50 L228.74,809.30 M223.54,811.90 L228.74,811.90" stroke="#e38a3e" stroke-width="1"/>
<path d="M226.83,808.47 L232.03,813.67 M226.83,813.67 L232.03,808.47 M226.83,811.07 L232.03,811.07" stroke="#e38a3e" stroke-width="1"/>
<path d="M230.12,806.27 L235.32,811.47 M230.12,811.47 L235.32,806.27 M230.12,808.87 L235.32,808.87" stroke="#e38a3e" stroke-width="1"/>
<path d="M233.42,806.21 L238.62,811.41 M233.42,811.41 L238.62,806.21 M233.42,808.81 L238.62,808.81" stroke="#e38a3e" stroke-width="1"/>
<path d="M236.71,801.62 L241.91,806.82 M236.71,806.82 L241.91,801.62 M236.71,804.22 L241.91,804.22" stroke="#e38a3e" stroke-width="1"/>
<path d="M240.00,802.53 L245.20,807.73 M240.00,807.73 L245.20,802.53 M240.00,805.13 L245.20,805.13" stroke="#e38a3e" stroke-width="1"/>
<path d="M243.29,800.34 L248.49,805.54 M243.29,805.54 L248.49,800.34 M243.29,802.94 L248.49,802.94" stroke="#e38a3e" stroke-width="1"/>
<path d="M246.58,801.86 L251.78,807.06 M246.58,807.06 L251.78,801.86 M246.58,804.46 L251.78,804.46" stroke="#e38a3e" stroke-width="1"/>
<path d="M249.88,801.78 L255.08,806.98 M249.88,806.98 L255.08,801.78 M249.88,804.38 L255.08,804.38" stroke="#e38a3e" stroke-width="1"/>
<path d="M253.17,804.28 L258.37,809.48 M253.17,809.48 L258.37,804.28 M253.17,806.88 L258.37,806.88" stroke="#e38a3e" stroke-width="1"/>
<path d="M256.46,798.87 L261.66,804.07 M256.46,804.07 L261.66,798.87 M256.46,801.47 L261.66,801.47" stroke="#e38a3e" stroke-width="1"/>
<path d="M259.75,809.45 L264.95,814.65 M259.75,814.65 L264.95,809.45 M259.75,812.05 L264.95,812.05" stroke="#e38a3e" stroke-width="1"/>
<path d="M263.04,811.87 L268.24,817.07 M263.04,817.07 L268.24,811.87 M263.04,814.47 L268.24,814.47" stroke="#e38a3e" stroke-width="1"/>
<path d="M266.34,810.82 L271.54,816.02 M266.34,816.02 L271.54,810.82 M266.34,813.42 L271.54,813.42" stroke="#e38a3e" stroke-width="1"/>
<path d="M269.63,809.61 L274.83,814.81 M269.63,814.81 L274.83,809.61 M269.63,812.21 L274.83,812.21" stroke="#e38a3e" stroke-width="1"/>
<path d="M272.92,811.83 L278.12,817.03 M272.92,817.03 L278.12,811.83 M272.92,814.43 L278.12,814.43" stroke="#e38a3e" stroke-width="1"/>
<path d="M276.21,811.13 L281.41,816.33 M276.21,816.33 L281.41,811.13 M276.21,813.73 L281.41,813.73" stroke="#e38a3e" stroke-width="1"/>
<path d="M279.50,809.97 L284.70,815.17 M279.50,815.17 L284.70,809.97 M279.50,812.57 L284.70,812.57" stroke="#e38a3e" stroke-width="1"/>
<path d="M282.80,811.59 L288.00,816.79 M282.80,816.79 L288.00,811.59 M282.80,814.19 L288.00,814.19" stroke="#e38a3e" stroke-width="1"/>
<path d="M286.09,809.77 L291.29,814.97 M286.09,814.97 L291.29,809.77 M286.09,812.37 L291.29,812.37" stroke="#e38a3e" stroke-width="1"/>
<path d="M289.38,810.11 L294.58,815.31 M289.38,815.31 L294.58,810.11 M289.38,812.71 L294.58,812.71" stroke="#e38a3e" stroke-width="1"/>
<path d="M292.67,809.72 L297.87,814.92 M292.67,814.92 L297.87,809.72 M292.67,812.32 L297.87,812.32" stroke="#e38a3e" stroke-width="1"/>
<path d="M295.96,810.16 L301.16,815.36 M295.96,815.36 L301.16,810.16 M295.96,812.76 L301.16,812.76" stroke="#e38a3e" stroke-width="1"/>
<path d="M299.26,809.21 L304.46,814.41 M299.26,814.41 L304.46,809.21 M299.26,811.81 L304.46,811.81" stroke="#e38a3e" stroke-width="1"/>
<path d="M302.55,810.66 L307.75,815.86 M302.55,815.86 L307.75,810.66 M302.55,813.26 L307.75,813.26" stroke="#e38a3e" stroke-width="1"/>
<path d="M305.84,810.10 L311.04,815.30 M305.84,815.30 L311.04,810.10 M305.84,812.70 L311.04,812.70" stroke="#e38a3e" stroke-width="1"/>
<path d="M309.13,811.38 L314.33,816.58 M309.13,816.58 L314.33,811.38 M309.13,813.98 L314.33,813.98" stroke="#e38a3e" stroke-width="1"/>
<path d="M312.42,810.16 L317.62,815.36 M312.42,815.36 L317.62,810.16 M312.42,812.76 L317.62,812.76" stroke="#e38a3e" stroke-width="1"/>
<path d="M315.72,810.48 L320.92,815.68 M315.72,815.68 L320.92,810.48 M315.72,813.08 L320.92,813.08" stroke="#e38a3e" stroke-width="1"/>
<path d="M319.01,809.11 L324.21,814.31 M319.01,814.31 L324.21,809.11 M319.01,811.71 L324.21,811.71" stroke="#e38a3e" stroke-width="1"/>
<path d="M322.30,809.20 L327.50,814.40 M322.30,814.40 L327.50,809.20 M322.30,811.80 L327.50,811.80" stroke="#e38a3e" stroke-width="1"/>
<path d="M325.59,811.17 L330.79,816.37 M325.59,816.37 L330.79,811.17 M325.59,813.77 L330.79,813.77" stroke="#e38a3e" stroke-width="1"/>
<path d="M328.88,811.41 L334.08,816.61 M328.88,816.61 L334.08,811.41 M328.88,814.01 L334.08,814.01" stroke="#e38a3e" stroke-width="1"/>
<path d="M332.18,811.21 L337.38,816.41 M332.18,816.41 L337.38,811.21 M332.18,813.81 L337.38,813.81" stroke="#e38a3e" stroke-width="1"/>
<path d="M335.47,811.04 L340.67,816.24 M335.47,816.24 L340.67,811.04 M335.47,813.64 L340.67,813.64" stroke="#e38a3e" stroke-width="1"/>
<path d="M338.76,809.73 L343.96,814.93 M338.76,814.93 L343.96,809.73 M338.76,812.33 L343.96,812.33" stroke="#e38a3e" stroke-width="1"/>
<path d="M342.05,810.16 L347.25,815.36 M342.05,815.36 L347.25,810.16 M342.05,812.76 L347.25,812.76" stroke="#e38a3e" stroke-width="1"/>
<path d="M345.34,810.08 L350.54,815.28 M345.34,815.28 L350.54,810.08 M345.34,812.68 L350.54,812.68" stroke="#e38a3e" stroke-width="1"/>
<path d="M348.64,810.16 L353.84,815.36 M348.64,815.36 L353.84,810.16 M348.64,812.76 L353.84,812.76" stroke="#e38a3e" stroke-width="1"/>
<path d="M351.93,811.18 L357.13,816.38 M351.93,816.38 L357.13,811.18 M351.93,813.78 L357.13,813.78" stroke="#e38a3e" stroke-width="1"/>
<path d="M355.22,810.14 L360.42,815.34 M355.22,815.34 L360.42,810.14 M355.22,812.74 L360.42,812.74" stroke="#e38a3e" stroke-width="1"/>
<path d="M358.51,808.56 L363.71,813.76 M358.51,813.76 L363.71,808.56 M358.51,811.16 L363.71,811.16" stroke="#e38a3e" stroke-width="1"/>
<path d="M361.80,808.90 L367.00,814.10 M361.80,814.10 L367.00,808.90 M361.80,811.50 L367.00,811.50" stroke="#e38a3e" stroke-width="1"/>
<path d="M365.10,809.41 L370.30,814.61 M365.10,814.61 L370.30,809.41 M365.10,812.01 L370.30,812.01" stroke="#e38a3e" stroke-width="1"/>
<path d="M368.39,810.23 L373.59,815.43 M368.39,815.43 L373.59,810.23 M368.39,812.83 L373.59,812.83" stroke="#e38a3e" stroke-width="1"/>
<path d="M371.68,808.37 L376.88,813.57 M371.68,813.57 L376.88,808.37 M371.68,810.97 L376.88,810.97" stroke="#e38a3e" stroke-width="1"/>
<path d="M374.97,809.48 L380.17,814.68 M374.97,814.68 L380.17,809.48 M374.97,812.08 L380.17,812.08" stroke="#e38a3e" stroke-width="1"/>
<path d="M378.26,809.21 L383.46,814.41 M378.26,814.41 L383.46,809.21 M378.26,811.81 L383.46,811.81" stroke="#e38a3e" stroke-width="1"/>
<path d="M381.56,810.57 L386.76,815.77 M381.56,815.77 L386.76,810.57 M381.56,813.17 L386.76,813.17" stroke="#e38a3e" stroke-width="1"/>
<path d="M384.85,810.60 L390.05,815.80 M384.85,815.80 L390.05,810.60 M384.85,813.20 L390.05,813.20" stroke="#e38a3e" stroke-width="1"/>
<path d="M388.14,810.89 L393.34,816.09 M388.14,816.09 L393.34,810.89 M388.14,813.49 L393.34,813.49" stroke="#e38a3e" stroke-width="1"/>
<path d="M391.43,811.11 L396.63,816.31 M391.43,816.31 L396.63,811.11 M391.43,813.71 L396.63,813.71" stroke="#e38a3e" stroke-width="1"/>
<path d="M394.72,812.35 L399.92,817.55 M394.72,817.55 L399.92,812.35 M394.72,814.95 L399.92,814.95" stroke="#e38a3e" stroke-width="1"/>
<path d="M398.02,811.13 L403.22,816.33 M398.02,816.33 L403.22,811.13 M398.02,813.73 L403.22,813.73" stroke="#e38a3e" stroke-width="1"/>
<path d="M401.31,812.66 L406.51,817.86 M401.31,817.86 L406.51,812.66 M401.31,815.26 L406.51,815.26" stroke="#e38a3e" stroke-width="1"/>
<path d="M404.60,812.47 L409.80,817.67 M404.60,817.67 L409.80,812.47 M404.60,815.07 L409.80,815.07" stroke="#e38a3e" stroke-width="1"/>
<path d="M81.29,960.55 L83.12,957.62 L84.95,952.81 L86.78,949.11 L88.61,945.61 L90.44,942.36 L92.27,939.92 L94.09,945.72 L95.92,951.53 L97.75,947.85 L99.58,941.60 L101.41,925.56 L103.24,904.81 L105.07,892.56 L106.90,900.75 L108.73,888.59 L110.55,900.04 L112.38,894.81 L114.21,889.23 L116.04,878.99 L117.87,883.82 L119.70,889.83 L121.53,894.06 L123.36,908.77 L125.19,890.55 L127.01,883.11 L128.84,877.16 L130.67,869.42 L132.50,865.09 L134.33,861.04 L136.16,857.31 L137.99,853.69 L139.82,850.10 L141.65,846.50 L143.47,839.72 L145.30,831.76 L147.13,827.43 L148.96,825.55 L150.79,824.53 L152.62,823.51 L154.45,821.99 L156.28,820.43 L158.11,818.88 L159.93,816.73 L161.76,814.29 L163.59,811.85 L165.42,809.88 L167.25,808.82 L169.08,807.76 L170.91,806.70 L172.74,805.64 L174.57,804.58 L176.39,803.53 L178.22,802.47 L180.05,800.66 L181.88,798.48 L183.71,796.29 L185.54,795.17 L187.37,794.08 L189.20,793.00 L191.03,791.92 L192.85,790.84 L194.68,789.75 L196.51,788.67 L198.34,787.59 L200.17,786.49 L202.00,785.36 L203.83,784.23 L205.66,783.10 L207.49,781.97 L209.31,780.84 L211.14,779.80 L212.97,779.12 L214.80,778.75 L216.63,778.51 L218.46,778.27 L220.29,778.03 L222.12,777.79 L223.95,777.55 L225.77,777.31 L227.60,777.07 L229.43,777.01 L231.26,777.52 L233.09,778.04 L234.92,778.55 L236.75,779.07 L238.58,779.58 L240.41,780.10 L242.23,780.48 L244.06,780.75 L245.89,781.03 L247.72,781.30 L249.55,781.57 L251.38,781.84 L253.21,782.11 L255.04,782.37 L256.87,782.18 L258.69,781.99 L260.52,781.80 L262.35,781.61 L264.18,781.43 L266.01,781.24 L267.84,781.05 L269.67,780.86 L271.50,780.67 L273.33,780.48 L275.15,780.40 L276.98,780.60 L278.81,780.80 L280.64,781.00 L282.47,781.20 L284.30,781.40 L286.13,781.59 L287.96,781.79 L289.79,781.99 L291.61,782.19 L293.44,782.39 L295.27,782.59 L297.10,782.79 L298.93,783.00 L300.76,783.93 L302.59,784.85 L304.42,785.77 L306.25,786.70 L308.07,787.62 L309.90,788.54 L311.73,789.46 L313.56,790.39 L315.39,791.31 L317.22,792.15 L319.05,792.91 L320.88,793.68 L322.71,794.45 L324.53,795.22 L326.36,795.98 L328.19,796.75 L330.02,797.52 L331.85,798.28 L333.68,799.05 L335.51,799.82 L337.34,800.55 L339.17,801.09 L340.99,801.63 L342.82,802.17 L344.65,802.71 L346.48,803.25 L348.31,803.79 L350.14,804.33 L351.97,804.87 L353.80,805.41 L355.63,805.83 L357.45,806.20 L359.28,806.56 L361.11,806.93 L362.94,807.30 L364.77,807.66 L366.60,808.03 L368.43,808.40 L370.26,808.76 L372.09,809.13 L373.91,809.50 L375.74,809.86 L377.57,810.23 L379.40,810.59 L381.23,810.95 L383.06,811.32 L384.89,811.68 L386.72,812.05 L388.55,812.41 L390.37,813.14 L392.20,813.96 L394.03,814.77 L395.86,815.58 L397.69,816.39 L399.52,817.20 L401.35,818.02 L403.18,818.83 L405.01,819.60 L406.83,820.28" fill="none" stroke="#5a2c95" stroke-width="2.4" stroke-linejoin="round"/>
<circle cx="82.01" cy="960.55" r="2.7" fill="#5a2c95"/>
<circle cx="85.10" cy="952.42" r="2.7" fill="#5a2c95"/>
<circle cx="88.10" cy="946.52" r="2.7" fill="#5a2c95"/>
<circle cx="92.10" cy="939.40" r="2.7" fill="#5a2c95"/>
<circle cx="96.20" cy="952.42" r="2.7" fill="#5a2c95"/>
<circle cx="98.20" cy="946.52" r="2.7" fill="#5a2c95"/>
<circle cx="100.20" cy="939.40" r="2.7" fill="#5a2c95"/>
<circle cx="103.21" cy="905.03" r="2.7" fill="#5a2c95"/>
<circle cx="105.30" cy="890.99" r="2.7" fill="#5a2c95"/>
<circle cx="106.30" cy="907.06" r="2.7" fill="#5a2c95"/>
<circle cx="108.30" cy="885.91" r="2.7" fill="#5a2c95"/>
<circle cx="110.70" cy="900.96" r="2.7" fill="#5a2c95"/>
<circle cx="112.30" cy="895.06" r="2.7" fill="#5a2c95"/>
<circle cx="114.30" cy="888.96" r="2.7" fill="#5a2c95"/>
<circle cx="116.40" cy="876.96" r="2.7" fill="#5a2c95"/>
<circle cx="118.80" cy="888.14" r="2.7" fill="#5a2c95"/>
<circle cx="121.40" cy="893.03" r="2.7" fill="#5a2c95"/>
<circle cx="123.40" cy="909.09" r="2.7" fill="#5a2c95"/>
<circle cx="124.41" cy="894.04" r="2.7" fill="#5a2c95"/>
<circle cx="126.40" cy="885.09" r="2.7" fill="#5a2c95"/>
<circle cx="128.91" cy="876.96" r="2.7" fill="#5a2c95"/>
<circle cx="130.50" cy="869.84" r="2.7" fill="#5a2c95"/>
<circle cx="133.50" cy="862.72" r="2.7" fill="#5a2c95"/>
<circle cx="136.50" cy="856.62" r="2.7" fill="#5a2c95"/>
<circle cx="139.60" cy="850.52" r="2.7" fill="#5a2c95"/>
<circle cx="142.60" cy="844.62" r="2.7" fill="#5a2c95"/>
<circle cx="144.60" cy="833.43" r="2.7" fill="#5a2c95"/>
<circle cx="147.60" cy="826.31" r="2.7" fill="#5a2c95"/>
<circle cx="152.71" cy="823.46" r="2.7" fill="#5a2c95"/>
<circle cx="158.70" cy="818.38" r="2.7" fill="#5a2c95"/>
<circle cx="164.80" cy="810.24" r="2.7" fill="#5a2c95"/>
<path d="M147.13,827.43 L150.42,824.74 L153.72,822.61 L157.01,819.81 L160.30,816.24 L163.59,811.85 L166.88,809.03 L170.18,807.13 L173.47,805.22 L176.76,803.31 L180.05,800.66 L183.34,796.73 L186.64,794.52 L189.93,792.57 L193.22,790.62 L196.51,788.67 L199.80,786.72 L203.10,784.68 L206.39,782.65 L209.68,780.61 L212.97,779.12 L216.26,778.56 L219.56,778.12 L222.85,777.69 L226.14,777.26 L229.43,777.01 L232.72,777.93 L236.02,778.86 L239.31,779.79 L242.60,780.54 L245.89,781.03 L249.18,781.51 L252.48,782.00 L255.77,782.30 L259.06,781.96 L262.35,781.61 L265.64,781.27 L268.94,780.93 L272.23,780.59 L275.52,780.44 L278.81,780.80 L282.10,781.16 L285.40,781.51 L288.69,781.87 L291.98,782.23 L295.27,782.59 L298.56,782.95 L301.86,784.48 L305.15,786.14 L308.44,787.80 L311.73,789.46 L315.02,791.12 L318.32,792.61 L321.61,793.99 L324.90,795.37 L328.19,796.75 L331.48,798.13 L334.78,799.51 L338.07,800.77 L341.36,801.74 L344.65,802.71 L347.94,803.69 L351.24,804.66 L354.53,805.61 L357.82,806.27 L361.11,806.93 L364.40,807.59 L367.70,808.25 L370.99,808.91 L374.28,809.57 L377.57,810.23 L380.86,810.88 L384.16,811.54 L387.45,812.19 L390.74,813.31 L394.03,814.77 L397.32,816.23 L400.62,817.69 L403.91,819.15 L407.20,820.41" fill="none" stroke="#5a2c95" stroke-width="5.4" stroke-linejoin="round" stroke-linecap="round"/>
<line x1="421" y1="785.8" x2="435" y2="785.8" stroke="#5a2c95" stroke-width="2.4"/><line x1="428" y1="782" x2="428" y2="789.5" stroke="#5a2c95" stroke-width="1.5"/>
<line x1="421" y1="830" x2="435" y2="830" stroke="#e38a3e" stroke-width="2.2"/><path d="M425.5,826.5 L430.5,833.5 M425.5,833.5 L430.5,826.5" stroke="#e38a3e" stroke-width="1.2"/>
<text transform="translate(438.55,793.70) scale(1.12,1)" font-size="17.0" fill="#000" >CAST/Ei</text>
<text transform="translate(439.05,835.30) scale(1.12,1)" font-size="17.0" fill="#000" >C57/BL6</text>
</svg>
</body></html>
